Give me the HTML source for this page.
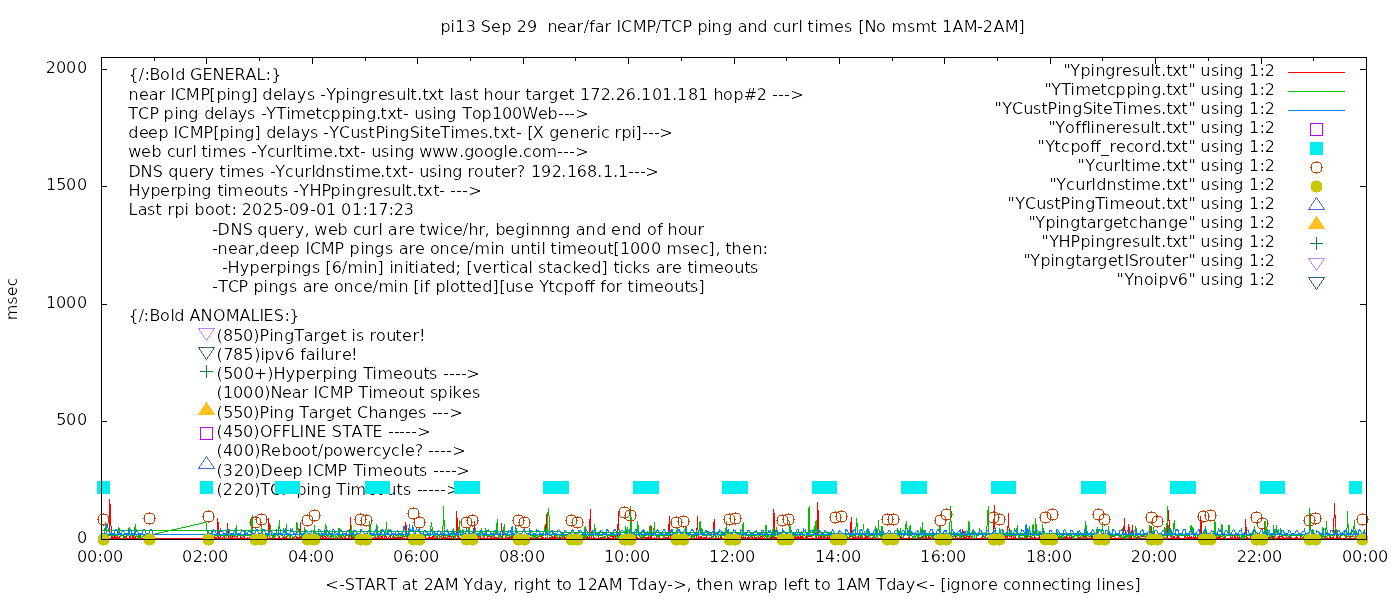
<!DOCTYPE html><html><head><meta charset="utf-8"><title>pi13 ping plot</title>
<style>html,body{margin:0;padding:0;background:#fff;overflow:hidden}svg{display:block;will-change:transform}text{font-family:"DejaVu Sans","Liberation Sans",sans-serif;font-size:16px;fill:#000;white-space:pre;font-kerning:none;font-variant-ligatures:none}</style></head><body>
<svg width="1400" height="600" viewBox="0 0 1400 600">
<rect width="1400" height="600" fill="#fff"/>
<defs><filter id="thin" filterUnits="userSpaceOnUse" x="0" y="0" width="1400" height="600"><feComponentTransfer><feFuncA type="gamma" amplitude="1" exponent="2.0" offset="0"/></feComponentTransfer></filter></defs>
<g filter="url(#thin)">
<text x="440.50 450.50 455.00 465.75 475.79 480.75 491.00 501.50 511.21 516.75 527.00 536.79 541.92 547.50 557.00 566.75 576.50 583.75 589.25 594.75 604.50 611.18 616.50 621.00 632.75 646.50 655.75 661.25 671.00 682.50 692.00 697.50 707.50 711.50 722.25 732.20 737.75 747.50 757.25 767.57 773.00 781.25 791.50 798.50 802.84 807.50 814.50 818.50 834.00 844.00 852.68 858.25 864.50 876.00 885.94 891.50 907.00 915.50 930.50 937.03 942.00 952.50 963.75 977.00 982.75 993.50 1004.75 1018.50" y="31.5">pi13 Sep 29  near/far ICMP/TCP ping and curl times [No msmt 1AM-2AM]</text>
<text transform="translate(17,299) rotate(-90)" text-anchor="middle">msec</text>
<text x="325.25 339.00 344.75 355.25 364.50 375.50 387.25 396.94 401.75 411.50 418.22 423.75 433.50 444.75 458.41 463.25 473.25 483.75 493.75 502.50 508.03 513.50 519.50 524.25 534.50 544.50 550.96 556.50 562.00 572.23 577.00 587.75 597.50 608.75 622.63 628.25 637.25 647.75 657.75 667.00 673.25 686.50 691.52 696.50 702.50 713.00 723.50 733.21 738.25 751.50 757.75 767.50 778.13 783.50 788.00 797.25 803.50 809.62 814.50 821.00 830.89 836.00 846.50 856.75 871.07 876.25 886.25 895.75 905.75 915.25 929.00 934.83 940.25 946.50 950.25 960.50 971.00 980.50 988.00 997.45 1003.00 1011.00 1021.50 1031.50 1042.00 1051.00 1060.50 1066.50 1071.50 1081.25 1091.51 1096.50 1101.50 1105.50 1116.00 1126.00 1134.50" y="590">&lt;-START at 2AM Yday, right to 12AM Tday-&gt;, then wrap left to 1AM Tday&lt;- [ignore connecting lines]</text>
<text x="77.00" y="543">0</text>
<text x="56.25 66.00 77.00" y="425">500</text>
<text x="46.00 56.00 66.00 77.00" y="308">1000</text>
<text x="46.00 56.25 66.00 77.00" y="190">1500</text>
<text x="45.75 56.00 66.00 77.00" y="73">2000</text>
<text x="77.00 87.00 97.50 103.00 113.00" y="562">00:00</text>
<text x="182.00 192.75 202.50 208.00 218.00" y="562">02:00</text>
<text x="288.00 298.00 308.50 313.00 324.00" y="562">04:00</text>
<text x="393.00 403.75 413.50 419.00 429.00" y="562">06:00</text>
<text x="499.00 509.00 519.50 524.00 535.00" y="562">08:00</text>
<text x="604.00 614.00 624.50 630.00 640.00" y="562">10:00</text>
<text x="709.00 719.75 729.50 735.00 745.00" y="562">12:00</text>
<text x="815.00 825.00 835.50 841.00 851.00" y="562">14:00</text>
<text x="920.00 930.75 940.50 946.00 956.00" y="562">16:00</text>
<text x="1026.00 1036.00 1046.50 1051.00 1062.00" y="562">18:00</text>
<text x="1130.75 1141.00 1151.50 1157.00 1167.00" y="562">20:00</text>
<text x="1236.75 1246.75 1256.50 1262.00 1272.00" y="562">22:00</text>
<text x="1342.00 1352.00 1362.50 1368.00 1378.00" y="562">00:00</text>
<text x="128.50 138.75 144.50 149.50 160.00 170.50 175.25 184.97 190.00 202.50 212.50 224.50 234.50 245.50 256.50 265.50 271.25" y="80">{/:Bold GENERAL:}</text>
<text x="128.50 139.00 148.75 158.50 165.00 170.50 175.00 185.75 200.50 209.25 216.50 226.50 230.50 241.25 251.50 257.44 262.25 273.00 282.50 286.75 296.75 307.00 314.98 320.00 326.25 335.50 345.50 350.50 360.25 370.50 378.00 387.00 396.25 406.50 410.50 417.25 422.50 428.25 437.50 444.21 449.50 453.75 464.00 472.50 478.44 483.50 494.00 503.25 513.50 520.46 525.50 531.75 541.50 548.25 559.00 568.50 574.88 580.00 590.25 600.75 610.25 615.75 625.75 636.25 641.00 652.00 662.00 672.25 677.00 688.00 698.00 708.06 713.50 723.00 733.50 743.75 756.75 767.16 772.00 778.00 784.00 790.25" y="100">near ICMP[ping] delays -Ypingresult.txt last hour target 172.26.101.181 hop#2 ---&gt;</text>
<text x="128.25 138.00 149.50 158.93 163.50 174.50 178.50 188.25 198.81 204.25 214.00 223.50 228.75 237.75 247.00 255.81 261.00 266.25 276.25 286.50 290.50 306.00 315.50 322.00 330.50 341.50 351.50 355.50 366.25 376.25 380.50 387.25 396.50 403.00 408.70 414.25 424.00 432.50 436.50 446.25 456.88 462.25 472.00 481.50 492.00 502.00 512.00 522.25 538.00 547.50 558.00 564.00 569.00 575.25" y="119">TCP ping delays -YTimetcpping.txt- using Top100Web---&gt;</text>
<text x="128.25 139.00 148.00 158.50 168.56 173.50 178.00 189.75 203.50 213.25 219.50 229.50 234.50 244.25 254.50 260.81 266.25 276.00 286.50 290.75 300.75 310.00 318.22 323.00 329.25 339.00 350.25 360.00 368.50 375.50 384.50 389.50 399.25 409.75 419.50 424.50 431.00 440.25 450.50 454.50 470.00 480.00 488.25 493.50 500.25 509.50 516.00 521.73 527.25 532.75 544.14 549.25 559.00 569.50 580.00 589.50 596.50 601.00 609.35 614.50 621.50 631.50 635.50 642.00 648.00 654.00 659.25" y="138">deep ICMP[ping] delays -YCustPingSiteTimes.txt- [X generic rpi]---&gt;</text>
<text x="128.25 141.00 151.50 161.52 167.00 175.25 185.50 192.50 196.62 201.50 207.50 212.50 228.00 238.00 246.25 251.00 257.25 267.00 275.25 285.50 292.50 296.50 303.50 307.50 323.00 333.25 338.50 344.25 353.50 360.00 366.04 371.25 381.00 389.50 394.50 404.25 414.41 419.25 432.25 445.25 459.25 464.25 474.00 484.00 493.25 503.50 508.00 518.25 523.00 532.00 541.50 557.00 563.00 569.00 575.25" y="157">web curl times -Ycurltime.txt- using www.google.com---&gt;</text>
<text x="128.50 140.50 152.75 163.02 168.25 178.25 189.00 198.50 204.75 214.63 219.50 226.50 230.50 246.00 256.00 264.54 270.00 275.25 285.00 294.25 304.50 311.50 315.25 325.50 336.00 344.50 350.50 355.50 371.00 380.25 385.50 392.25 401.50 408.00 413.86 419.25 429.00 437.50 442.50 452.25 462.51 467.50 474.00 484.25 494.50 501.00 510.50 516.75 525.74 531.00 541.00 551.75 561.25 567.00 576.75 587.00 597.25 603.00 613.25 618.00 628.00 634.00 640.00 645.25" y="177">DNS query times -Ycurldnstime.txt- using router? 192.168.1.1---&gt;</text>
<text x="128.50 140.75 150.50 160.00 170.50 176.50 187.50 191.50 201.25 211.96 217.50 223.50 227.50 244.00 254.00 263.25 273.50 280.00 288.32 293.00 299.25 309.50 321.50 330.50 341.50 345.50 356.25 366.50 373.00 383.00 391.25 401.50 405.50 412.25 417.50 423.25 433.50 439.00 445.33 450.00 456.00 462.00 468.25" y="196">Hyperping timeouts -YHPpingresult.txt- ---&gt;</text>
<text x="128.50 137.75 147.00 155.50 162.32 167.50 174.50 184.50 189.18 194.50 205.00 215.00 224.50 231.50 236.56 241.75 252.00 262.75 273.25 283.00 289.00 299.00 310.00 316.00 326.00 336.27 341.00 352.00 362.50 368.00 378.25 388.50 393.75 403.75" y="215">Last rpi boot: 2025-09-01 01:17:23</text>
<text x="212.00 217.50 230.50 242.75 252.48 257.25 268.25 278.00 287.50 294.75 304.50 309.29 314.25 328.00 337.50 347.72 353.00 361.25 371.50 378.50 383.09 387.75 398.50 405.00 414.66 419.50 426.25 439.50 444.00 453.00 462.75 468.50 478.50 484.50 490.03 495.50 505.00 515.25 525.50 530.50 540.50 550.50 560.25 570.88 575.75 585.50 596.25 606.32 611.00 621.50 631.25 641.81 647.00 657.25 662.51 667.50 678.00 687.25 697.50" y="235">-DNS query, web curl are twice/hr, beginnng and end of hour</text>
<text x="212.00 217.50 228.00 237.75 247.50 254.50 259.25 270.00 280.00 289.50 299.89 305.50 310.00 320.75 334.50 344.65 349.50 360.50 364.50 374.25 385.00 393.37 398.75 408.50 415.00 424.95 430.00 439.50 450.00 459.00 468.75 474.50 490.50 494.50 504.76 510.25 520.50 530.50 536.50 541.50 545.69 550.50 557.50 561.50 577.00 587.00 597.25 607.50 613.25 620.00 630.00 640.00 651.00 660.95 666.50 682.00 690.00 700.00 708.50 715.50 720.39 725.50 731.50 742.00 752.50 762.50" y="254">-near,deep ICMP pings are once/min until timeout[1000 msec], then:</text>
<text x="222.00 227.50 239.75 249.50 260.00 269.50 276.50 286.50 291.50 301.25 312.00 320.07 325.25 331.75 341.75 347.50 363.50 367.50 377.50 384.11 389.50 393.50 404.50 408.50 414.50 419.75 429.50 436.00 445.25 455.50 461.40 466.25 472.75 482.00 492.50 499.50 505.50 510.00 518.75 528.50 533.28 538.00 546.50 552.75 563.00 572.50 581.00 591.25 601.50 607.89 613.50 619.50 624.00 632.50 642.00 650.64 655.75 665.50 672.00 682.31 687.50 693.50 698.50 714.00 724.00 734.25 744.50 750.00" y="273">-Hyperpings [6/min] initiated; [vertical stacked] ticks are timeouts</text>
<text x="212.00 218.25 228.00 238.50 248.59 253.50 263.50 268.50 278.25 289.00 297.25 302.75 312.50 319.00 328.78 334.00 343.50 354.00 363.00 372.75 378.50 393.50 398.50 408.50 413.25 419.50 424.25 430.13 435.50 445.50 450.00 459.50 466.50 472.00 482.25 492.50 499.25 505.25 515.00 524.00 533.69 539.25 548.50 555.00 563.50 574.00 584.25 589.25 595.27 600.25 606.00 615.50 622.58 627.50 634.50 638.50 654.00 664.00 674.25 684.50 690.00 698.50" y="292">-TCP pings are once/min [if plotted][use Ytcpoff for timeouts]</text>
<text x="128.50 138.75 143.50 149.50 160.00 170.50 174.25 184.83 189.50 200.50 213.00 225.75 239.50 250.50 259.50 263.50 273.75 284.50 289.25" y="321">{/:Bold ANOMALIES:}</text>
<text x="216.50 223.00 233.25 243.00 253.25 259.50 269.50 273.50 284.25 294.25 303.75 313.50 320.25 330.00 340.50 346.54 351.50 356.00 364.40 369.50 376.00 386.25 395.50 402.00 412.50 419.00" y="341">(850)PingTarget is router!</text>
<text x="216.50 223.25 233.00 243.25 254.25 260.50 264.50 274.75 284.75 294.79 300.25 305.75 315.50 320.50 324.25 334.50 342.00 351.00" y="360">(785)ipv6 failure!</text>
<text x="216.50 223.25 233.00 244.00 253.75 267.25 273.50 285.75 295.50 306.00 315.50 322.50 332.50 337.50 347.25 357.68 363.25 372.50 377.50 393.00 403.00 413.25 423.50 429.00 437.89 443.00 449.00 455.00 461.00 466.25" y="379">(500+)Hyperping Timeouts ----&gt;</text>
<text x="216.50 223.00 233.00 243.00 254.00 264.25 270.50 282.00 291.75 301.50 308.53 313.50 318.00 329.75 343.50 353.18 358.25 368.50 372.50 388.00 398.00 408.25 418.50 424.47 430.00 437.50 448.50 452.50 462.00 472.00" y="398">(1000)Near ICMP Timeout spikes</text>
<text x="216.50 223.25 233.25 243.00 253.25 259.50 269.50 273.50 284.25 294.20 299.25 308.75 318.50 325.25 336.00 345.50 351.79 357.00 368.50 377.75 388.50 398.25 408.00 418.00 426.55 432.00 437.00 443.00 449.25" y="418">(550)Ping Target Changes ---&gt;</text>
<text x="216.50 223.00 233.25 243.00 253.25 260.00 272.50 281.50 290.50 299.50 304.50 316.50 326.77 331.75 342.25 351.50 363.25 372.50 382.77 388.00 394.00 399.00 405.00 411.00 417.25" y="437">(450)OFFLINE STATE -----&gt;</text>
<text x="216.50 223.00 233.00 244.00 254.25 260.50 271.00 281.50 292.00 301.00 311.50 317.75 323.50 333.00 343.25 356.00 366.50 373.00 381.75 391.00 400.50 405.00 414.75 423.30 428.00 434.00 440.00 446.00 452.25" y="456">(400)Reboot/powercycle? ----&gt;</text>
<text x="216.50 222.75 233.75 244.00 254.25 260.50 273.00 283.00 292.50 302.76 307.50 313.00 323.75 337.50 347.68 353.25 362.50 367.50 383.00 393.00 403.25 413.50 419.00 427.83 433.00 439.00 445.00 451.00 456.25" y="476">(320)Deep ICMP Timeouts ----&gt;</text>
<text x="216.50 222.75 233.75 244.00 254.25 260.25 270.00 281.50 290.96 296.50 306.50 310.50 321.25 331.35 336.25 346.50 350.50 367.00 376.00 386.25 396.50 403.00 411.36 417.00 422.00 428.00 434.00 440.00 446.25" y="495">(220)TCP ping Timeouts -----&gt;</text>
<text x="1063.50 1070.25 1080.50 1090.50 1095.50 1105.25 1115.50 1122.00 1132.00 1140.25 1150.50 1154.50 1161.25 1166.50 1172.25 1181.50 1188.50 1195.46 1200.25 1211.00 1219.50 1223.50 1233.25 1243.76 1249.00 1259.50 1264.75" y="76">"Ypingresult.txt" using 1:2</text>
<text x="1044.50 1051.25 1061.25 1070.50 1075.50 1091.00 1100.50 1107.00 1115.50 1126.50 1136.50 1140.50 1151.25 1161.25 1166.50 1172.25 1181.50 1188.50 1195.46 1200.25 1211.00 1219.50 1223.50 1233.25 1243.76 1249.00 1259.50 1264.75" y="95">"YTimetcpping.txt" using 1:2</text>
<text x="994.50 1002.25 1012.00 1023.25 1033.00 1041.50 1047.50 1057.50 1061.50 1072.25 1082.75 1092.50 1096.50 1103.00 1113.25 1122.50 1127.50 1143.00 1153.00 1161.25 1166.50 1172.25 1181.50 1188.50 1195.46 1200.25 1211.00 1219.50 1223.50 1233.25 1243.76 1249.00 1259.50 1264.75" y="114">"YCustPingSiteTimes.txt" using 1:2</text>
<text x="1048.50 1055.25 1065.00 1075.25 1081.25 1086.50 1090.50 1095.50 1106.00 1115.50 1122.00 1132.00 1140.25 1150.50 1154.50 1161.25 1166.50 1172.25 1181.50 1188.50 1195.46 1200.25 1211.00 1219.50 1223.50 1233.25 1243.76 1249.00 1259.50 1264.75" y="133">"Yofflineresult.txt" using 1:2</text>
<text x="1037.50 1045.25 1054.50 1061.00 1070.50 1080.00 1090.25 1095.25 1101.00 1109.50 1116.00 1126.00 1134.00 1144.50 1151.25 1161.25 1166.50 1172.25 1181.50 1188.50 1195.46 1200.25 1211.00 1219.50 1223.50 1233.25 1243.76 1249.00 1259.50 1264.75" y="152">"Ytcpoff_record.txt" using 1:2</text>
<text x="1077.50 1085.25 1095.00 1103.25 1113.50 1120.50 1124.50 1131.50 1135.50 1151.00 1161.25 1166.50 1172.25 1181.50 1188.50 1195.46 1200.25 1211.00 1219.50 1223.50 1233.25 1243.76 1249.00 1259.50 1264.75" y="171">"Ycurltime.txt" using 1:2</text>
<text x="1049.50 1056.25 1066.00 1075.25 1085.50 1091.50 1096.25 1106.50 1117.00 1124.50 1131.50 1135.50 1151.00 1161.25 1166.50 1172.25 1181.50 1188.50 1195.46 1200.25 1211.00 1219.50 1223.50 1233.25 1243.76 1249.00 1259.50 1264.75" y="190">"Ycurldnstime.txt" using 1:2</text>
<text x="1007.50 1015.25 1025.00 1036.25 1046.00 1054.50 1060.50 1070.50 1074.50 1085.25 1095.25 1104.50 1109.50 1125.00 1135.00 1144.25 1154.50 1161.25 1166.50 1172.25 1181.50 1188.50 1195.46 1200.25 1211.00 1219.50 1223.50 1233.25 1243.76 1249.00 1259.50 1264.75" y="209">"YCustPingTimeout.txt" using 1:2</text>
<text x="1028.50 1035.25 1045.50 1055.50 1059.50 1070.25 1080.50 1086.75 1096.50 1103.25 1113.00 1122.50 1129.00 1138.50 1147.75 1157.50 1168.25 1178.00 1188.50 1195.46 1200.25 1211.00 1219.50 1223.50 1233.25 1243.76 1249.00 1259.50 1264.75" y="228">"Ypingtargetchange" using 1:2</text>
<text x="1041.50 1049.25 1058.50 1070.50 1080.50 1090.50 1095.50 1105.25 1115.50 1122.00 1132.00 1140.25 1150.50 1154.50 1161.25 1166.50 1172.25 1181.50 1188.50 1195.46 1200.25 1211.00 1219.50 1223.50 1233.25 1243.76 1249.00 1259.50 1264.75" y="247">"YHPpingresult.txt" using 1:2</text>
<text x="1023.50 1030.25 1040.50 1050.50 1054.50 1065.25 1075.50 1081.75 1091.50 1097.25 1108.00 1117.50 1124.50 1128.75 1138.50 1145.00 1155.25 1165.50 1172.00 1181.50 1188.50 1195.46 1200.25 1211.00 1219.50 1223.50 1233.25 1243.76 1249.00 1259.50 1264.75" y="266">"YpingtargetISrouter" using 1:2</text>
<text x="1116.50 1124.25 1133.50 1144.00 1153.50 1158.50 1168.75 1177.75 1188.50 1195.46 1200.25 1211.00 1219.50 1223.50 1233.25 1243.76 1249.00 1259.50 1264.75" y="285">"Ynoipv6" using 1:2</text>
</g>
<path d="M101.5,539.5H107M1366.5,539.5H1360M101.5,421.5H107M1366.5,421.5H1360M101.5,304.5H107M1366.5,304.5H1360M101.5,186.5H107M1366.5,186.5H1360M101.5,69.5H107M1366.5,69.5H1360M101.5,539.5V533.5M101.5,57.5V63.5M154.5,539.5V536.5M154.5,57.5V60.5M206.5,539.5V533.5M206.5,57.5V63.5M259.5,539.5V536.5M259.5,57.5V60.5M312.5,539.5V533.5M312.5,57.5V63.5M365.5,539.5V536.5M365.5,57.5V60.5M417.5,539.5V533.5M417.5,57.5V63.5M470.5,539.5V536.5M470.5,57.5V60.5M523.5,539.5V533.5M523.5,57.5V63.5M575.5,539.5V536.5M575.5,57.5V60.5M628.5,539.5V533.5M628.5,57.5V63.5M681.5,539.5V536.5M681.5,57.5V60.5M734.5,539.5V533.5M734.5,57.5V63.5M786.5,539.5V536.5M786.5,57.5V60.5M839.5,539.5V533.5M839.5,57.5V63.5M892.5,539.5V536.5M892.5,57.5V60.5M944.5,539.5V533.5M944.5,57.5V63.5M997.5,539.5V536.5M997.5,57.5V60.5M1050.5,539.5V533.5M1050.5,57.5V63.5M1102.5,539.5V536.5M1102.5,57.5V60.5M1155.5,539.5V533.5M1155.5,57.5V63.5M1208.5,539.5V536.5M1208.5,57.5V60.5M1261.5,539.5V533.5M1261.5,57.5V63.5M1313.5,539.5V536.5M1313.5,57.5V60.5M1366.5,539.5V533.5M1366.5,57.5V63.5" stroke="#000" stroke-width="1" fill="none" shape-rendering="crispEdges"/>
<polyline points="206.42,536.51 207.30,538.51 208.17,538.51 209.05,536.51 209.93,537.50 210.81,537.50 211.69,538.51 212.57,538.51 213.44,536.51 214.32,536.51 215.20,538.51 216.08,537.50 216.96,538.51 217.84,518.00 218.72,537.50 219.59,538.51 220.47,536.51 221.35,538.51 222.23,538.51 223.11,536.51 223.99,536.51 224.86,538.51 225.74,538.51 226.62,537.50 227.50,523.00 228.38,537.50 229.26,536.51 230.14,536.51 231.01,537.50 231.89,537.50 232.77,536.51 233.65,536.51 234.53,536.51 235.41,537.50 236.28,536.51 237.16,536.51 238.04,538.51 238.92,538.51 239.80,538.51 240.68,536.51 241.56,538.51 242.43,538.51 243.31,536.51 244.19,536.51 245.07,538.51 245.95,538.51 246.83,538.51 247.70,537.50 248.58,538.51 249.46,538.51 250.34,536.51 251.22,538.51 252.10,538.51 252.98,538.51 253.85,538.51 254.73,538.51 255.61,536.51 256.49,536.51 257.37,538.51 258.25,537.50 259.12,536.51 260.00,538.51 260.88,538.51 261.76,538.51 262.64,537.50 263.52,537.50 264.40,538.51 265.27,538.51 266.15,538.51 267.03,537.50 267.91,537.50 268.79,518.00 269.67,536.51 270.55,538.51 271.42,538.51 272.30,538.51 273.18,537.50 274.06,536.51 274.94,538.51 275.82,538.51 276.69,538.51 277.57,538.51 278.45,538.51 279.33,536.51 280.21,538.51 281.09,538.51 281.97,538.51 282.84,537.50 283.72,536.51 284.60,538.51 285.48,538.51 286.36,536.51 287.24,538.51 288.11,538.51 288.99,538.51 289.87,538.51 290.75,538.51 291.63,538.51 292.51,538.51 293.39,537.50 294.26,536.51 295.14,538.51 296.02,538.51 296.90,536.51 297.78,538.51 298.66,537.50 299.53,537.50 300.41,522.00 301.29,538.51 302.17,538.51 303.05,538.51 303.93,537.50 304.81,536.51 305.68,536.51 306.56,536.51 307.44,538.51 308.32,538.51 309.20,538.51 310.08,538.51 310.95,538.51 311.83,536.51 312.71,538.51 313.59,538.51 314.47,536.51 315.35,536.51 316.23,536.51 317.10,538.51 317.98,536.51 318.86,536.51 319.74,538.51 320.62,536.51 321.50,536.51 322.38,536.51 323.25,538.51 324.13,536.51 325.01,536.51 325.89,538.51 326.77,537.50 327.65,536.51 328.52,537.50 329.40,536.51 330.28,537.50 331.16,537.50 332.04,536.51 332.92,536.51 333.80,538.51 334.67,538.51 335.55,536.51 336.43,538.51 337.31,538.51 338.19,536.51 339.07,536.51 339.94,536.51 340.82,538.51 341.70,536.51 342.58,538.51 343.46,538.51 344.34,538.51 345.22,536.51 346.09,538.51 346.97,538.51 347.85,538.51 348.73,536.51 349.61,538.51 350.49,517.25 351.36,538.51 352.24,536.51 353.12,538.51 354.00,536.51 354.88,536.51 355.76,538.51 356.64,538.51 357.51,536.51 358.39,538.51 359.27,536.51 360.15,538.51 361.03,538.51 361.91,537.50 362.78,536.51 363.66,536.51 364.54,538.51 365.42,536.51 366.30,538.51 367.18,538.51 368.06,538.51 368.93,536.51 369.81,538.51 370.69,538.51 371.57,538.51 372.45,538.51 373.33,537.50 374.20,536.51 375.08,536.51 375.96,538.51 376.84,537.50 377.72,536.51 378.60,536.51 379.48,538.51 380.35,536.51 381.23,537.50 382.11,536.51 382.99,538.51 383.87,538.51 384.75,536.51 385.62,536.51 386.50,536.51 387.38,538.51 388.26,538.51 389.14,536.51 390.02,536.51 390.90,538.51 391.77,538.51 392.65,538.51 393.53,536.51 394.41,538.51 395.29,538.51 396.17,537.50 397.05,538.51 397.92,536.51 398.80,538.51 399.68,536.51 400.56,536.51 401.44,538.51 402.32,536.51 403.19,538.51 404.07,538.51 404.95,538.51 405.83,522.00 406.71,536.51 407.59,536.51 408.47,538.51 409.34,538.51 410.22,538.51 411.10,538.51 411.98,536.51 412.86,538.51 413.74,536.51 414.61,536.51 415.49,536.51 416.37,538.51 417.25,538.51 418.13,538.51 419.01,536.51 419.89,538.51 420.76,538.51 421.64,537.50 422.52,538.51 423.40,536.51 424.28,536.51 425.16,536.51 426.03,538.51 426.91,538.51 427.79,538.51 428.67,537.50 429.55,536.51 430.43,538.51 431.31,538.51 432.18,536.51 433.06,538.51 433.94,536.51 434.82,536.51 435.70,538.51 436.58,536.51 437.45,536.51 438.33,538.51 439.21,537.50 440.09,536.51 440.97,536.51 441.85,536.51 442.73,538.51 443.60,536.51 444.48,538.51 445.36,537.50 446.24,538.51 447.12,538.51 448.00,536.51 448.88,536.51 449.75,537.50 450.63,536.51 451.51,538.51 452.39,536.51 453.27,536.51 454.15,538.51 455.02,536.51 455.90,538.51 456.78,511.25 457.66,536.51 458.54,536.51 459.42,538.51 460.30,538.51 461.17,538.51 462.05,536.51 462.93,536.51 463.81,538.51 464.69,538.51 465.57,538.51 466.44,538.51 467.32,538.51 468.20,536.51 469.08,538.51 469.96,536.51 470.84,536.51 471.72,536.51 472.59,536.51 473.47,538.51 474.35,520.60 475.23,538.51 476.11,538.51 476.99,538.51 477.86,537.50 478.74,536.51 479.62,536.51 480.50,536.51 481.38,538.51 482.26,538.51 483.14,536.51 484.01,536.51 484.89,538.51 485.77,538.51 486.65,538.51 487.53,536.51 488.41,536.51 489.28,536.51 490.16,536.51 491.04,538.51 491.92,536.51 492.80,536.51 493.68,538.51 494.56,536.51 495.43,538.51 496.31,537.50 497.19,538.51 498.07,536.51 498.95,538.51 499.83,538.51 500.70,536.51 501.58,523.00 502.46,536.51 503.34,538.51 504.22,538.51 505.10,538.51 505.98,536.51 506.85,536.51 507.73,538.51 508.61,538.51 509.49,536.51 510.37,538.51 511.25,536.51 512.12,538.51 513.00,536.51 513.88,536.51 514.76,538.51 515.64,538.51 516.52,538.51 517.40,538.51 518.27,538.51 519.15,538.51 520.03,536.51 520.91,537.50 521.79,536.51 522.67,538.51 523.55,538.51 524.42,536.51 525.30,536.51 526.18,538.51 527.06,538.51 527.94,538.51 528.82,538.51 529.69,538.51 530.57,537.50 531.45,537.50 532.33,536.51 533.21,536.51 534.09,536.51 534.97,538.51 535.84,537.50 536.72,538.51 537.60,536.51 538.48,537.50 539.36,536.51 540.24,536.51 541.11,536.51 541.99,538.51 542.87,537.50 543.75,537.50 544.63,538.51 545.51,536.51 546.39,514.40 547.26,538.51 548.14,538.51 549.02,538.51 549.90,537.50 550.78,538.51 551.66,538.51 552.53,536.51 553.41,537.50 554.29,537.50 555.17,536.51 556.05,537.50 556.93,538.51 557.81,538.51 558.68,538.51 559.56,536.51 560.44,538.51 561.32,536.51 562.20,536.51 563.08,538.51 563.95,538.51 564.83,536.51 565.71,538.51 566.59,538.51 567.47,536.51 568.35,538.51 569.23,538.51 570.10,537.50 570.98,538.51 571.86,538.51 572.74,538.51 573.62,538.51 574.50,538.51 575.38,538.51 576.25,538.51 577.13,536.51 578.01,536.51 578.89,536.51 579.77,538.51 580.65,538.51 581.52,536.51 582.40,538.51 583.28,538.51 584.16,536.51 585.04,538.51 585.92,536.51 586.80,538.51 587.67,536.51 588.55,538.51 589.43,538.51 590.31,509.40 591.19,536.51 592.07,538.51 592.94,538.51 593.82,536.51 594.70,538.51 595.58,538.51 596.46,538.51 597.34,538.51 598.22,537.50 599.09,538.51 599.97,538.51 600.85,537.50 601.73,538.51 602.61,537.50 603.49,536.51 604.36,536.51 605.24,536.51 606.12,538.51 607.00,538.51 607.88,536.51 608.76,538.51 609.64,537.50 610.51,536.51 611.39,536.51 612.27,536.51 613.15,538.51 614.03,536.51 614.91,536.51 615.78,537.50 616.66,536.51 617.54,538.51 618.42,511.25 619.30,538.51 620.18,536.51 621.06,536.51 621.93,538.51 622.81,536.51 623.69,538.51 624.57,536.51 625.45,538.51 626.33,538.51 627.20,538.51 628.08,538.51 628.96,538.51 629.84,537.50 630.72,538.51 631.60,538.51 632.48,538.51 633.35,537.50 634.23,536.51 635.11,536.51 635.99,538.51 636.87,536.51 637.75,538.51 638.62,538.51 639.50,538.51 640.38,538.51 641.26,538.51 642.14,536.51 643.02,538.51 643.90,538.51 644.77,536.51 645.65,538.51 646.53,537.50 647.41,538.51 648.29,536.51 649.17,537.50 650.05,537.50 650.92,525.00 651.80,537.50 652.68,538.51 653.56,538.51 654.44,537.50 655.32,538.51 656.19,537.50 657.07,536.51 657.95,536.51 658.83,536.51 659.71,538.51 660.59,538.51 661.47,538.51 662.34,538.51 663.22,538.51 664.10,537.50 664.98,538.51 665.86,537.50 666.74,538.51 667.61,538.51 668.49,536.51 669.37,516.25 670.25,538.51 671.13,538.51 672.01,537.50 672.89,536.51 673.76,537.50 674.64,537.50 675.52,537.50 676.40,538.51 677.28,538.51 678.16,538.51 679.03,538.51 679.91,538.51 680.79,537.50 681.67,538.51 682.55,538.51 683.43,538.51 684.31,538.51 685.18,537.50 686.06,538.51 686.94,538.51 687.82,538.51 688.70,538.51 689.58,538.51 690.45,538.51 691.33,538.51 692.21,538.51 693.09,536.51 693.97,536.51 694.85,538.51 695.73,538.51 696.60,538.51 697.48,516.25 698.36,538.51 699.24,537.50 700.12,537.50 701.00,536.51 701.88,538.51 702.75,538.51 703.63,537.50 704.51,537.50 705.39,538.51 706.27,536.51 707.15,538.51 708.02,538.51 708.90,538.51 709.78,537.50 710.66,538.51 711.54,538.51 712.42,536.51 713.30,536.51 714.17,519.40 715.05,536.51 715.93,536.51 716.81,538.51 717.69,538.51 718.57,537.50 719.44,538.51 720.32,538.51 721.20,536.51 722.08,538.51 722.96,538.51 723.84,538.51 724.72,536.51 725.59,538.51 726.47,536.51 727.35,538.51 728.23,536.51 729.11,538.51 729.99,538.51 730.86,536.51 731.74,536.51 732.62,538.51 733.50,538.51 734.38,538.51 735.26,536.51 736.14,538.51 737.01,538.51 737.89,536.51 738.77,537.50 739.65,538.51 740.53,538.51 741.41,536.51 742.28,538.51 743.16,536.51 744.04,538.51 744.92,537.50 745.80,538.51 746.68,538.51 747.56,538.51 748.43,536.51 749.31,538.51 750.19,536.51 751.07,536.51 751.95,538.51 752.83,537.50 753.70,538.51 754.58,536.51 755.46,538.51 756.34,538.51 757.22,536.51 758.10,536.51 758.98,537.50 759.85,537.50 760.73,536.51 761.61,536.51 762.49,536.51 763.37,538.51 764.25,538.51 765.12,536.51 766.00,536.51 766.88,538.51 767.76,538.51 768.64,538.51 769.52,538.51 770.40,536.51 771.27,538.51 772.15,536.51 773.03,538.51 773.91,509.40 774.79,537.50 775.67,537.50 776.55,537.50 777.42,536.51 778.30,536.51 779.18,538.51 780.06,537.50 780.94,538.51 781.82,536.51 782.69,538.51 783.57,536.51 784.45,538.51 785.33,538.51 786.21,538.51 787.09,536.51 787.97,538.51 788.84,538.51 789.72,536.51 790.60,537.50 791.48,538.51 792.36,538.51 793.24,537.50 794.11,538.51 794.99,538.51 795.87,536.51 796.75,538.51 797.63,536.51 798.51,536.51 799.39,538.51 800.26,536.51 801.14,537.50 802.02,536.51 802.90,537.50 803.78,538.51 804.66,538.51 805.53,536.51 806.41,536.51 807.29,538.51 808.17,536.51 809.05,536.51 809.93,536.51 810.81,536.51 811.68,536.51 812.56,538.51 813.44,538.51 814.32,538.51 815.20,538.51 816.08,538.51 816.95,537.50 817.83,502.25 818.71,538.51 819.59,538.51 820.47,536.51 821.35,536.51 822.23,538.51 823.10,538.51 823.98,536.51 824.86,538.51 825.74,538.51 826.62,538.51 827.50,536.51 828.38,537.50 829.25,537.50 830.13,536.51 831.01,538.51 831.89,537.50 832.77,538.51 833.65,538.51 834.52,538.51 835.40,538.51 836.28,538.51 837.16,536.51 838.04,538.51 838.92,536.51 839.80,538.51 840.67,538.51 841.55,538.51 842.43,536.51 843.31,536.51 844.19,538.51 845.07,537.50 845.94,537.50 846.82,538.51 847.70,536.51 848.58,538.51 849.46,537.50 850.34,536.51 851.22,517.25 852.09,538.51 852.97,538.51 853.85,536.51 854.73,538.51 855.61,536.51 856.49,538.51 857.36,536.51 858.24,536.51 859.12,537.50 860.00,538.51 860.88,536.51 861.76,536.51 862.64,538.51 863.51,538.51 864.39,538.51 865.27,536.51 866.15,537.50 867.03,536.51 867.91,538.51 868.78,536.51 869.66,536.51 870.54,538.51 871.42,538.51 872.30,538.51 873.18,536.51 874.06,538.51 874.93,537.50 875.81,538.51 876.69,538.51 877.57,538.51 878.45,538.51 879.33,538.51 880.20,538.51 881.08,538.51 881.96,536.51 882.84,536.51 883.72,537.50 884.60,538.51 885.48,536.51 886.35,536.51 887.23,538.51 888.11,536.51 888.99,538.51 889.87,538.51 890.75,536.51 891.62,536.51 892.50,537.50 893.38,536.51 894.26,538.51 895.14,538.51 896.02,538.51 896.90,536.51 897.77,538.51 898.65,536.51 899.53,536.51 900.41,536.51 901.29,538.51 902.17,537.50 903.05,538.51 903.92,538.51 904.80,538.51 905.68,538.51 906.56,538.51 907.44,538.51 908.32,538.51 909.19,536.51 910.07,538.51 910.95,538.51 911.83,538.51 912.71,538.51 913.59,538.51 914.47,538.51 915.34,537.50 916.22,538.51 917.10,538.51 917.98,537.50 918.86,537.50 919.74,538.51 920.61,538.51 921.49,536.51 922.37,536.51 923.25,538.51 924.13,538.51 925.01,538.51 925.89,536.51 926.76,537.50 927.64,538.51 928.52,536.51 929.40,536.51 930.28,538.51 931.16,536.51 932.03,536.51 932.91,536.51 933.79,538.51 934.67,538.51 935.55,536.51 936.43,536.51 937.31,538.51 938.18,538.51 939.06,536.51 939.94,538.51 940.82,536.51 941.70,537.50 942.58,538.51 943.45,538.51 944.33,536.51 945.21,538.51 946.09,538.51 946.97,538.51 947.85,538.51 948.73,537.50 949.60,538.51 950.48,538.51 951.36,538.51 952.24,538.51 953.12,538.51 954.00,538.51 954.88,538.51 955.75,536.51 956.63,536.51 957.51,538.51 958.39,538.51 959.27,538.51 960.15,537.50 961.02,537.50 961.90,538.51 962.78,528.75 963.66,538.51 964.54,536.51 965.42,538.51 966.30,537.50 967.17,536.51 968.05,536.51 968.93,538.51 969.81,536.51 970.69,536.51 971.57,536.51 972.44,538.51 973.32,538.51 974.20,538.51 975.08,538.51 975.96,538.51 976.84,538.51 977.72,538.51 978.59,538.51 979.47,538.51 980.35,538.51 981.23,537.50 982.11,538.51 982.99,536.51 983.86,536.51 984.74,538.51 985.62,538.51 986.50,538.51 987.38,538.51 988.26,536.51 989.14,538.51 990.01,538.51 990.89,538.51 991.77,538.51 992.65,537.50 993.53,537.50 994.41,505.00 995.28,538.51 996.16,538.51 997.04,538.51 997.92,538.51 998.80,538.51 999.68,537.50 1000.56,537.50 1001.43,538.51 1002.31,537.50 1003.19,538.51 1004.07,537.50 1004.95,536.51 1005.83,537.50 1006.70,536.51 1007.58,537.50 1008.46,513.10 1009.34,536.51 1010.22,536.51 1011.10,536.51 1011.98,538.51 1012.85,538.51 1013.73,536.51 1014.61,538.51 1015.49,536.51 1016.37,538.51 1017.25,538.51 1018.12,538.51 1019.00,537.50 1019.88,538.51 1020.76,537.50 1021.64,538.51 1022.52,537.50 1023.40,538.51 1024.27,538.51 1025.15,536.51 1026.03,536.51 1026.91,538.51 1027.79,536.51 1028.67,536.51 1029.55,536.51 1030.42,537.50 1031.30,538.51 1032.18,537.50 1033.06,538.51 1033.94,538.51 1034.82,536.51 1035.69,538.51 1036.57,538.51 1037.45,538.51 1038.33,538.51 1039.21,536.51 1040.09,538.51 1040.97,538.51 1041.84,536.51 1042.72,538.51 1043.60,537.50 1044.48,538.51 1045.36,536.51 1046.24,536.51 1047.11,536.51 1047.99,537.50 1048.87,538.51 1049.75,538.51 1050.63,538.51 1051.51,538.51 1052.39,536.51 1053.26,537.50 1054.14,538.51 1055.02,536.51 1055.90,538.51 1056.78,538.51 1057.66,536.51 1058.53,538.51 1059.41,536.51 1060.29,537.50 1061.17,538.51 1062.05,536.51 1062.93,538.51 1063.81,537.50 1064.68,538.51 1065.56,538.51 1066.44,536.51 1067.32,537.50 1068.20,538.51 1069.08,538.51 1069.95,536.51 1070.83,538.51 1071.71,536.51 1072.59,537.50 1073.47,536.51 1074.35,538.51 1075.23,538.51 1076.10,538.51 1076.98,538.51 1077.86,536.51 1078.74,538.51 1079.62,537.50 1080.50,538.51 1081.38,538.51 1082.25,536.51 1083.13,536.51 1084.01,538.51 1084.89,537.50 1085.77,536.51 1086.65,536.51 1087.52,538.51 1088.40,538.51 1089.28,538.51 1090.16,538.51 1091.04,538.51 1091.92,536.51 1092.80,537.50 1093.67,536.51 1094.55,538.51 1095.43,536.51 1096.31,536.51 1097.19,537.50 1098.07,537.50 1098.94,536.51 1099.82,538.51 1100.70,536.51 1101.58,538.51 1102.46,538.51 1103.34,538.51 1104.22,536.51 1105.09,536.51 1105.97,538.51 1106.85,538.51 1107.73,538.51 1108.61,538.51 1109.49,536.51 1110.36,537.50 1111.24,536.51 1112.12,536.51 1113.00,536.51 1113.88,536.51 1114.76,536.51 1115.64,538.51 1116.51,538.51 1117.39,538.51 1118.27,538.51 1119.15,536.51 1120.03,536.51 1120.91,538.51 1121.78,538.51 1122.66,537.50 1123.54,536.51 1124.42,518.10 1125.30,536.51 1126.18,538.51 1127.06,536.51 1127.93,536.51 1128.81,524.00 1129.69,538.51 1130.57,536.51 1131.45,538.51 1132.33,525.00 1133.20,536.51 1134.08,536.51 1134.96,536.51 1135.84,536.51 1136.72,538.51 1137.60,538.51 1138.48,536.51 1139.35,536.51 1140.23,538.51 1141.11,536.51 1141.99,536.51 1142.87,536.51 1143.75,536.51 1144.62,536.51 1145.50,536.51 1146.38,537.50 1147.26,538.51 1148.14,538.51 1149.02,536.51 1149.90,538.51 1150.77,536.51 1151.65,526.25 1152.53,536.51 1153.41,538.51 1154.29,537.50 1155.17,538.51 1156.05,538.51 1156.92,538.51 1157.80,538.51 1158.68,538.51 1159.56,537.50 1160.44,538.51 1161.32,538.51 1162.19,538.51 1163.07,538.51 1163.95,538.51 1164.83,537.50 1165.71,538.51 1166.59,538.51 1167.47,538.51 1168.34,510.00 1169.22,523.00 1170.10,536.51 1170.98,536.51 1171.86,537.50 1172.74,538.51 1173.61,536.51 1174.49,536.51 1175.37,538.51 1176.25,537.50 1177.13,537.50 1178.01,536.51 1178.89,537.50 1179.76,538.51 1180.64,538.51 1181.52,538.51 1182.40,538.51 1183.28,538.51 1184.16,538.51 1185.03,536.51 1185.91,536.51 1186.79,538.51 1187.67,536.51 1188.55,538.51 1189.43,536.51 1190.31,538.51 1191.18,536.51 1192.06,538.51 1192.94,538.51 1193.82,536.51 1194.70,538.51 1195.58,536.51 1196.45,538.51 1197.33,537.50 1198.21,537.50 1199.09,536.51 1199.97,538.51 1200.85,516.25 1201.73,538.51 1202.60,538.51 1203.48,538.51 1204.36,536.51 1205.24,538.51 1206.12,538.51 1207.00,538.51 1207.88,537.50 1208.75,538.51 1209.63,538.51 1210.51,537.50 1211.39,538.51 1212.27,538.51 1213.15,537.50 1214.02,538.51 1214.90,537.50 1215.78,538.51 1216.66,536.51 1217.54,537.50 1218.42,536.51 1219.30,538.51 1220.17,536.51 1221.05,536.51 1221.93,536.51 1222.81,536.51 1223.69,538.51 1224.57,537.50 1225.44,536.51 1226.32,538.51 1227.20,538.51 1228.08,538.51 1228.96,538.51 1229.84,538.51 1230.72,536.51 1231.59,538.51 1232.47,536.51 1233.35,538.51 1234.23,537.50 1235.11,536.51 1235.99,538.51 1236.86,538.51 1237.74,536.51 1238.62,538.51 1239.50,536.51 1240.38,538.51 1241.26,538.51 1242.14,538.51 1243.01,536.51 1243.89,537.50 1244.77,537.50 1245.65,518.75 1246.53,538.51 1247.41,537.50 1248.28,538.51 1249.16,538.51 1250.04,538.51 1250.92,536.51 1251.80,538.51 1252.68,538.51 1253.56,536.51 1254.43,538.51 1255.31,537.50 1256.19,536.51 1257.07,538.51 1257.95,538.51 1258.83,536.51 1259.70,538.51 1260.58,537.50 1261.46,538.51 1262.34,536.51 1263.22,538.51 1264.10,536.51 1264.98,525.00 1265.85,538.51 1266.73,538.51 1267.61,538.51 1268.49,537.50 1269.37,537.50 1270.25,537.50 1271.12,538.51 1272.00,538.51 1272.88,536.51 1273.76,537.50 1274.64,538.51 1275.52,538.51 1276.40,538.51 1277.27,538.51 1278.15,536.51 1279.03,537.50 1279.91,536.51 1280.79,536.51 1281.67,536.51 1282.55,536.51 1283.42,538.51 1284.30,538.51 1285.18,538.51 1286.06,536.51 1286.94,536.51 1287.82,538.51 1288.69,538.51 1289.57,538.51 1290.45,536.51 1291.33,537.50 1292.21,538.51 1293.09,538.51 1293.97,538.51 1294.84,538.51 1295.72,537.50 1296.60,536.51 1297.48,538.51 1298.36,538.51 1299.24,538.51 1300.11,538.51 1300.99,536.51 1301.87,536.51 1302.75,538.51 1303.63,538.51 1304.51,538.51 1305.39,536.51 1306.26,538.51 1307.14,538.51 1308.02,537.50 1308.90,538.51 1309.78,538.51 1310.66,538.51 1311.53,538.51 1312.41,538.51 1313.29,538.51 1314.17,538.51 1315.05,536.51 1315.93,538.51 1316.81,536.51 1317.68,538.51 1318.56,537.50 1319.44,538.51 1320.32,538.51 1321.20,537.50 1322.08,538.51 1322.95,536.51 1323.83,536.51 1324.71,538.51 1325.59,536.51 1326.47,536.51 1327.35,537.50 1328.23,538.51 1329.10,538.51 1329.98,538.51 1330.86,536.51 1331.74,538.51 1332.62,537.50 1333.50,538.51 1334.38,503.10 1335.25,520.00 1336.13,537.50 1337.01,537.50 1337.89,536.51 1338.77,538.51 1339.65,537.50 1340.52,536.51 1341.40,538.51 1342.28,538.51 1343.16,538.51 1344.04,538.51 1344.92,538.51 1345.80,536.51 1346.67,536.51 1347.55,536.51 1348.43,536.51 1349.31,536.51 1350.19,537.50 1351.07,536.51 1351.94,536.51 1352.82,536.51 1353.70,536.51 1354.58,538.51 1355.46,538.51 1356.34,536.51 1357.22,537.50 1358.09,538.51 1358.97,538.51 1359.85,538.51 1360.73,537.50 1361.61,536.51 1362.49,538.51 1363.36,536.51 1364.24,538.51 1365.12,536.51 1366.00,538.51 101.00,538.51 101.88,538.51 102.76,538.51 103.64,536.51 104.51,538.51 105.39,536.51 106.27,536.51 107.15,537.50 108.03,536.51 108.91,538.51 109.78,499.40 110.66,518.00 111.54,538.51 112.42,536.51 113.30,538.51 114.18,536.51 115.06,538.51 115.93,536.51 116.81,538.51 117.69,536.51 118.57,537.50 119.45,536.51 120.33,538.51 121.20,538.51 122.08,538.51 122.96,538.51 123.84,536.51 124.72,536.51 125.60,538.51 126.48,536.51 127.35,538.51 128.23,538.51 129.11,538.51 129.99,536.51 130.87,538.51 131.75,538.51 132.62,536.51 133.50,536.51 134.38,538.51 135.26,536.51 136.14,538.51 137.02,538.51 137.90,538.51 138.77,537.50 139.65,538.51 140.53,536.51 141.41,538.51 142.29,536.51 143.17,536.51 144.05,536.51 144.92,536.51 145.80,538.51 146.68,537.50 147.56,537.50 148.44,538.51 149.32,536.51 150.19,538.51 151.07,538.51 151.95,538.51 152.83,538.51 153.71,538.51" fill="none" stroke="#ff0000" stroke-width="1" shape-rendering="crispEdges"/>
<polyline points="206.42,522.55 207.30,535.25 208.17,538.51 209.05,535.25 209.93,536.51 210.81,535.25 211.69,531.46 212.57,536.51 213.44,537.50 214.32,535.25 215.20,535.25 216.08,535.25 216.96,535.25 217.84,535.25 218.72,535.25 219.59,535.25 220.47,535.25 221.35,535.25 222.23,535.25 223.11,535.25 223.99,535.25 224.86,535.25 225.74,535.25 226.62,538.51 227.50,533.15 228.38,535.25 229.26,536.51 230.14,535.25 231.01,535.25 231.89,535.25 232.77,535.25 233.65,535.25 234.53,535.25 235.41,535.25 236.28,525.00 237.16,535.25 238.04,535.25 238.92,535.25 239.80,535.25 240.68,535.25 241.56,535.25 242.43,535.25 243.31,535.25 244.19,535.25 245.07,530.87 245.95,535.25 246.83,535.25 247.70,535.25 248.58,535.25 249.46,535.25 250.34,535.25 251.22,535.25 252.10,515.00 252.98,535.25 253.85,535.25 254.73,535.25 255.61,535.25 256.49,535.25 257.37,535.25 258.25,535.25 259.12,535.25 260.00,535.25 260.88,535.25 261.76,526.22 262.64,535.25 263.52,535.25 264.40,535.25 265.27,535.25 266.15,535.25 267.03,535.25 267.91,535.25 268.79,535.25 269.67,535.25 270.55,525.00 271.42,535.25 272.30,535.25 273.18,538.51 274.06,535.25 274.94,536.51 275.82,535.25 276.69,531.34 277.57,535.25 278.45,536.51 279.33,520.00 280.21,531.48 281.09,535.25 281.97,535.25 282.84,535.25 283.72,537.50 284.60,535.25 285.48,533.15 286.36,524.00 287.24,536.51 288.11,535.25 288.99,535.25 289.87,538.51 290.75,535.25 291.63,535.25 292.51,536.51 293.39,538.51 294.26,538.51 295.14,536.51 296.02,535.25 296.90,522.00 297.78,529.00 298.66,528.44 299.53,535.25 300.41,537.50 301.29,535.25 302.17,535.25 303.05,535.25 303.93,535.25 304.81,527.46 305.68,535.25 306.56,537.50 307.44,535.25 308.32,535.25 309.20,535.25 310.08,535.25 310.95,535.25 311.83,535.25 312.71,535.25 313.59,535.25 314.47,524.69 315.35,535.25 316.23,535.25 317.10,535.25 317.98,535.25 318.86,532.18 319.74,537.50 320.62,535.25 321.50,535.25 322.38,535.25 323.25,535.25 324.13,535.25 325.01,529.39 325.89,524.00 326.77,535.25 327.65,535.25 328.52,535.25 329.40,529.58 330.28,535.25 331.16,538.51 332.04,535.25 332.92,536.51 333.80,535.25 334.67,532.47 335.55,538.51 336.43,538.51 337.31,535.25 338.19,535.25 339.07,527.63 339.94,538.51 340.82,535.25 341.70,535.25 342.58,535.25 343.46,535.25 344.34,537.50 345.22,535.25 346.09,535.25 346.97,535.25 347.85,535.25 348.73,535.25 349.61,538.51 350.49,535.25 351.36,524.58 352.24,535.25 353.12,536.51 354.00,535.25 354.88,538.51 355.76,535.25 356.64,535.25 357.51,537.50 358.39,536.51 359.27,535.25 360.15,536.51 361.03,535.25 361.91,538.51 362.78,535.25 363.66,535.25 364.54,537.50 365.42,536.51 366.30,535.25 367.18,535.25 368.06,537.50 368.93,535.25 369.81,521.00 370.69,536.51 371.57,535.25 372.45,535.25 373.33,535.25 374.20,535.25 375.08,536.51 375.96,535.25 376.84,524.00 377.72,535.25 378.60,535.25 379.48,535.25 380.35,535.25 381.23,528.66 382.11,535.25 382.99,535.25 383.87,535.25 384.75,535.25 385.62,535.25 386.50,522.00 387.38,535.25 388.26,529.54 389.14,535.25 390.02,535.25 390.90,535.25 391.77,535.25 392.65,537.50 393.53,536.51 394.41,537.50 395.29,535.25 396.17,535.25 397.05,535.25 397.92,535.25 398.80,535.25 399.68,537.50 400.56,535.25 401.44,535.25 402.32,535.25 403.19,535.25 404.07,537.50 404.95,536.51 405.83,535.25 406.71,535.25 407.59,535.25 408.47,535.25 409.34,528.77 410.22,538.51 411.10,535.25 411.98,535.25 412.86,535.25 413.74,535.25 414.61,535.25 415.49,535.25 416.37,537.50 417.25,535.25 418.13,535.25 419.01,535.25 419.89,535.25 420.76,535.25 421.64,537.50 422.52,535.25 423.40,535.25 424.28,535.25 425.16,535.25 426.03,535.25 426.91,535.25 427.79,535.25 428.67,535.25 429.55,535.25 430.43,535.25 431.31,522.00 432.18,527.81 433.06,535.25 433.94,535.25 434.82,535.25 435.70,535.25 436.58,537.50 437.45,535.25 438.33,535.25 439.21,535.25 440.09,538.51 440.97,538.51 441.85,535.25 442.73,535.25 443.60,506.25 444.48,535.25 445.36,536.51 446.24,535.25 447.12,536.51 448.00,535.25 448.88,535.25 449.75,535.25 450.63,535.25 451.51,536.51 452.39,535.25 453.27,528.30 454.15,535.25 455.02,538.51 455.90,535.25 456.78,535.25 457.66,535.25 458.54,535.25 459.42,520.00 460.30,535.25 461.17,535.25 462.05,535.25 462.93,528.87 463.81,538.51 464.69,535.25 465.57,535.25 466.44,535.25 467.32,535.25 468.20,535.25 469.08,527.78 469.96,535.25 470.84,535.25 471.72,537.50 472.59,535.25 473.47,535.25 474.35,533.27 475.23,535.25 476.11,535.25 476.99,535.25 477.86,535.25 478.74,535.25 479.62,535.25 480.50,535.25 481.38,527.56 482.26,535.25 483.14,535.25 484.01,535.25 484.89,537.50 485.77,527.59 486.65,535.25 487.53,535.25 488.41,535.25 489.28,535.25 490.16,536.51 491.04,536.51 491.92,535.25 492.80,535.25 493.68,535.25 494.56,535.25 495.43,531.28 496.31,535.25 497.19,519.40 498.07,535.25 498.95,537.50 499.83,535.25 500.70,537.50 501.58,537.50 502.46,535.25 503.34,535.25 504.22,524.00 505.10,535.25 505.98,536.51 506.85,535.25 507.73,535.25 508.61,535.25 509.49,535.25 510.37,538.51 511.25,535.25 512.12,535.25 513.00,535.25 513.88,538.51 514.76,535.25 515.64,526.14 516.52,535.25 517.40,535.25 518.27,535.25 519.15,535.25 520.03,535.25 520.91,535.25 521.79,535.25 522.67,535.25 523.55,535.25 524.42,535.25 525.30,535.25 526.18,535.25 527.06,535.25 527.94,535.25 528.82,535.25 529.69,527.80 530.57,535.25 531.45,535.25 532.33,535.25 533.21,537.50 534.09,535.25 534.97,538.51 535.84,535.25 536.72,535.25 537.60,535.25 538.48,538.51 539.36,535.25 540.24,535.25 541.11,535.25 541.99,535.25 542.87,535.25 543.75,535.25 544.63,525.92 545.51,535.25 546.39,527.66 547.26,537.50 548.14,508.00 549.02,516.25 549.90,535.25 550.78,535.25 551.66,537.50 552.53,530.30 553.41,531.22 554.29,535.25 555.17,535.25 556.05,535.25 556.93,535.25 557.81,538.51 558.68,538.51 559.56,535.25 560.44,535.25 561.32,536.51 562.20,535.25 563.08,536.51 563.95,535.25 564.83,535.25 565.71,535.25 566.59,535.25 567.47,535.25 568.35,535.25 569.23,535.25 570.10,535.25 570.98,535.25 571.86,535.25 572.74,535.25 573.62,535.25 574.50,535.25 575.38,535.25 576.25,535.25 577.13,535.25 578.01,535.25 578.89,535.25 579.77,538.51 580.65,535.25 581.52,535.25 582.40,536.51 583.28,535.25 584.16,537.50 585.04,526.23 585.92,538.51 586.80,535.25 587.67,533.14 588.55,535.25 589.43,535.25 590.31,535.25 591.19,535.25 592.07,535.25 592.94,535.25 593.82,535.25 594.70,524.00 595.58,535.25 596.46,536.51 597.34,535.25 598.22,536.51 599.09,535.25 599.97,535.25 600.85,535.25 601.73,535.25 602.61,535.25 603.49,537.50 604.36,536.51 605.24,538.51 606.12,535.25 607.00,535.25 607.88,535.25 608.76,535.25 609.64,535.25 610.51,535.25 611.39,535.25 612.27,535.25 613.15,535.25 614.03,535.25 614.91,535.25 615.78,535.25 616.66,535.25 617.54,538.51 618.42,538.51 619.30,529.51 620.18,535.25 621.06,535.25 621.93,535.25 622.81,535.25 623.69,535.25 624.57,535.25 625.45,526.53 626.33,535.25 627.20,527.08 628.08,535.25 628.96,535.25 629.84,536.51 630.72,506.25 631.60,537.50 632.48,535.25 633.35,535.25 634.23,535.25 635.11,535.25 635.99,535.25 636.87,535.25 637.75,521.25 638.62,535.25 639.50,535.25 640.38,538.51 641.26,535.25 642.14,536.51 643.02,535.25 643.90,538.51 644.77,535.25 645.65,535.25 646.53,535.25 647.41,531.49 648.29,535.25 649.17,535.25 650.05,525.30 650.92,535.25 651.80,535.25 652.68,535.25 653.56,535.25 654.44,522.25 655.32,535.25 656.19,536.51 657.07,535.25 657.95,535.25 658.83,537.50 659.71,535.25 660.59,535.25 661.47,535.25 662.34,535.25 663.22,535.25 664.10,538.51 664.98,535.25 665.86,535.25 666.74,535.25 667.61,535.25 668.49,535.25 669.37,535.25 670.25,531.66 671.13,535.25 672.01,537.50 672.89,535.25 673.76,535.25 674.64,537.50 675.52,535.25 676.40,535.25 677.28,527.86 678.16,535.25 679.03,535.25 679.91,535.25 680.79,531.51 681.67,535.25 682.55,533.25 683.43,535.25 684.31,537.50 685.18,536.51 686.06,526.89 686.94,535.25 687.82,535.25 688.70,535.25 689.58,535.25 690.45,536.51 691.33,535.25 692.21,538.51 693.09,535.25 693.97,535.25 694.85,536.51 695.73,535.25 696.60,532.63 697.48,535.25 698.36,535.25 699.24,528.32 700.12,521.25 701.00,535.25 701.88,527.84 702.75,535.25 703.63,535.25 704.51,535.25 705.39,535.25 706.27,535.25 707.15,535.25 708.02,535.25 708.90,531.13 709.78,535.25 710.66,535.25 711.54,535.25 712.42,537.50 713.30,535.25 714.17,535.25 715.05,535.25 715.93,538.51 716.81,536.51 717.69,535.25 718.57,536.51 719.44,535.25 720.32,536.51 721.20,535.25 722.08,530.92 722.96,535.25 723.84,535.25 724.72,535.25 725.59,535.25 726.47,521.25 727.35,535.25 728.23,533.14 729.11,535.25 729.99,538.51 730.86,538.51 731.74,535.25 732.62,535.25 733.50,535.25 734.38,535.25 735.26,536.51 736.14,535.25 737.01,535.25 737.89,536.51 738.77,537.50 739.65,535.25 740.53,532.94 741.41,535.25 742.28,535.25 743.16,522.25 744.04,537.50 744.92,537.50 745.80,535.25 746.68,535.25 747.56,535.25 748.43,535.25 749.31,535.25 750.19,535.25 751.07,535.25 751.95,537.50 752.83,535.25 753.70,535.25 754.58,535.25 755.46,535.25 756.34,535.25 757.22,536.51 758.10,536.51 758.98,535.25 759.85,535.25 760.73,535.25 761.61,531.74 762.49,535.25 763.37,536.51 764.25,535.25 765.12,535.25 766.00,525.28 766.88,538.51 767.76,535.25 768.64,535.25 769.52,538.51 770.40,535.25 771.27,536.51 772.15,535.25 773.03,528.45 773.91,536.51 774.79,535.25 775.67,535.25 776.55,527.54 777.42,536.51 778.30,535.25 779.18,535.25 780.06,535.25 780.94,535.25 781.82,538.51 782.69,535.25 783.57,535.25 784.45,535.25 785.33,535.25 786.21,535.25 787.09,535.25 787.97,535.25 788.84,535.25 789.72,521.25 790.60,535.25 791.48,536.51 792.36,535.25 793.24,535.25 794.11,537.50 794.99,535.25 795.87,535.25 796.75,535.25 797.63,535.25 798.51,529.41 799.39,535.25 800.26,535.25 801.14,531.40 802.02,535.25 802.90,535.25 803.78,535.25 804.66,535.25 805.53,537.50 806.41,535.25 807.29,536.51 808.17,535.25 809.05,506.25 809.93,535.25 810.81,535.25 811.68,535.25 812.56,535.25 813.44,535.25 814.32,525.79 815.20,537.50 816.08,520.00 816.95,535.25 817.83,535.25 818.71,535.25 819.59,535.25 820.47,535.25 821.35,535.25 822.23,535.25 823.10,536.51 823.98,535.25 824.86,535.25 825.74,536.51 826.62,535.25 827.50,535.25 828.38,535.25 829.25,535.25 830.13,535.25 831.01,535.25 831.89,535.25 832.77,535.25 833.65,536.51 834.52,535.25 835.40,537.50 836.28,535.25 837.16,535.25 838.04,535.25 838.92,535.25 839.80,535.25 840.67,535.25 841.55,535.25 842.43,535.25 843.31,535.25 844.19,535.25 845.07,535.25 845.94,535.25 846.82,535.25 847.70,537.50 848.58,538.51 849.46,535.25 850.34,535.25 851.22,535.25 852.09,535.25 852.97,537.50 853.85,535.25 854.73,535.25 855.61,535.25 856.49,518.10 857.36,525.46 858.24,535.25 859.12,535.25 860.00,532.11 860.88,535.25 861.76,537.50 862.64,535.25 863.51,524.00 864.39,535.25 865.27,535.25 866.15,535.25 867.03,535.25 867.91,527.89 868.78,537.50 869.66,535.25 870.54,535.25 871.42,535.25 872.30,535.25 873.18,535.25 874.06,538.51 874.93,535.25 875.81,525.81 876.69,535.25 877.57,538.51 878.45,520.00 879.33,535.25 880.20,535.25 881.08,537.50 881.96,525.65 882.84,535.25 883.72,535.25 884.60,537.50 885.48,535.25 886.35,535.25 887.23,535.25 888.11,535.25 888.99,535.25 889.87,535.25 890.75,537.50 891.62,535.25 892.50,535.25 893.38,538.51 894.26,535.25 895.14,536.51 896.02,536.51 896.90,538.51 897.77,527.85 898.65,537.50 899.53,535.25 900.41,528.26 901.29,535.25 902.17,537.50 903.05,537.50 903.92,535.25 904.80,535.25 905.68,525.59 906.56,521.25 907.44,535.25 908.32,535.25 909.19,535.25 910.07,525.18 910.95,535.25 911.83,535.25 912.71,538.51 913.59,537.50 914.47,535.25 915.34,538.51 916.22,535.25 917.10,535.25 917.98,538.51 918.86,535.25 919.74,535.25 920.61,527.12 921.49,538.51 922.37,522.25 923.25,538.51 924.13,530.03 925.01,536.51 925.89,535.25 926.76,535.25 927.64,535.25 928.52,535.25 929.40,536.51 930.28,535.25 931.16,535.25 932.03,535.25 932.91,538.51 933.79,535.25 934.67,535.25 935.55,536.51 936.43,535.25 937.31,535.25 938.18,535.25 939.06,535.25 939.94,525.41 940.82,536.51 941.70,538.51 942.58,535.25 943.45,535.25 944.33,535.25 945.21,537.50 946.09,535.25 946.97,535.25 947.85,535.25 948.73,538.51 949.60,535.25 950.48,506.25 951.36,530.37 952.24,538.51 953.12,535.25 954.00,536.51 954.88,535.25 955.75,535.25 956.63,535.25 957.51,535.25 958.39,535.25 959.27,535.25 960.15,538.51 961.02,535.25 961.90,536.51 962.78,535.25 963.66,536.51 964.54,530.96 965.42,535.25 966.30,535.25 967.17,536.51 968.05,535.25 968.93,521.25 969.81,535.25 970.69,535.25 971.57,537.50 972.44,538.51 973.32,529.29 974.20,535.25 975.08,538.51 975.96,538.51 976.84,535.25 977.72,535.25 978.59,535.25 979.47,528.41 980.35,535.25 981.23,532.11 982.11,535.25 982.99,535.25 983.86,535.25 984.74,538.51 985.62,535.25 986.50,535.25 987.38,520.00 988.26,506.00 989.14,538.51 990.01,535.25 990.89,535.25 991.77,538.51 992.65,537.50 993.53,535.25 994.41,535.25 995.28,537.50 996.16,535.25 997.04,535.25 997.92,535.25 998.80,535.25 999.68,528.33 1000.56,535.25 1001.43,535.25 1002.31,535.25 1003.19,529.85 1004.07,535.25 1004.95,535.25 1005.83,535.25 1006.70,535.25 1007.58,535.25 1008.46,535.25 1009.34,535.25 1010.22,535.25 1011.10,529.68 1011.98,535.25 1012.85,535.25 1013.73,535.25 1014.61,535.25 1015.49,535.25 1016.37,535.25 1017.25,524.74 1018.12,535.25 1019.00,538.51 1019.88,535.25 1020.76,535.25 1021.64,535.25 1022.52,535.25 1023.40,535.25 1024.27,535.25 1025.15,538.51 1026.03,529.29 1026.91,535.25 1027.79,537.50 1028.67,535.25 1029.55,526.33 1030.42,536.51 1031.30,537.50 1032.18,535.25 1033.06,524.45 1033.94,535.25 1034.82,535.25 1035.69,518.10 1036.57,535.25 1037.45,535.25 1038.33,535.25 1039.21,535.25 1040.09,530.88 1040.97,533.13 1041.84,535.25 1042.72,524.00 1043.60,535.25 1044.48,537.50 1045.36,537.50 1046.24,535.25 1047.11,535.25 1047.99,535.25 1048.87,537.50 1049.75,538.51 1050.63,537.50 1051.51,535.25 1052.39,535.25 1053.26,535.25 1054.14,535.25 1055.02,537.50 1055.90,536.51 1056.78,529.94 1057.66,535.25 1058.53,536.51 1059.41,535.25 1060.29,538.51 1061.17,535.25 1062.05,538.51 1062.93,535.25 1063.81,535.25 1064.68,537.50 1065.56,536.51 1066.44,535.25 1067.32,535.25 1068.20,535.25 1069.08,535.25 1069.95,535.25 1070.83,535.25 1071.71,535.25 1072.59,538.51 1073.47,538.51 1074.35,535.25 1075.23,535.25 1076.10,535.25 1076.98,535.25 1077.86,538.51 1078.74,532.29 1079.62,535.25 1080.50,537.50 1081.38,535.25 1082.25,536.51 1083.13,535.25 1084.01,535.25 1084.89,538.51 1085.77,521.25 1086.65,535.25 1087.52,535.25 1088.40,535.25 1089.28,537.50 1090.16,536.51 1091.04,531.43 1091.92,535.25 1092.80,535.25 1093.67,538.51 1094.55,538.51 1095.43,535.25 1096.31,535.25 1097.19,527.19 1098.07,535.25 1098.94,538.51 1099.82,535.25 1100.70,535.25 1101.58,535.25 1102.46,522.25 1103.34,535.25 1104.22,537.50 1105.09,532.61 1105.97,535.25 1106.85,535.25 1107.73,535.25 1108.61,526.44 1109.49,535.25 1110.36,535.25 1111.24,537.50 1112.12,535.25 1113.00,535.25 1113.88,535.25 1114.76,536.51 1115.64,535.25 1116.51,535.25 1117.39,535.25 1118.27,535.25 1119.15,535.25 1120.03,535.25 1120.91,536.51 1121.78,536.51 1122.66,527.79 1123.54,537.50 1124.42,538.51 1125.30,535.25 1126.18,538.51 1127.06,535.25 1127.93,535.25 1128.81,538.51 1129.69,537.50 1130.57,532.13 1131.45,535.25 1132.33,535.25 1133.20,535.25 1134.08,538.51 1134.96,538.51 1135.84,526.31 1136.72,535.25 1137.60,535.25 1138.48,538.51 1139.35,538.51 1140.23,535.25 1141.11,535.25 1141.99,535.25 1142.87,535.25 1143.75,535.25 1144.62,536.51 1145.50,538.51 1146.38,535.25 1147.26,535.25 1148.14,535.25 1149.02,536.51 1149.90,525.16 1150.77,535.25 1151.65,538.51 1152.53,535.25 1153.41,526.79 1154.29,536.51 1155.17,535.25 1156.05,535.25 1156.92,535.25 1157.80,535.25 1158.68,535.25 1159.56,535.25 1160.44,536.51 1161.32,538.51 1162.19,535.25 1163.07,535.25 1163.95,536.51 1164.83,526.59 1165.71,535.25 1166.59,538.51 1167.47,506.00 1168.34,535.25 1169.22,535.25 1170.10,527.80 1170.98,535.25 1171.86,535.25 1172.74,535.25 1173.61,525.71 1174.49,520.00 1175.37,535.25 1176.25,535.25 1177.13,535.25 1178.01,535.25 1178.89,535.25 1179.76,535.25 1180.64,535.25 1181.52,535.25 1182.40,535.25 1183.28,535.25 1184.16,535.25 1185.03,535.25 1185.91,535.25 1186.79,535.25 1187.67,536.51 1188.55,535.25 1189.43,535.25 1190.31,529.34 1191.18,524.88 1192.06,535.25 1192.94,527.32 1193.82,535.25 1194.70,535.25 1195.58,535.25 1196.45,532.30 1197.33,536.51 1198.21,535.25 1199.09,535.25 1199.97,535.25 1200.85,535.25 1201.73,535.25 1202.60,536.51 1203.48,538.51 1204.36,536.51 1205.24,526.53 1206.12,537.50 1207.00,535.25 1207.88,535.25 1208.75,535.25 1209.63,535.25 1210.51,535.25 1211.39,537.50 1212.27,533.32 1213.15,537.50 1214.02,538.51 1214.90,520.00 1215.78,537.50 1216.66,535.25 1217.54,535.25 1218.42,535.25 1219.30,535.25 1220.17,537.50 1221.05,535.25 1221.93,524.00 1222.81,535.25 1223.69,535.25 1224.57,535.25 1225.44,537.50 1226.32,535.25 1227.20,535.25 1228.08,535.25 1228.96,524.93 1229.84,535.25 1230.72,535.25 1231.59,535.25 1232.47,536.51 1233.35,535.25 1234.23,535.25 1235.11,535.25 1235.99,535.25 1236.86,535.25 1237.74,535.25 1238.62,535.25 1239.50,535.25 1240.38,538.51 1241.26,537.50 1242.14,535.25 1243.01,538.51 1243.89,535.25 1244.77,537.50 1245.65,536.51 1246.53,535.25 1247.41,535.25 1248.28,535.25 1249.16,535.25 1250.04,535.25 1250.92,535.25 1251.80,535.25 1252.68,531.02 1253.56,535.25 1254.43,526.00 1255.31,535.25 1256.19,535.25 1257.07,535.25 1257.95,535.25 1258.83,535.25 1259.70,538.51 1260.58,535.25 1261.46,535.25 1262.34,535.25 1263.22,535.25 1264.10,535.25 1264.98,521.00 1265.85,535.25 1266.73,526.59 1267.61,535.25 1268.49,533.20 1269.37,536.51 1270.25,535.25 1271.12,538.51 1272.00,535.25 1272.88,535.25 1273.76,525.25 1274.64,537.50 1275.52,535.25 1276.40,524.97 1277.27,535.25 1278.15,528.98 1279.03,535.25 1279.91,535.25 1280.79,528.30 1281.67,535.25 1282.55,535.25 1283.42,535.25 1284.30,535.25 1285.18,535.25 1286.06,535.25 1286.94,535.25 1287.82,535.25 1288.69,537.50 1289.57,535.25 1290.45,535.25 1291.33,535.25 1292.21,535.25 1293.09,535.25 1293.97,535.25 1294.84,535.25 1295.72,535.25 1296.60,535.25 1297.48,535.25 1298.36,535.25 1299.24,535.25 1300.11,535.25 1300.99,535.25 1301.87,535.25 1302.75,535.25 1303.63,538.51 1304.51,535.25 1305.39,533.13 1306.26,535.25 1307.14,535.25 1308.02,535.25 1308.90,535.25 1309.78,508.10 1310.66,527.43 1311.53,535.25 1312.41,530.01 1313.29,531.00 1314.17,535.25 1315.05,538.51 1315.93,537.50 1316.81,535.25 1317.68,535.25 1318.56,535.25 1319.44,535.25 1320.32,535.25 1321.20,535.25 1322.08,538.51 1322.95,527.48 1323.83,535.25 1324.71,538.51 1325.59,535.25 1326.47,521.25 1327.35,535.25 1328.23,535.25 1329.10,535.25 1329.98,537.50 1330.86,535.25 1331.74,535.25 1332.62,535.25 1333.50,535.25 1334.38,535.25 1335.25,527.82 1336.13,529.25 1337.01,535.25 1337.89,535.25 1338.77,535.25 1339.65,537.50 1340.52,535.25 1341.40,535.25 1342.28,535.25 1343.16,531.13 1344.04,531.42 1344.92,535.25 1345.80,535.25 1346.67,538.51 1347.55,511.25 1348.43,535.25 1349.31,537.50 1350.19,535.25 1351.07,531.61 1351.94,535.25 1352.82,536.51 1353.70,529.31 1354.58,520.00 1355.46,538.51 1356.34,530.67 1357.22,535.25 1358.09,535.25 1358.97,535.25 1359.85,535.25 1360.73,535.25 1361.61,535.25 1362.49,535.25 1363.36,537.50 1364.24,528.75 1365.12,535.25 1366.00,535.00 101.00,530.30 101.88,535.25 102.76,535.25 103.64,535.25 104.51,535.25 105.39,522.00 106.27,535.25 107.15,535.25 108.03,537.50 108.91,535.25 109.78,535.25 110.66,535.25 111.54,535.25 112.42,535.25 113.30,535.25 114.18,535.25 115.06,535.25 115.93,535.25 116.81,535.25 117.69,535.25 118.57,527.98 119.45,528.21 120.33,536.51 121.20,535.25 122.08,535.25 122.96,535.25 123.84,536.51 124.72,538.51 125.60,536.51 126.48,535.25 127.35,535.25 128.23,535.25 129.11,527.00 129.99,535.25 130.87,535.25 131.75,535.25 132.62,535.25 133.50,535.25 134.38,535.25 135.26,524.00 136.14,535.25 137.02,536.51 137.90,538.51 138.77,532.30 139.65,538.51 140.53,538.51 141.41,537.50 142.29,536.51 143.17,536.51 144.05,535.25 144.92,535.25 145.80,535.25 146.68,535.25 147.56,535.25 148.44,538.51 149.32,535.25 150.19,536.51 151.07,537.50 151.95,535.25 152.83,535.25 153.71,534.30 206.32,522.30" fill="none" stroke="#00c000" stroke-width="1" shape-rendering="crispEdges"/>
<polyline points="206.42,530.49 207.30,530.49 208.17,531.50 209.05,533.50 209.93,533.50 210.81,533.50 211.69,533.50 212.57,533.50 213.44,529.51 214.32,530.49 215.20,530.49 216.08,533.50 216.96,533.50 217.84,533.50 218.72,533.50 219.59,533.50 220.47,529.51 221.35,531.50 222.23,530.49 223.11,532.49 223.99,533.50 224.86,533.50 225.74,533.50 226.62,533.50 227.50,529.51 228.38,529.51 229.26,529.51 230.14,533.50 231.01,533.50 231.89,533.50 232.77,533.50 233.65,533.50 234.53,530.49 235.41,530.49 236.28,530.49 237.16,533.50 238.04,533.50 238.92,533.50 239.80,533.50 240.68,533.50 241.56,529.51 242.43,530.49 243.31,530.49 244.19,532.49 245.07,533.50 245.95,533.50 246.83,533.50 247.70,533.50 248.58,530.49 249.46,531.50 250.34,530.49 251.22,533.50 252.10,533.50 252.98,533.50 253.85,533.50 254.73,533.50 255.61,531.50 256.49,529.51 257.37,529.51 258.25,533.50 259.12,533.50 260.00,533.50 260.88,533.50 261.76,533.50 262.64,529.51 263.52,529.51 264.40,529.51 265.27,533.50 266.15,533.50 267.03,533.50 267.91,533.50 268.79,533.50 269.67,530.49 270.55,531.50 271.42,530.49 272.30,532.49 273.18,533.50 274.06,533.50 274.94,533.50 275.82,533.50 276.69,529.51 277.57,530.49 278.45,531.50 279.33,533.50 280.21,533.50 281.09,533.50 281.97,533.50 282.84,533.50 283.72,529.51 284.60,531.50 285.48,529.51 286.36,533.50 287.24,533.50 288.11,533.50 288.99,533.50 289.87,533.50 290.75,529.51 291.63,531.50 292.51,529.51 293.39,533.50 294.26,533.50 295.14,533.50 296.02,533.50 296.90,533.50 297.78,531.50 298.66,530.49 299.53,531.50 300.41,533.50 301.29,533.50 302.17,533.50 303.05,533.50 303.93,533.50 304.81,530.49 305.68,531.50 306.56,530.49 307.44,533.50 308.32,533.50 309.20,533.50 310.08,533.50 310.95,533.50 311.83,530.49 312.71,531.50 313.59,531.50 314.47,532.49 315.35,533.50 316.23,533.50 317.10,533.50 317.98,533.50 318.86,529.51 319.74,529.51 320.62,530.49 321.50,533.50 322.38,533.50 323.25,533.50 324.13,533.50 325.01,533.50 325.89,530.49 326.77,529.51 327.65,530.49 328.52,532.49 329.40,533.50 330.28,533.50 331.16,533.50 332.04,533.50 332.92,529.51 333.80,529.51 334.67,530.49 335.55,532.49 336.43,533.50 337.31,533.50 338.19,533.50 339.07,533.50 339.94,530.49 340.82,529.51 341.70,531.50 342.58,533.50 343.46,533.50 344.34,533.50 345.22,533.50 346.09,533.50 346.97,531.50 347.85,530.49 348.73,530.49 349.61,533.50 350.49,533.50 351.36,533.50 352.24,533.50 353.12,533.50 354.00,530.49 354.88,530.49 355.76,530.49 356.64,533.50 357.51,533.50 358.39,533.50 359.27,533.50 360.15,533.50 361.03,529.51 361.91,531.50 362.78,531.50 363.66,532.49 364.54,533.50 365.42,533.50 366.30,533.50 367.18,533.50 368.06,530.49 368.93,531.50 369.81,531.50 370.69,533.50 371.57,533.50 372.45,533.50 373.33,533.50 374.20,533.50 375.08,530.49 375.96,529.51 376.84,529.51 377.72,533.50 378.60,533.50 379.48,533.50 380.35,533.50 381.23,533.50 382.11,529.51 382.99,530.49 383.87,531.50 384.75,533.50 385.62,533.50 386.50,533.50 387.38,533.50 388.26,533.50 389.14,530.49 390.02,531.50 390.90,529.51 391.77,533.50 392.65,533.50 393.53,533.50 394.41,533.50 395.29,533.50 396.17,531.50 397.05,531.50 397.92,530.49 398.80,533.50 399.68,533.50 400.56,533.50 401.44,533.50 402.32,533.50 403.19,531.50 404.07,526.08 404.95,529.51 405.83,533.50 406.71,533.50 407.59,533.50 408.47,533.50 409.34,524.43 410.22,530.49 411.10,530.49 411.98,531.50 412.86,525.37 413.74,533.50 414.61,533.50 415.49,533.50 416.37,527.25 417.25,531.50 418.13,531.50 419.01,529.51 419.89,532.49 420.76,533.50 421.64,533.50 422.52,533.50 423.40,533.50 424.28,530.49 425.16,530.49 426.03,531.50 426.91,532.49 427.79,533.50 428.67,533.50 429.55,533.50 430.43,533.50 431.31,529.51 432.18,531.50 433.06,531.50 433.94,532.49 434.82,533.50 435.70,533.50 436.58,533.50 437.45,533.50 438.33,530.49 439.21,531.50 440.09,531.50 440.97,533.50 441.85,533.50 442.73,533.50 443.60,533.50 444.48,533.50 445.36,531.50 446.24,531.50 447.12,529.51 448.00,532.49 448.88,533.50 449.75,533.50 450.63,533.50 451.51,533.50 452.39,530.49 453.27,530.49 454.15,531.50 455.02,533.50 455.90,533.50 456.78,533.50 457.66,533.50 458.54,533.50 459.42,531.50 460.30,530.49 461.17,531.50 462.05,532.49 462.93,533.50 463.81,533.50 464.69,533.50 465.57,533.50 466.44,529.51 467.32,530.49 468.20,530.49 469.08,533.50 469.96,533.50 470.84,533.50 471.72,533.50 472.59,533.50 473.47,531.50 474.35,530.49 475.23,529.51 476.11,533.50 476.99,533.50 477.86,533.50 478.74,533.50 479.62,533.50 480.50,530.49 481.38,530.49 482.26,531.50 483.14,533.50 484.01,533.50 484.89,533.50 485.77,533.50 486.65,533.50 487.53,530.49 488.41,529.51 489.28,531.50 490.16,532.49 491.04,533.50 491.92,533.50 492.80,533.50 493.68,533.50 494.56,530.49 495.43,530.49 496.31,530.49 497.19,533.50 498.07,533.50 498.95,533.50 499.83,533.50 500.70,533.50 501.58,530.49 502.46,531.50 503.34,531.50 504.22,533.50 505.10,533.50 505.98,533.50 506.85,533.50 507.73,533.50 508.61,530.49 509.49,531.50 510.37,530.49 511.25,533.50 512.12,526.08 513.00,533.50 513.88,533.50 514.76,533.50 515.64,531.50 516.52,529.51 517.40,531.50 518.27,533.50 519.15,533.50 520.03,533.50 520.91,533.50 521.79,533.50 522.67,531.50 523.55,529.51 524.42,529.51 525.30,532.49 526.18,533.50 527.06,533.50 527.94,533.50 528.82,533.50 529.69,529.51 530.57,530.49 531.45,530.49 532.33,532.49 533.21,533.50 534.09,533.50 534.97,533.50 535.84,533.50 536.72,529.51 537.60,530.49 538.48,530.49 539.36,533.50 540.24,533.50 541.11,533.50 541.99,533.50 542.87,533.50 543.75,531.50 544.63,531.50 545.51,530.49 546.39,533.50 547.26,533.50 548.14,533.50 549.02,533.50 549.90,533.50 550.78,531.50 551.66,530.49 552.53,530.49 553.41,532.49 554.29,533.50 555.17,533.50 556.05,533.50 556.93,533.50 557.81,530.49 558.68,529.51 559.56,530.49 560.44,532.49 561.32,533.50 562.20,533.50 563.08,533.50 563.95,533.50 564.83,530.49 565.71,530.49 566.59,531.50 567.47,532.49 568.35,533.50 569.23,533.50 570.10,533.50 570.98,533.50 571.86,530.49 572.74,529.51 573.62,530.49 574.50,533.50 575.38,533.50 576.25,533.50 577.13,533.50 578.01,533.50 578.89,530.49 579.77,531.50 580.65,530.49 581.52,532.49 582.40,533.50 583.28,533.50 584.16,533.50 585.04,533.50 585.92,529.51 586.80,530.49 587.67,531.50 588.55,532.49 589.43,533.50 590.31,533.50 591.19,533.50 592.07,533.50 592.94,530.49 593.82,530.49 594.70,530.49 595.58,532.49 596.46,533.50 597.34,533.50 598.22,533.50 599.09,533.50 599.97,531.50 600.85,530.49 601.73,530.49 602.61,533.50 603.49,533.50 604.36,533.50 605.24,533.50 606.12,533.50 607.00,529.51 607.88,530.49 608.76,531.50 609.64,532.49 610.51,533.50 611.39,533.50 612.27,533.50 613.15,533.50 614.03,529.51 614.91,530.49 615.78,529.51 616.66,533.50 617.54,533.50 618.42,533.50 619.30,533.50 620.18,533.50 621.06,530.49 621.93,530.49 622.81,530.49 623.69,532.49 624.57,533.50 625.45,533.50 626.33,533.50 627.20,533.50 628.08,530.49 628.96,530.49 629.84,529.51 630.72,533.50 631.60,533.50 632.48,533.50 633.35,533.50 634.23,533.50 635.11,530.49 635.99,529.51 636.87,531.50 637.75,532.49 638.62,533.50 639.50,533.50 640.38,533.50 641.26,533.50 642.14,530.49 643.02,531.50 643.90,529.51 644.77,533.50 645.65,533.50 646.53,533.50 647.41,533.50 648.29,533.50 649.17,531.50 650.05,531.50 650.92,531.50 651.80,532.49 652.68,533.50 653.56,533.50 654.44,533.50 655.32,533.50 656.19,531.50 657.07,529.51 657.95,530.49 658.83,532.49 659.71,533.50 660.59,533.50 661.47,533.50 662.34,533.50 663.22,530.49 664.10,529.51 664.98,530.49 665.86,533.50 666.74,533.50 667.61,533.50 668.49,533.50 669.37,533.50 670.25,530.49 671.13,531.50 672.01,529.51 672.89,533.50 673.76,533.50 674.64,533.50 675.52,533.50 676.40,533.50 677.28,529.51 678.16,530.49 679.03,529.51 679.91,532.49 680.79,533.50 681.67,533.50 682.55,533.50 683.43,533.50 684.31,529.51 685.18,531.50 686.06,529.51 686.94,533.50 687.82,533.50 688.70,533.50 689.58,533.50 690.45,533.50 691.33,529.51 692.21,529.51 693.09,530.49 693.97,532.49 694.85,533.50 695.73,533.50 696.60,533.50 697.48,533.50 698.36,531.50 699.24,530.49 700.12,529.51 701.00,532.49 701.88,533.50 702.75,533.50 703.63,533.50 704.51,533.50 705.39,530.49 706.27,530.49 707.15,531.50 708.02,533.50 708.90,533.50 709.78,533.50 710.66,533.50 711.54,533.50 712.42,531.50 713.30,530.49 714.17,529.51 715.05,533.50 715.93,533.50 716.81,533.50 717.69,533.50 718.57,533.50 719.44,529.51 720.32,530.49 721.20,531.50 722.08,533.50 722.96,533.50 723.84,533.50 724.72,533.50 725.59,533.50 726.47,530.49 727.35,530.49 728.23,529.51 729.11,532.49 729.99,533.50 730.86,533.50 731.74,533.50 732.62,533.50 733.50,529.51 734.38,530.49 735.26,530.49 736.14,533.50 737.01,533.50 737.89,533.50 738.77,533.50 739.65,533.50 740.53,529.51 741.41,530.49 742.28,530.49 743.16,533.50 744.04,533.50 744.92,533.50 745.80,533.50 746.68,533.50 747.56,530.49 748.43,530.49 749.31,530.49 750.19,533.50 751.07,533.50 751.95,533.50 752.83,533.50 753.70,533.50 754.58,531.50 755.46,531.50 756.34,530.49 757.22,532.49 758.10,533.50 758.98,533.50 759.85,533.50 760.73,533.50 761.61,530.49 762.49,530.49 763.37,530.49 764.25,533.50 765.12,533.50 766.00,533.50 766.88,533.50 767.76,533.50 768.64,530.49 769.52,531.50 770.40,530.49 771.27,533.50 772.15,533.50 773.03,533.50 773.91,533.50 774.79,533.50 775.67,530.49 776.55,530.49 777.42,530.49 778.30,533.50 779.18,533.50 780.06,533.50 780.94,533.50 781.82,533.50 782.69,529.51 783.57,531.50 784.45,531.50 785.33,533.50 786.21,533.50 787.09,533.50 787.97,533.50 788.84,533.50 789.72,531.50 790.60,529.51 791.48,530.49 792.36,533.50 793.24,533.50 794.11,533.50 794.99,533.50 795.87,533.50 796.75,530.49 797.63,529.51 798.51,530.49 799.39,533.50 800.26,533.50 801.14,533.50 802.02,533.50 802.90,533.50 803.78,529.51 804.66,530.49 805.53,529.51 806.41,533.50 807.29,533.50 808.17,533.50 809.05,533.50 809.93,533.50 810.81,530.49 811.68,530.49 812.56,530.49 813.44,533.50 814.32,533.50 815.20,533.50 816.08,533.50 816.95,533.50 817.83,529.51 818.71,529.51 819.59,530.49 820.47,532.49 821.35,533.50 822.23,533.50 823.10,533.50 823.98,533.50 824.86,530.49 825.74,530.49 826.62,531.50 827.50,533.50 828.38,533.50 829.25,533.50 830.13,533.50 831.01,533.50 831.89,531.50 832.77,529.51 833.65,531.50 834.52,533.50 835.40,533.50 836.28,533.50 837.16,533.50 838.04,533.50 838.92,531.50 839.80,530.49 840.67,531.50 841.55,533.50 842.43,533.50 843.31,533.50 844.19,533.50 845.07,533.50 845.94,529.51 846.82,530.49 847.70,530.49 848.58,533.50 849.46,533.50 850.34,533.50 851.22,533.50 852.09,533.50 852.97,530.49 853.85,531.50 854.73,529.51 855.61,533.50 856.49,533.50 857.36,533.50 858.24,533.50 859.12,533.50 860.00,530.49 860.88,529.51 861.76,529.51 862.64,533.50 863.51,533.50 864.39,533.50 865.27,533.50 866.15,533.50 867.03,530.49 867.91,529.51 868.78,530.49 869.66,533.50 870.54,533.50 871.42,533.50 872.30,533.50 873.18,533.50 874.06,530.49 874.93,529.51 875.81,530.49 876.69,533.50 877.57,533.50 878.45,533.50 879.33,533.50 880.20,533.50 881.08,530.49 881.96,530.49 882.84,530.49 883.72,533.50 884.60,533.50 885.48,533.50 886.35,533.50 887.23,533.50 888.11,531.50 888.99,530.49 889.87,530.49 890.75,533.50 891.62,533.50 892.50,533.50 893.38,533.50 894.26,533.50 895.14,530.49 896.02,530.49 896.90,530.49 897.77,533.50 898.65,533.50 899.53,533.50 900.41,533.50 901.29,533.50 902.17,531.50 903.05,530.49 903.92,530.49 904.80,533.50 905.68,533.50 906.56,533.50 907.44,533.50 908.32,533.50 909.19,529.51 910.07,530.49 910.95,530.49 911.83,532.49 912.71,533.50 913.59,533.50 914.47,533.50 915.34,533.50 916.22,531.50 917.10,531.50 917.98,530.49 918.86,533.50 919.74,533.50 920.61,533.50 921.49,533.50 922.37,533.50 923.25,531.50 924.13,530.49 925.01,530.49 925.89,533.50 926.76,533.50 927.64,533.50 928.52,533.50 929.40,533.50 930.28,529.51 931.16,529.51 932.03,529.51 932.91,532.49 933.79,533.50 934.67,533.50 935.55,533.50 936.43,533.50 937.31,529.51 938.18,529.51 939.06,530.49 939.94,533.50 940.82,533.50 941.70,533.50 942.58,533.50 943.45,533.50 944.33,530.49 945.21,531.50 946.09,530.49 946.97,533.50 947.85,533.50 948.73,533.50 949.60,533.50 950.48,533.50 951.36,530.49 952.24,529.51 953.12,531.50 954.00,532.49 954.88,533.50 955.75,533.50 956.63,533.50 957.51,533.50 958.39,531.50 959.27,531.50 960.15,529.51 961.02,532.49 961.90,533.50 962.78,533.50 963.66,533.50 964.54,533.50 965.42,531.50 966.30,530.49 967.17,531.50 968.05,533.50 968.93,533.50 969.81,533.50 970.69,533.50 971.57,533.50 972.44,530.49 973.32,529.51 974.20,531.50 975.08,532.49 975.96,533.50 976.84,533.50 977.72,533.50 978.59,533.50 979.47,531.50 980.35,530.49 981.23,530.49 982.11,532.49 982.99,533.50 983.86,533.50 984.74,533.50 985.62,533.50 986.50,529.51 987.38,530.49 988.26,530.49 989.14,533.50 990.01,533.50 990.89,533.50 991.77,533.50 992.65,533.50 993.53,530.49 994.41,531.50 995.28,529.51 996.16,533.50 997.04,533.50 997.92,533.50 998.80,533.50 999.68,533.50 1000.56,530.49 1001.43,529.51 1002.31,529.51 1003.19,533.50 1004.07,533.50 1004.95,533.50 1005.83,533.50 1006.70,533.50 1007.58,530.49 1008.46,530.49 1009.34,530.49 1010.22,533.50 1011.10,533.50 1011.98,533.50 1012.85,533.50 1013.73,533.50 1014.61,529.51 1015.49,531.50 1016.37,530.49 1017.25,532.49 1018.12,533.50 1019.00,533.50 1019.88,533.50 1020.76,533.50 1021.64,529.51 1022.52,530.49 1023.40,530.49 1024.27,532.49 1025.15,533.50 1026.03,524.43 1026.91,533.50 1027.79,528.42 1028.67,531.50 1029.55,530.49 1030.42,531.50 1031.30,533.50 1032.18,533.50 1033.06,533.50 1033.94,533.50 1034.82,533.50 1035.69,529.51 1036.57,529.51 1037.45,530.49 1038.33,533.50 1039.21,533.50 1040.09,533.50 1040.97,533.50 1041.84,533.50 1042.72,530.49 1043.60,530.49 1044.48,531.50 1045.36,533.50 1046.24,533.50 1047.11,533.50 1047.99,533.50 1048.87,533.50 1049.75,530.49 1050.63,530.49 1051.51,530.49 1052.39,533.50 1053.26,533.50 1054.14,533.50 1055.02,533.50 1055.90,533.50 1056.78,529.51 1057.66,529.51 1058.53,530.49 1059.41,533.50 1060.29,533.50 1061.17,533.50 1062.05,533.50 1062.93,533.50 1063.81,530.49 1064.68,529.51 1065.56,530.49 1066.44,533.50 1067.32,533.50 1068.20,533.50 1069.08,533.50 1069.95,533.50 1070.83,530.49 1071.71,530.49 1072.59,530.49 1073.47,533.50 1074.35,533.50 1075.23,533.50 1076.10,533.50 1076.98,533.50 1077.86,531.50 1078.74,531.50 1079.62,530.49 1080.50,533.50 1081.38,533.50 1082.25,533.50 1083.13,533.50 1084.01,533.50 1084.89,529.51 1085.77,529.51 1086.65,529.51 1087.52,533.50 1088.40,533.50 1089.28,533.50 1090.16,533.50 1091.04,533.50 1091.92,531.50 1092.80,529.51 1093.67,531.50 1094.55,533.50 1095.43,533.50 1096.31,533.50 1097.19,533.50 1098.07,533.50 1098.94,529.51 1099.82,530.49 1100.70,530.49 1101.58,533.50 1102.46,533.50 1103.34,533.50 1104.22,533.50 1105.09,533.50 1105.97,530.49 1106.85,530.49 1107.73,530.49 1108.61,533.50 1109.49,533.50 1110.36,533.50 1111.24,533.50 1112.12,533.50 1113.00,529.51 1113.88,530.49 1114.76,530.49 1115.64,533.50 1116.51,533.50 1117.39,533.50 1118.27,533.50 1119.15,533.50 1120.03,530.49 1120.91,530.49 1121.78,529.51 1122.66,532.49 1123.54,533.50 1124.42,533.50 1125.30,533.50 1126.18,533.50 1127.06,531.50 1127.93,530.49 1128.81,530.49 1129.69,533.50 1130.57,533.50 1131.45,533.50 1132.33,533.50 1133.20,533.50 1134.08,530.49 1134.96,530.49 1135.84,530.49 1136.72,533.50 1137.60,533.50 1138.48,533.50 1139.35,533.50 1140.23,533.50 1141.11,530.49 1141.99,530.49 1142.87,529.51 1143.75,533.50 1144.62,533.50 1145.50,533.50 1146.38,533.50 1147.26,533.50 1148.14,531.50 1149.02,531.50 1149.90,531.50 1150.77,533.50 1151.65,533.50 1152.53,533.50 1153.41,533.50 1154.29,533.50 1155.17,530.49 1156.05,530.49 1156.92,530.49 1157.80,533.50 1158.68,533.50 1159.56,533.50 1160.44,533.50 1161.32,533.50 1162.19,531.50 1163.07,530.49 1163.95,530.49 1164.83,533.50 1165.71,533.50 1166.59,533.50 1167.47,533.50 1168.34,533.50 1169.22,529.51 1170.10,530.49 1170.98,529.51 1171.86,533.50 1172.74,533.50 1173.61,533.50 1174.49,533.50 1175.37,533.50 1176.25,530.49 1177.13,529.51 1178.01,530.49 1178.89,533.50 1179.76,533.50 1180.64,533.50 1181.52,533.50 1182.40,533.50 1183.28,530.49 1184.16,529.51 1185.03,529.51 1185.91,533.50 1186.79,533.50 1187.67,533.50 1188.55,533.50 1189.43,533.50 1190.31,530.49 1191.18,529.51 1192.06,530.49 1192.94,533.50 1193.82,533.50 1194.70,533.50 1195.58,533.50 1196.45,533.50 1197.33,531.50 1198.21,530.49 1199.09,529.51 1199.97,533.50 1200.85,533.50 1201.73,533.50 1202.60,533.50 1203.48,533.50 1204.36,529.51 1205.24,529.51 1206.12,530.49 1207.00,533.50 1207.88,533.50 1208.75,533.50 1209.63,533.50 1210.51,533.50 1211.39,530.49 1212.27,531.50 1213.15,531.50 1214.02,533.50 1214.90,533.50 1215.78,533.50 1216.66,533.50 1217.54,533.50 1218.42,529.51 1219.30,531.50 1220.17,529.51 1221.05,532.49 1221.93,533.50 1222.81,533.50 1223.69,533.50 1224.57,533.50 1225.44,530.49 1226.32,530.49 1227.20,531.50 1228.08,533.50 1228.96,533.50 1229.84,533.50 1230.72,533.50 1231.59,533.50 1232.47,530.49 1233.35,529.51 1234.23,530.49 1235.11,532.49 1235.99,533.50 1236.86,533.50 1237.74,533.50 1238.62,533.50 1239.50,530.49 1240.38,530.49 1241.26,529.51 1242.14,533.50 1243.01,533.50 1243.89,533.50 1244.77,533.50 1245.65,533.50 1246.53,530.49 1247.41,530.49 1248.28,530.49 1249.16,533.50 1250.04,533.50 1250.92,533.50 1251.80,533.50 1252.68,533.50 1253.56,529.51 1254.43,529.51 1255.31,530.49 1256.19,532.49 1257.07,533.50 1257.95,533.50 1258.83,533.50 1259.70,533.50 1260.58,530.49 1261.46,529.51 1262.34,529.51 1263.22,533.50 1264.10,533.50 1264.98,533.50 1265.85,533.50 1266.73,533.50 1267.61,530.49 1268.49,530.49 1269.37,530.49 1270.25,533.50 1271.12,533.50 1272.00,533.50 1272.88,533.50 1273.76,533.50 1274.64,529.51 1275.52,529.51 1276.40,530.49 1277.27,533.50 1278.15,533.50 1279.03,533.50 1279.91,533.50 1280.79,533.50 1281.67,530.49 1282.55,530.49 1283.42,530.49 1284.30,533.50 1285.18,533.50 1286.06,533.50 1286.94,533.50 1287.82,533.50 1288.69,530.49 1289.57,530.49 1290.45,531.50 1291.33,533.50 1292.21,533.50 1293.09,533.50 1293.97,533.50 1294.84,533.50 1295.72,531.50 1296.60,530.49 1297.48,530.49 1298.36,533.50 1299.24,533.50 1300.11,533.50 1300.99,533.50 1301.87,533.50 1302.75,531.50 1303.63,531.50 1304.51,529.51 1305.39,533.50 1306.26,533.50 1307.14,533.50 1308.02,533.50 1308.90,533.50 1309.78,531.50 1310.66,529.51 1311.53,530.49 1312.41,533.50 1313.29,533.50 1314.17,533.50 1315.05,533.50 1315.93,533.50 1316.81,530.49 1317.68,531.50 1318.56,531.50 1319.44,533.50 1320.32,533.50 1321.20,533.50 1322.08,533.50 1322.95,533.50 1323.83,530.49 1324.71,529.51 1325.59,530.49 1326.47,533.50 1327.35,533.50 1328.23,533.50 1329.10,533.50 1329.98,533.50 1330.86,530.49 1331.74,530.49 1332.62,530.49 1333.50,533.50 1334.38,533.50 1335.25,533.50 1336.13,533.50 1337.01,533.50 1337.89,530.49 1338.77,530.49 1339.65,530.49 1340.52,533.50 1341.40,533.50 1342.28,533.50 1343.16,533.50 1344.04,533.50 1344.92,530.49 1345.80,531.50 1346.67,530.49 1347.55,533.50 1348.43,533.50 1349.31,533.50 1350.19,533.50 1351.07,533.50 1351.94,529.51 1352.82,531.50 1353.70,529.51 1354.58,533.50 1355.46,533.50 1356.34,533.50 1357.22,533.50 1358.09,533.50 1358.97,530.49 1359.85,529.51 1360.73,531.50 1361.61,533.50 1362.49,533.50 1363.36,533.50 1364.24,533.50 1365.12,533.50 1366.00,534.51 101.00,534.51 101.88,534.07 102.76,533.83 103.64,534.07 104.51,533.83 105.39,534.07 106.27,532.42 107.15,523.96 108.03,528.42 108.91,531.48 109.78,533.12 110.66,533.50 111.54,533.50 112.42,533.50 113.30,533.50 114.18,533.50 115.06,529.51 115.93,530.49 116.81,529.51 117.69,533.50 118.57,533.50 119.45,533.50 120.33,533.50 121.20,533.50 122.08,531.50 122.96,530.49 123.84,531.50 124.72,533.50 125.60,533.50 126.48,533.50 127.35,533.50 128.23,533.50 129.11,529.51 129.99,530.49 130.87,529.51 131.75,533.50 132.62,533.50 133.50,533.50 134.38,533.50 135.26,533.50 136.14,529.51 137.02,531.50 137.90,531.50 138.77,533.50 139.65,533.50 140.53,533.50 141.41,533.50 142.29,533.50 143.17,529.51 144.05,529.51 144.92,530.49 145.80,532.49 146.68,533.50 147.56,533.50 148.44,533.50 149.32,533.50 150.19,530.49 151.07,529.51 151.95,530.49 152.83,533.50 153.71,534.51" fill="none" stroke="#0080ff" stroke-width="1" shape-rendering="crispEdges"/>
<path d="M97,481h13v1h-13zM97,482h13v1h-13zM97,483h13v1h-13zM97,484h13v1h-13zM97,485h13v1h-13zM97,486h13v1h-13zM97,487h13v1h-13zM97,488h13v1h-13zM97,489h13v1h-13zM97,490h13v1h-13zM97,491h13v1h-13zM97,492h13v1h-13zM97,493h13v1h-13z" fill="#00eeee" shape-rendering="crispEdges"/>
<path d="M200,481h13v1h-13zM200,482h13v1h-13zM200,483h13v1h-13zM200,484h13v1h-13zM200,485h13v1h-13zM200,486h13v1h-13zM200,487h13v1h-13zM200,488h13v1h-13zM200,489h13v1h-13zM200,490h13v1h-13zM200,491h13v1h-13zM200,492h13v1h-13zM200,493h13v1h-13z" fill="#00eeee" shape-rendering="crispEdges"/>
<path d="M1349,481h13v1h-13zM1349,482h13v1h-13zM1349,483h13v1h-13zM1349,484h13v1h-13zM1349,485h13v1h-13zM1349,486h13v1h-13zM1349,487h13v1h-13zM1349,488h13v1h-13zM1349,489h13v1h-13zM1349,490h13v1h-13zM1349,491h13v1h-13zM1349,492h13v1h-13zM1349,493h13v1h-13z" fill="#00eeee" shape-rendering="crispEdges"/>
<path d="M275,481h13v1h-13zM275,482h13v1h-13zM275,483h13v1h-13zM275,484h13v1h-13zM275,485h13v1h-13zM275,486h13v1h-13zM275,487h13v1h-13zM275,488h13v1h-13zM275,489h13v1h-13zM275,490h13v1h-13zM275,491h13v1h-13zM275,492h13v1h-13zM275,493h13v1h-13z" fill="#00eeee" shape-rendering="crispEdges"/>
<path d="M277,481h13v1h-13zM277,482h13v1h-13zM277,483h13v1h-13zM277,484h13v1h-13zM277,485h13v1h-13zM277,486h13v1h-13zM277,487h13v1h-13zM277,488h13v1h-13zM277,489h13v1h-13zM277,490h13v1h-13zM277,491h13v1h-13zM277,492h13v1h-13zM277,493h13v1h-13z" fill="#00eeee" shape-rendering="crispEdges"/>
<path d="M279,481h13v1h-13zM279,482h13v1h-13zM279,483h13v1h-13zM279,484h13v1h-13zM279,485h13v1h-13zM279,486h13v1h-13zM279,487h13v1h-13zM279,488h13v1h-13zM279,489h13v1h-13zM279,490h13v1h-13zM279,491h13v1h-13zM279,492h13v1h-13zM279,493h13v1h-13z" fill="#00eeee" shape-rendering="crispEdges"/>
<path d="M282,481h13v1h-13zM282,482h13v1h-13zM282,483h13v1h-13zM282,484h13v1h-13zM282,485h13v1h-13zM282,486h13v1h-13zM282,487h13v1h-13zM282,488h13v1h-13zM282,489h13v1h-13zM282,490h13v1h-13zM282,491h13v1h-13zM282,492h13v1h-13zM282,493h13v1h-13z" fill="#00eeee" shape-rendering="crispEdges"/>
<path d="M284,481h13v1h-13zM284,482h13v1h-13zM284,483h13v1h-13zM284,484h13v1h-13zM284,485h13v1h-13zM284,486h13v1h-13zM284,487h13v1h-13zM284,488h13v1h-13zM284,489h13v1h-13zM284,490h13v1h-13zM284,491h13v1h-13zM284,492h13v1h-13zM284,493h13v1h-13z" fill="#00eeee" shape-rendering="crispEdges"/>
<path d="M287,481h13v1h-13zM287,482h13v1h-13zM287,483h13v1h-13zM287,484h13v1h-13zM287,485h13v1h-13zM287,486h13v1h-13zM287,487h13v1h-13zM287,488h13v1h-13zM287,489h13v1h-13zM287,490h13v1h-13zM287,491h13v1h-13zM287,492h13v1h-13zM287,493h13v1h-13z" fill="#00eeee" shape-rendering="crispEdges"/>
<path d="M365,481h13v1h-13zM365,482h13v1h-13zM365,483h13v1h-13zM365,484h13v1h-13zM365,485h13v1h-13zM365,486h13v1h-13zM365,487h13v1h-13zM365,488h13v1h-13zM365,489h13v1h-13zM365,490h13v1h-13zM365,491h13v1h-13zM365,492h13v1h-13zM365,493h13v1h-13z" fill="#00eeee" shape-rendering="crispEdges"/>
<path d="M367,481h13v1h-13zM367,482h13v1h-13zM367,483h13v1h-13zM367,484h13v1h-13zM367,485h13v1h-13zM367,486h13v1h-13zM367,487h13v1h-13zM367,488h13v1h-13zM367,489h13v1h-13zM367,490h13v1h-13zM367,491h13v1h-13zM367,492h13v1h-13zM367,493h13v1h-13z" fill="#00eeee" shape-rendering="crispEdges"/>
<path d="M369,481h13v1h-13zM369,482h13v1h-13zM369,483h13v1h-13zM369,484h13v1h-13zM369,485h13v1h-13zM369,486h13v1h-13zM369,487h13v1h-13zM369,488h13v1h-13zM369,489h13v1h-13zM369,490h13v1h-13zM369,491h13v1h-13zM369,492h13v1h-13zM369,493h13v1h-13z" fill="#00eeee" shape-rendering="crispEdges"/>
<path d="M372,481h13v1h-13zM372,482h13v1h-13zM372,483h13v1h-13zM372,484h13v1h-13zM372,485h13v1h-13zM372,486h13v1h-13zM372,487h13v1h-13zM372,488h13v1h-13zM372,489h13v1h-13zM372,490h13v1h-13zM372,491h13v1h-13zM372,492h13v1h-13zM372,493h13v1h-13z" fill="#00eeee" shape-rendering="crispEdges"/>
<path d="M374,481h13v1h-13zM374,482h13v1h-13zM374,483h13v1h-13zM374,484h13v1h-13zM374,485h13v1h-13zM374,486h13v1h-13zM374,487h13v1h-13zM374,488h13v1h-13zM374,489h13v1h-13zM374,490h13v1h-13zM374,491h13v1h-13zM374,492h13v1h-13zM374,493h13v1h-13z" fill="#00eeee" shape-rendering="crispEdges"/>
<path d="M377,481h13v1h-13zM377,482h13v1h-13zM377,483h13v1h-13zM377,484h13v1h-13zM377,485h13v1h-13zM377,486h13v1h-13zM377,487h13v1h-13zM377,488h13v1h-13zM377,489h13v1h-13zM377,490h13v1h-13zM377,491h13v1h-13zM377,492h13v1h-13zM377,493h13v1h-13z" fill="#00eeee" shape-rendering="crispEdges"/>
<path d="M454,481h13v1h-13zM454,482h13v1h-13zM454,483h13v1h-13zM454,484h13v1h-13zM454,485h13v1h-13zM454,486h13v1h-13zM454,487h13v1h-13zM454,488h13v1h-13zM454,489h13v1h-13zM454,490h13v1h-13zM454,491h13v1h-13zM454,492h13v1h-13zM454,493h13v1h-13z" fill="#00eeee" shape-rendering="crispEdges"/>
<path d="M456,481h13v1h-13zM456,482h13v1h-13zM456,483h13v1h-13zM456,484h13v1h-13zM456,485h13v1h-13zM456,486h13v1h-13zM456,487h13v1h-13zM456,488h13v1h-13zM456,489h13v1h-13zM456,490h13v1h-13zM456,491h13v1h-13zM456,492h13v1h-13zM456,493h13v1h-13z" fill="#00eeee" shape-rendering="crispEdges"/>
<path d="M459,481h13v1h-13zM459,482h13v1h-13zM459,483h13v1h-13zM459,484h13v1h-13zM459,485h13v1h-13zM459,486h13v1h-13zM459,487h13v1h-13zM459,488h13v1h-13zM459,489h13v1h-13zM459,490h13v1h-13zM459,491h13v1h-13zM459,492h13v1h-13zM459,493h13v1h-13z" fill="#00eeee" shape-rendering="crispEdges"/>
<path d="M461,481h13v1h-13zM461,482h13v1h-13zM461,483h13v1h-13zM461,484h13v1h-13zM461,485h13v1h-13zM461,486h13v1h-13zM461,487h13v1h-13zM461,488h13v1h-13zM461,489h13v1h-13zM461,490h13v1h-13zM461,491h13v1h-13zM461,492h13v1h-13zM461,493h13v1h-13z" fill="#00eeee" shape-rendering="crispEdges"/>
<path d="M464,481h13v1h-13zM464,482h13v1h-13zM464,483h13v1h-13zM464,484h13v1h-13zM464,485h13v1h-13zM464,486h13v1h-13zM464,487h13v1h-13zM464,488h13v1h-13zM464,489h13v1h-13zM464,490h13v1h-13zM464,491h13v1h-13zM464,492h13v1h-13zM464,493h13v1h-13z" fill="#00eeee" shape-rendering="crispEdges"/>
<path d="M467,481h13v1h-13zM467,482h13v1h-13zM467,483h13v1h-13zM467,484h13v1h-13zM467,485h13v1h-13zM467,486h13v1h-13zM467,487h13v1h-13zM467,488h13v1h-13zM467,489h13v1h-13zM467,490h13v1h-13zM467,491h13v1h-13zM467,492h13v1h-13zM467,493h13v1h-13z" fill="#00eeee" shape-rendering="crispEdges"/>
<path d="M543,481h13v1h-13zM543,482h13v1h-13zM543,483h13v1h-13zM543,484h13v1h-13zM543,485h13v1h-13zM543,486h13v1h-13zM543,487h13v1h-13zM543,488h13v1h-13zM543,489h13v1h-13zM543,490h13v1h-13zM543,491h13v1h-13zM543,492h13v1h-13zM543,493h13v1h-13z" fill="#00eeee" shape-rendering="crispEdges"/>
<path d="M545,481h13v1h-13zM545,482h13v1h-13zM545,483h13v1h-13zM545,484h13v1h-13zM545,485h13v1h-13zM545,486h13v1h-13zM545,487h13v1h-13zM545,488h13v1h-13zM545,489h13v1h-13zM545,490h13v1h-13zM545,491h13v1h-13zM545,492h13v1h-13zM545,493h13v1h-13z" fill="#00eeee" shape-rendering="crispEdges"/>
<path d="M548,481h13v1h-13zM548,482h13v1h-13zM548,483h13v1h-13zM548,484h13v1h-13zM548,485h13v1h-13zM548,486h13v1h-13zM548,487h13v1h-13zM548,488h13v1h-13zM548,489h13v1h-13zM548,490h13v1h-13zM548,491h13v1h-13zM548,492h13v1h-13zM548,493h13v1h-13z" fill="#00eeee" shape-rendering="crispEdges"/>
<path d="M550,481h13v1h-13zM550,482h13v1h-13zM550,483h13v1h-13zM550,484h13v1h-13zM550,485h13v1h-13zM550,486h13v1h-13zM550,487h13v1h-13zM550,488h13v1h-13zM550,489h13v1h-13zM550,490h13v1h-13zM550,491h13v1h-13zM550,492h13v1h-13zM550,493h13v1h-13z" fill="#00eeee" shape-rendering="crispEdges"/>
<path d="M553,481h13v1h-13zM553,482h13v1h-13zM553,483h13v1h-13zM553,484h13v1h-13zM553,485h13v1h-13zM553,486h13v1h-13zM553,487h13v1h-13zM553,488h13v1h-13zM553,489h13v1h-13zM553,490h13v1h-13zM553,491h13v1h-13zM553,492h13v1h-13zM553,493h13v1h-13z" fill="#00eeee" shape-rendering="crispEdges"/>
<path d="M556,481h13v1h-13zM556,482h13v1h-13zM556,483h13v1h-13zM556,484h13v1h-13zM556,485h13v1h-13zM556,486h13v1h-13zM556,487h13v1h-13zM556,488h13v1h-13zM556,489h13v1h-13zM556,490h13v1h-13zM556,491h13v1h-13zM556,492h13v1h-13zM556,493h13v1h-13z" fill="#00eeee" shape-rendering="crispEdges"/>
<path d="M633,481h13v1h-13zM633,482h13v1h-13zM633,483h13v1h-13zM633,484h13v1h-13zM633,485h13v1h-13zM633,486h13v1h-13zM633,487h13v1h-13zM633,488h13v1h-13zM633,489h13v1h-13zM633,490h13v1h-13zM633,491h13v1h-13zM633,492h13v1h-13zM633,493h13v1h-13z" fill="#00eeee" shape-rendering="crispEdges"/>
<path d="M635,481h13v1h-13zM635,482h13v1h-13zM635,483h13v1h-13zM635,484h13v1h-13zM635,485h13v1h-13zM635,486h13v1h-13zM635,487h13v1h-13zM635,488h13v1h-13zM635,489h13v1h-13zM635,490h13v1h-13zM635,491h13v1h-13zM635,492h13v1h-13zM635,493h13v1h-13z" fill="#00eeee" shape-rendering="crispEdges"/>
<path d="M638,481h13v1h-13zM638,482h13v1h-13zM638,483h13v1h-13zM638,484h13v1h-13zM638,485h13v1h-13zM638,486h13v1h-13zM638,487h13v1h-13zM638,488h13v1h-13zM638,489h13v1h-13zM638,490h13v1h-13zM638,491h13v1h-13zM638,492h13v1h-13zM638,493h13v1h-13z" fill="#00eeee" shape-rendering="crispEdges"/>
<path d="M640,481h13v1h-13zM640,482h13v1h-13zM640,483h13v1h-13zM640,484h13v1h-13zM640,485h13v1h-13zM640,486h13v1h-13zM640,487h13v1h-13zM640,488h13v1h-13zM640,489h13v1h-13zM640,490h13v1h-13zM640,491h13v1h-13zM640,492h13v1h-13zM640,493h13v1h-13z" fill="#00eeee" shape-rendering="crispEdges"/>
<path d="M643,481h13v1h-13zM643,482h13v1h-13zM643,483h13v1h-13zM643,484h13v1h-13zM643,485h13v1h-13zM643,486h13v1h-13zM643,487h13v1h-13zM643,488h13v1h-13zM643,489h13v1h-13zM643,490h13v1h-13zM643,491h13v1h-13zM643,492h13v1h-13zM643,493h13v1h-13z" fill="#00eeee" shape-rendering="crispEdges"/>
<path d="M646,481h13v1h-13zM646,482h13v1h-13zM646,483h13v1h-13zM646,484h13v1h-13zM646,485h13v1h-13zM646,486h13v1h-13zM646,487h13v1h-13zM646,488h13v1h-13zM646,489h13v1h-13zM646,490h13v1h-13zM646,491h13v1h-13zM646,492h13v1h-13zM646,493h13v1h-13z" fill="#00eeee" shape-rendering="crispEdges"/>
<path d="M722,481h13v1h-13zM722,482h13v1h-13zM722,483h13v1h-13zM722,484h13v1h-13zM722,485h13v1h-13zM722,486h13v1h-13zM722,487h13v1h-13zM722,488h13v1h-13zM722,489h13v1h-13zM722,490h13v1h-13zM722,491h13v1h-13zM722,492h13v1h-13zM722,493h13v1h-13z" fill="#00eeee" shape-rendering="crispEdges"/>
<path d="M724,481h13v1h-13zM724,482h13v1h-13zM724,483h13v1h-13zM724,484h13v1h-13zM724,485h13v1h-13zM724,486h13v1h-13zM724,487h13v1h-13zM724,488h13v1h-13zM724,489h13v1h-13zM724,490h13v1h-13zM724,491h13v1h-13zM724,492h13v1h-13zM724,493h13v1h-13z" fill="#00eeee" shape-rendering="crispEdges"/>
<path d="M727,481h13v1h-13zM727,482h13v1h-13zM727,483h13v1h-13zM727,484h13v1h-13zM727,485h13v1h-13zM727,486h13v1h-13zM727,487h13v1h-13zM727,488h13v1h-13zM727,489h13v1h-13zM727,490h13v1h-13zM727,491h13v1h-13zM727,492h13v1h-13zM727,493h13v1h-13z" fill="#00eeee" shape-rendering="crispEdges"/>
<path d="M729,481h13v1h-13zM729,482h13v1h-13zM729,483h13v1h-13zM729,484h13v1h-13zM729,485h13v1h-13zM729,486h13v1h-13zM729,487h13v1h-13zM729,488h13v1h-13zM729,489h13v1h-13zM729,490h13v1h-13zM729,491h13v1h-13zM729,492h13v1h-13zM729,493h13v1h-13z" fill="#00eeee" shape-rendering="crispEdges"/>
<path d="M732,481h13v1h-13zM732,482h13v1h-13zM732,483h13v1h-13zM732,484h13v1h-13zM732,485h13v1h-13zM732,486h13v1h-13zM732,487h13v1h-13zM732,488h13v1h-13zM732,489h13v1h-13zM732,490h13v1h-13zM732,491h13v1h-13zM732,492h13v1h-13zM732,493h13v1h-13z" fill="#00eeee" shape-rendering="crispEdges"/>
<path d="M735,481h13v1h-13zM735,482h13v1h-13zM735,483h13v1h-13zM735,484h13v1h-13zM735,485h13v1h-13zM735,486h13v1h-13zM735,487h13v1h-13zM735,488h13v1h-13zM735,489h13v1h-13zM735,490h13v1h-13zM735,491h13v1h-13zM735,492h13v1h-13zM735,493h13v1h-13z" fill="#00eeee" shape-rendering="crispEdges"/>
<path d="M812,481h13v1h-13zM812,482h13v1h-13zM812,483h13v1h-13zM812,484h13v1h-13zM812,485h13v1h-13zM812,486h13v1h-13zM812,487h13v1h-13zM812,488h13v1h-13zM812,489h13v1h-13zM812,490h13v1h-13zM812,491h13v1h-13zM812,492h13v1h-13zM812,493h13v1h-13z" fill="#00eeee" shape-rendering="crispEdges"/>
<path d="M814,481h13v1h-13zM814,482h13v1h-13zM814,483h13v1h-13zM814,484h13v1h-13zM814,485h13v1h-13zM814,486h13v1h-13zM814,487h13v1h-13zM814,488h13v1h-13zM814,489h13v1h-13zM814,490h13v1h-13zM814,491h13v1h-13zM814,492h13v1h-13zM814,493h13v1h-13z" fill="#00eeee" shape-rendering="crispEdges"/>
<path d="M816,481h13v1h-13zM816,482h13v1h-13zM816,483h13v1h-13zM816,484h13v1h-13zM816,485h13v1h-13zM816,486h13v1h-13zM816,487h13v1h-13zM816,488h13v1h-13zM816,489h13v1h-13zM816,490h13v1h-13zM816,491h13v1h-13zM816,492h13v1h-13zM816,493h13v1h-13z" fill="#00eeee" shape-rendering="crispEdges"/>
<path d="M819,481h13v1h-13zM819,482h13v1h-13zM819,483h13v1h-13zM819,484h13v1h-13zM819,485h13v1h-13zM819,486h13v1h-13zM819,487h13v1h-13zM819,488h13v1h-13zM819,489h13v1h-13zM819,490h13v1h-13zM819,491h13v1h-13zM819,492h13v1h-13zM819,493h13v1h-13z" fill="#00eeee" shape-rendering="crispEdges"/>
<path d="M821,481h13v1h-13zM821,482h13v1h-13zM821,483h13v1h-13zM821,484h13v1h-13zM821,485h13v1h-13zM821,486h13v1h-13zM821,487h13v1h-13zM821,488h13v1h-13zM821,489h13v1h-13zM821,490h13v1h-13zM821,491h13v1h-13zM821,492h13v1h-13zM821,493h13v1h-13z" fill="#00eeee" shape-rendering="crispEdges"/>
<path d="M824,481h13v1h-13zM824,482h13v1h-13zM824,483h13v1h-13zM824,484h13v1h-13zM824,485h13v1h-13zM824,486h13v1h-13zM824,487h13v1h-13zM824,488h13v1h-13zM824,489h13v1h-13zM824,490h13v1h-13zM824,491h13v1h-13zM824,492h13v1h-13zM824,493h13v1h-13z" fill="#00eeee" shape-rendering="crispEdges"/>
<path d="M901,481h13v1h-13zM901,482h13v1h-13zM901,483h13v1h-13zM901,484h13v1h-13zM901,485h13v1h-13zM901,486h13v1h-13zM901,487h13v1h-13zM901,488h13v1h-13zM901,489h13v1h-13zM901,490h13v1h-13zM901,491h13v1h-13zM901,492h13v1h-13zM901,493h13v1h-13z" fill="#00eeee" shape-rendering="crispEdges"/>
<path d="M903,481h13v1h-13zM903,482h13v1h-13zM903,483h13v1h-13zM903,484h13v1h-13zM903,485h13v1h-13zM903,486h13v1h-13zM903,487h13v1h-13zM903,488h13v1h-13zM903,489h13v1h-13zM903,490h13v1h-13zM903,491h13v1h-13zM903,492h13v1h-13zM903,493h13v1h-13z" fill="#00eeee" shape-rendering="crispEdges"/>
<path d="M906,481h13v1h-13zM906,482h13v1h-13zM906,483h13v1h-13zM906,484h13v1h-13zM906,485h13v1h-13zM906,486h13v1h-13zM906,487h13v1h-13zM906,488h13v1h-13zM906,489h13v1h-13zM906,490h13v1h-13zM906,491h13v1h-13zM906,492h13v1h-13zM906,493h13v1h-13z" fill="#00eeee" shape-rendering="crispEdges"/>
<path d="M908,481h13v1h-13zM908,482h13v1h-13zM908,483h13v1h-13zM908,484h13v1h-13zM908,485h13v1h-13zM908,486h13v1h-13zM908,487h13v1h-13zM908,488h13v1h-13zM908,489h13v1h-13zM908,490h13v1h-13zM908,491h13v1h-13zM908,492h13v1h-13zM908,493h13v1h-13z" fill="#00eeee" shape-rendering="crispEdges"/>
<path d="M911,481h13v1h-13zM911,482h13v1h-13zM911,483h13v1h-13zM911,484h13v1h-13zM911,485h13v1h-13zM911,486h13v1h-13zM911,487h13v1h-13zM911,488h13v1h-13zM911,489h13v1h-13zM911,490h13v1h-13zM911,491h13v1h-13zM911,492h13v1h-13zM911,493h13v1h-13z" fill="#00eeee" shape-rendering="crispEdges"/>
<path d="M914,481h13v1h-13zM914,482h13v1h-13zM914,483h13v1h-13zM914,484h13v1h-13zM914,485h13v1h-13zM914,486h13v1h-13zM914,487h13v1h-13zM914,488h13v1h-13zM914,489h13v1h-13zM914,490h13v1h-13zM914,491h13v1h-13zM914,492h13v1h-13zM914,493h13v1h-13z" fill="#00eeee" shape-rendering="crispEdges"/>
<path d="M991,481h13v1h-13zM991,482h13v1h-13zM991,483h13v1h-13zM991,484h13v1h-13zM991,485h13v1h-13zM991,486h13v1h-13zM991,487h13v1h-13zM991,488h13v1h-13zM991,489h13v1h-13zM991,490h13v1h-13zM991,491h13v1h-13zM991,492h13v1h-13zM991,493h13v1h-13z" fill="#00eeee" shape-rendering="crispEdges"/>
<path d="M993,481h13v1h-13zM993,482h13v1h-13zM993,483h13v1h-13zM993,484h13v1h-13zM993,485h13v1h-13zM993,486h13v1h-13zM993,487h13v1h-13zM993,488h13v1h-13zM993,489h13v1h-13zM993,490h13v1h-13zM993,491h13v1h-13zM993,492h13v1h-13zM993,493h13v1h-13z" fill="#00eeee" shape-rendering="crispEdges"/>
<path d="M995,481h13v1h-13zM995,482h13v1h-13zM995,483h13v1h-13zM995,484h13v1h-13zM995,485h13v1h-13zM995,486h13v1h-13zM995,487h13v1h-13zM995,488h13v1h-13zM995,489h13v1h-13zM995,490h13v1h-13zM995,491h13v1h-13zM995,492h13v1h-13zM995,493h13v1h-13z" fill="#00eeee" shape-rendering="crispEdges"/>
<path d="M998,481h13v1h-13zM998,482h13v1h-13zM998,483h13v1h-13zM998,484h13v1h-13zM998,485h13v1h-13zM998,486h13v1h-13zM998,487h13v1h-13zM998,488h13v1h-13zM998,489h13v1h-13zM998,490h13v1h-13zM998,491h13v1h-13zM998,492h13v1h-13zM998,493h13v1h-13z" fill="#00eeee" shape-rendering="crispEdges"/>
<path d="M1000,481h13v1h-13zM1000,482h13v1h-13zM1000,483h13v1h-13zM1000,484h13v1h-13zM1000,485h13v1h-13zM1000,486h13v1h-13zM1000,487h13v1h-13zM1000,488h13v1h-13zM1000,489h13v1h-13zM1000,490h13v1h-13zM1000,491h13v1h-13zM1000,492h13v1h-13zM1000,493h13v1h-13z" fill="#00eeee" shape-rendering="crispEdges"/>
<path d="M1003,481h13v1h-13zM1003,482h13v1h-13zM1003,483h13v1h-13zM1003,484h13v1h-13zM1003,485h13v1h-13zM1003,486h13v1h-13zM1003,487h13v1h-13zM1003,488h13v1h-13zM1003,489h13v1h-13zM1003,490h13v1h-13zM1003,491h13v1h-13zM1003,492h13v1h-13zM1003,493h13v1h-13z" fill="#00eeee" shape-rendering="crispEdges"/>
<path d="M1081,481h13v1h-13zM1081,482h13v1h-13zM1081,483h13v1h-13zM1081,484h13v1h-13zM1081,485h13v1h-13zM1081,486h13v1h-13zM1081,487h13v1h-13zM1081,488h13v1h-13zM1081,489h13v1h-13zM1081,490h13v1h-13zM1081,491h13v1h-13zM1081,492h13v1h-13zM1081,493h13v1h-13z" fill="#00eeee" shape-rendering="crispEdges"/>
<path d="M1083,481h13v1h-13zM1083,482h13v1h-13zM1083,483h13v1h-13zM1083,484h13v1h-13zM1083,485h13v1h-13zM1083,486h13v1h-13zM1083,487h13v1h-13zM1083,488h13v1h-13zM1083,489h13v1h-13zM1083,490h13v1h-13zM1083,491h13v1h-13zM1083,492h13v1h-13zM1083,493h13v1h-13z" fill="#00eeee" shape-rendering="crispEdges"/>
<path d="M1085,481h13v1h-13zM1085,482h13v1h-13zM1085,483h13v1h-13zM1085,484h13v1h-13zM1085,485h13v1h-13zM1085,486h13v1h-13zM1085,487h13v1h-13zM1085,488h13v1h-13zM1085,489h13v1h-13zM1085,490h13v1h-13zM1085,491h13v1h-13zM1085,492h13v1h-13zM1085,493h13v1h-13z" fill="#00eeee" shape-rendering="crispEdges"/>
<path d="M1088,481h13v1h-13zM1088,482h13v1h-13zM1088,483h13v1h-13zM1088,484h13v1h-13zM1088,485h13v1h-13zM1088,486h13v1h-13zM1088,487h13v1h-13zM1088,488h13v1h-13zM1088,489h13v1h-13zM1088,490h13v1h-13zM1088,491h13v1h-13zM1088,492h13v1h-13zM1088,493h13v1h-13z" fill="#00eeee" shape-rendering="crispEdges"/>
<path d="M1090,481h13v1h-13zM1090,482h13v1h-13zM1090,483h13v1h-13zM1090,484h13v1h-13zM1090,485h13v1h-13zM1090,486h13v1h-13zM1090,487h13v1h-13zM1090,488h13v1h-13zM1090,489h13v1h-13zM1090,490h13v1h-13zM1090,491h13v1h-13zM1090,492h13v1h-13zM1090,493h13v1h-13z" fill="#00eeee" shape-rendering="crispEdges"/>
<path d="M1093,481h13v1h-13zM1093,482h13v1h-13zM1093,483h13v1h-13zM1093,484h13v1h-13zM1093,485h13v1h-13zM1093,486h13v1h-13zM1093,487h13v1h-13zM1093,488h13v1h-13zM1093,489h13v1h-13zM1093,490h13v1h-13zM1093,491h13v1h-13zM1093,492h13v1h-13zM1093,493h13v1h-13z" fill="#00eeee" shape-rendering="crispEdges"/>
<path d="M1170,481h13v1h-13zM1170,482h13v1h-13zM1170,483h13v1h-13zM1170,484h13v1h-13zM1170,485h13v1h-13zM1170,486h13v1h-13zM1170,487h13v1h-13zM1170,488h13v1h-13zM1170,489h13v1h-13zM1170,490h13v1h-13zM1170,491h13v1h-13zM1170,492h13v1h-13zM1170,493h13v1h-13z" fill="#00eeee" shape-rendering="crispEdges"/>
<path d="M1172,481h13v1h-13zM1172,482h13v1h-13zM1172,483h13v1h-13zM1172,484h13v1h-13zM1172,485h13v1h-13zM1172,486h13v1h-13zM1172,487h13v1h-13zM1172,488h13v1h-13zM1172,489h13v1h-13zM1172,490h13v1h-13zM1172,491h13v1h-13zM1172,492h13v1h-13zM1172,493h13v1h-13z" fill="#00eeee" shape-rendering="crispEdges"/>
<path d="M1175,481h13v1h-13zM1175,482h13v1h-13zM1175,483h13v1h-13zM1175,484h13v1h-13zM1175,485h13v1h-13zM1175,486h13v1h-13zM1175,487h13v1h-13zM1175,488h13v1h-13zM1175,489h13v1h-13zM1175,490h13v1h-13zM1175,491h13v1h-13zM1175,492h13v1h-13zM1175,493h13v1h-13z" fill="#00eeee" shape-rendering="crispEdges"/>
<path d="M1177,481h13v1h-13zM1177,482h13v1h-13zM1177,483h13v1h-13zM1177,484h13v1h-13zM1177,485h13v1h-13zM1177,486h13v1h-13zM1177,487h13v1h-13zM1177,488h13v1h-13zM1177,489h13v1h-13zM1177,490h13v1h-13zM1177,491h13v1h-13zM1177,492h13v1h-13zM1177,493h13v1h-13z" fill="#00eeee" shape-rendering="crispEdges"/>
<path d="M1180,481h13v1h-13zM1180,482h13v1h-13zM1180,483h13v1h-13zM1180,484h13v1h-13zM1180,485h13v1h-13zM1180,486h13v1h-13zM1180,487h13v1h-13zM1180,488h13v1h-13zM1180,489h13v1h-13zM1180,490h13v1h-13zM1180,491h13v1h-13zM1180,492h13v1h-13zM1180,493h13v1h-13z" fill="#00eeee" shape-rendering="crispEdges"/>
<path d="M1183,481h13v1h-13zM1183,482h13v1h-13zM1183,483h13v1h-13zM1183,484h13v1h-13zM1183,485h13v1h-13zM1183,486h13v1h-13zM1183,487h13v1h-13zM1183,488h13v1h-13zM1183,489h13v1h-13zM1183,490h13v1h-13zM1183,491h13v1h-13zM1183,492h13v1h-13zM1183,493h13v1h-13z" fill="#00eeee" shape-rendering="crispEdges"/>
<path d="M1260,481h13v1h-13zM1260,482h13v1h-13zM1260,483h13v1h-13zM1260,484h13v1h-13zM1260,485h13v1h-13zM1260,486h13v1h-13zM1260,487h13v1h-13zM1260,488h13v1h-13zM1260,489h13v1h-13zM1260,490h13v1h-13zM1260,491h13v1h-13zM1260,492h13v1h-13zM1260,493h13v1h-13z" fill="#00eeee" shape-rendering="crispEdges"/>
<path d="M1262,481h13v1h-13zM1262,482h13v1h-13zM1262,483h13v1h-13zM1262,484h13v1h-13zM1262,485h13v1h-13zM1262,486h13v1h-13zM1262,487h13v1h-13zM1262,488h13v1h-13zM1262,489h13v1h-13zM1262,490h13v1h-13zM1262,491h13v1h-13zM1262,492h13v1h-13zM1262,493h13v1h-13z" fill="#00eeee" shape-rendering="crispEdges"/>
<path d="M1264,481h13v1h-13zM1264,482h13v1h-13zM1264,483h13v1h-13zM1264,484h13v1h-13zM1264,485h13v1h-13zM1264,486h13v1h-13zM1264,487h13v1h-13zM1264,488h13v1h-13zM1264,489h13v1h-13zM1264,490h13v1h-13zM1264,491h13v1h-13zM1264,492h13v1h-13zM1264,493h13v1h-13z" fill="#00eeee" shape-rendering="crispEdges"/>
<path d="M1267,481h13v1h-13zM1267,482h13v1h-13zM1267,483h13v1h-13zM1267,484h13v1h-13zM1267,485h13v1h-13zM1267,486h13v1h-13zM1267,487h13v1h-13zM1267,488h13v1h-13zM1267,489h13v1h-13zM1267,490h13v1h-13zM1267,491h13v1h-13zM1267,492h13v1h-13zM1267,493h13v1h-13z" fill="#00eeee" shape-rendering="crispEdges"/>
<path d="M1269,481h13v1h-13zM1269,482h13v1h-13zM1269,483h13v1h-13zM1269,484h13v1h-13zM1269,485h13v1h-13zM1269,486h13v1h-13zM1269,487h13v1h-13zM1269,488h13v1h-13zM1269,489h13v1h-13zM1269,490h13v1h-13zM1269,491h13v1h-13zM1269,492h13v1h-13zM1269,493h13v1h-13z" fill="#00eeee" shape-rendering="crispEdges"/>
<path d="M1272,481h13v1h-13zM1272,482h13v1h-13zM1272,483h13v1h-13zM1272,484h13v1h-13zM1272,485h13v1h-13zM1272,486h13v1h-13zM1272,487h13v1h-13zM1272,488h13v1h-13zM1272,489h13v1h-13zM1272,490h13v1h-13zM1272,491h13v1h-13zM1272,492h13v1h-13zM1272,493h13v1h-13z" fill="#00eeee" shape-rendering="crispEdges"/>
<path d="M100,514h7v1h-7zM99,515h1v1h-1zM107,515h1v1h-1zM98,516h1v1h-1zM108,516h1v1h-1zM98,517h1v1h-1zM108,517h1v1h-1zM98,518h1v1h-1zM108,518h1v1h-1zM98,519h1v1h-1zM108,519h1v1h-1zM98,520h1v1h-1zM108,520h1v1h-1zM98,521h1v1h-1zM108,521h1v1h-1zM98,522h1v1h-1zM108,522h1v1h-1zM99,523h1v1h-1zM107,523h1v1h-1zM100,524h7v1h-7zM103,513h1v1h-1zM103,525h1v1h-1zM97,519h1v1h-1zM109,519h1v1h-1z" fill="#c04000" shape-rendering="crispEdges"/>
<path d="M146,513h7v1h-7zM145,514h1v1h-1zM153,514h1v1h-1zM144,515h1v1h-1zM154,515h1v1h-1zM144,516h1v1h-1zM154,516h1v1h-1zM144,517h1v1h-1zM154,517h1v1h-1zM144,518h1v1h-1zM154,518h1v1h-1zM144,519h1v1h-1zM154,519h1v1h-1zM144,520h1v1h-1zM154,520h1v1h-1zM144,521h1v1h-1zM154,521h1v1h-1zM145,522h1v1h-1zM153,522h1v1h-1zM146,523h7v1h-7zM149,512h1v1h-1zM149,524h1v1h-1zM143,518h1v1h-1zM155,518h1v1h-1z" fill="#c04000" shape-rendering="crispEdges"/>
<path d="M205,511h7v1h-7zM204,512h1v1h-1zM212,512h1v1h-1zM203,513h1v1h-1zM213,513h1v1h-1zM203,514h1v1h-1zM213,514h1v1h-1zM203,515h1v1h-1zM213,515h1v1h-1zM203,516h1v1h-1zM213,516h1v1h-1zM203,517h1v1h-1zM213,517h1v1h-1zM203,518h1v1h-1zM213,518h1v1h-1zM203,519h1v1h-1zM213,519h1v1h-1zM204,520h1v1h-1zM212,520h1v1h-1zM205,521h7v1h-7zM208,510h1v1h-1zM208,522h1v1h-1zM202,516h1v1h-1zM214,516h1v1h-1z" fill="#c04000" shape-rendering="crispEdges"/>
<path d="M252,517h7v1h-7zM251,518h1v1h-1zM259,518h1v1h-1zM250,519h1v1h-1zM260,519h1v1h-1zM250,520h1v1h-1zM260,520h1v1h-1zM250,521h1v1h-1zM260,521h1v1h-1zM250,522h1v1h-1zM260,522h1v1h-1zM250,523h1v1h-1zM260,523h1v1h-1zM250,524h1v1h-1zM260,524h1v1h-1zM250,525h1v1h-1zM260,525h1v1h-1zM251,526h1v1h-1zM259,526h1v1h-1zM252,527h7v1h-7zM255,516h1v1h-1zM255,528h1v1h-1zM249,522h1v1h-1zM261,522h1v1h-1z" fill="#c04000" shape-rendering="crispEdges"/>
<path d="M258,514h7v1h-7zM257,515h1v1h-1zM265,515h1v1h-1zM256,516h1v1h-1zM266,516h1v1h-1zM256,517h1v1h-1zM266,517h1v1h-1zM256,518h1v1h-1zM266,518h1v1h-1zM256,519h1v1h-1zM266,519h1v1h-1zM256,520h1v1h-1zM266,520h1v1h-1zM256,521h1v1h-1zM266,521h1v1h-1zM256,522h1v1h-1zM266,522h1v1h-1zM257,523h1v1h-1zM265,523h1v1h-1zM258,524h7v1h-7zM261,513h1v1h-1zM261,525h1v1h-1zM255,519h1v1h-1zM267,519h1v1h-1z" fill="#c04000" shape-rendering="crispEdges"/>
<path d="M304,515h7v1h-7zM303,516h1v1h-1zM311,516h1v1h-1zM302,517h1v1h-1zM312,517h1v1h-1zM302,518h1v1h-1zM312,518h1v1h-1zM302,519h1v1h-1zM312,519h1v1h-1zM302,520h1v1h-1zM312,520h1v1h-1zM302,521h1v1h-1zM312,521h1v1h-1zM302,522h1v1h-1zM312,522h1v1h-1zM302,523h1v1h-1zM312,523h1v1h-1zM303,524h1v1h-1zM311,524h1v1h-1zM304,525h7v1h-7zM307,514h1v1h-1zM307,526h1v1h-1zM301,520h1v1h-1zM313,520h1v1h-1z" fill="#c04000" shape-rendering="crispEdges"/>
<path d="M311,510h7v1h-7zM310,511h1v1h-1zM318,511h1v1h-1zM309,512h1v1h-1zM319,512h1v1h-1zM309,513h1v1h-1zM319,513h1v1h-1zM309,514h1v1h-1zM319,514h1v1h-1zM309,515h1v1h-1zM319,515h1v1h-1zM309,516h1v1h-1zM319,516h1v1h-1zM309,517h1v1h-1zM319,517h1v1h-1zM309,518h1v1h-1zM319,518h1v1h-1zM310,519h1v1h-1zM318,519h1v1h-1zM311,520h7v1h-7zM314,509h1v1h-1zM314,521h1v1h-1zM308,515h1v1h-1zM320,515h1v1h-1z" fill="#c04000" shape-rendering="crispEdges"/>
<path d="M357,514h7v1h-7zM356,515h1v1h-1zM364,515h1v1h-1zM355,516h1v1h-1zM365,516h1v1h-1zM355,517h1v1h-1zM365,517h1v1h-1zM355,518h1v1h-1zM365,518h1v1h-1zM355,519h1v1h-1zM365,519h1v1h-1zM355,520h1v1h-1zM365,520h1v1h-1zM355,521h1v1h-1zM365,521h1v1h-1zM355,522h1v1h-1zM365,522h1v1h-1zM356,523h1v1h-1zM364,523h1v1h-1zM357,524h7v1h-7zM360,513h1v1h-1zM360,525h1v1h-1zM354,519h1v1h-1zM366,519h1v1h-1z" fill="#c04000" shape-rendering="crispEdges"/>
<path d="M363,515h7v1h-7zM362,516h1v1h-1zM370,516h1v1h-1zM361,517h1v1h-1zM371,517h1v1h-1zM361,518h1v1h-1zM371,518h1v1h-1zM361,519h1v1h-1zM371,519h1v1h-1zM361,520h1v1h-1zM371,520h1v1h-1zM361,521h1v1h-1zM371,521h1v1h-1zM361,522h1v1h-1zM371,522h1v1h-1zM361,523h1v1h-1zM371,523h1v1h-1zM362,524h1v1h-1zM370,524h1v1h-1zM363,525h7v1h-7zM366,514h1v1h-1zM366,526h1v1h-1zM360,520h1v1h-1zM372,520h1v1h-1z" fill="#c04000" shape-rendering="crispEdges"/>
<path d="M410,508h7v1h-7zM409,509h1v1h-1zM417,509h1v1h-1zM408,510h1v1h-1zM418,510h1v1h-1zM408,511h1v1h-1zM418,511h1v1h-1zM408,512h1v1h-1zM418,512h1v1h-1zM408,513h1v1h-1zM418,513h1v1h-1zM408,514h1v1h-1zM418,514h1v1h-1zM408,515h1v1h-1zM418,515h1v1h-1zM408,516h1v1h-1zM418,516h1v1h-1zM409,517h1v1h-1zM417,517h1v1h-1zM410,518h7v1h-7zM413,507h1v1h-1zM413,519h1v1h-1zM407,513h1v1h-1zM419,513h1v1h-1z" fill="#c04000" shape-rendering="crispEdges"/>
<path d="M416,517h7v1h-7zM415,518h1v1h-1zM423,518h1v1h-1zM414,519h1v1h-1zM424,519h1v1h-1zM414,520h1v1h-1zM424,520h1v1h-1zM414,521h1v1h-1zM424,521h1v1h-1zM414,522h1v1h-1zM424,522h1v1h-1zM414,523h1v1h-1zM424,523h1v1h-1zM414,524h1v1h-1zM424,524h1v1h-1zM414,525h1v1h-1zM424,525h1v1h-1zM415,526h1v1h-1zM423,526h1v1h-1zM416,527h7v1h-7zM419,516h1v1h-1zM419,528h1v1h-1zM413,522h1v1h-1zM425,522h1v1h-1z" fill="#c04000" shape-rendering="crispEdges"/>
<path d="M463,517h7v1h-7zM462,518h1v1h-1zM470,518h1v1h-1zM461,519h1v1h-1zM471,519h1v1h-1zM461,520h1v1h-1zM471,520h1v1h-1zM461,521h1v1h-1zM471,521h1v1h-1zM461,522h1v1h-1zM471,522h1v1h-1zM461,523h1v1h-1zM471,523h1v1h-1zM461,524h1v1h-1zM471,524h1v1h-1zM461,525h1v1h-1zM471,525h1v1h-1zM462,526h1v1h-1zM470,526h1v1h-1zM463,527h7v1h-7zM466,516h1v1h-1zM466,528h1v1h-1zM460,522h1v1h-1zM472,522h1v1h-1z" fill="#c04000" shape-rendering="crispEdges"/>
<path d="M469,515h7v1h-7zM468,516h1v1h-1zM476,516h1v1h-1zM467,517h1v1h-1zM477,517h1v1h-1zM467,518h1v1h-1zM477,518h1v1h-1zM467,519h1v1h-1zM477,519h1v1h-1zM467,520h1v1h-1zM477,520h1v1h-1zM467,521h1v1h-1zM477,521h1v1h-1zM467,522h1v1h-1zM477,522h1v1h-1zM467,523h1v1h-1zM477,523h1v1h-1zM468,524h1v1h-1zM476,524h1v1h-1zM469,525h7v1h-7zM472,514h1v1h-1zM472,526h1v1h-1zM466,520h1v1h-1zM478,520h1v1h-1z" fill="#c04000" shape-rendering="crispEdges"/>
<path d="M515,515h7v1h-7zM514,516h1v1h-1zM522,516h1v1h-1zM513,517h1v1h-1zM523,517h1v1h-1zM513,518h1v1h-1zM523,518h1v1h-1zM513,519h1v1h-1zM523,519h1v1h-1zM513,520h1v1h-1zM523,520h1v1h-1zM513,521h1v1h-1zM523,521h1v1h-1zM513,522h1v1h-1zM523,522h1v1h-1zM513,523h1v1h-1zM523,523h1v1h-1zM514,524h1v1h-1zM522,524h1v1h-1zM515,525h7v1h-7zM518,514h1v1h-1zM518,526h1v1h-1zM512,520h1v1h-1zM524,520h1v1h-1z" fill="#c04000" shape-rendering="crispEdges"/>
<path d="M521,517h7v1h-7zM520,518h1v1h-1zM528,518h1v1h-1zM519,519h1v1h-1zM529,519h1v1h-1zM519,520h1v1h-1zM529,520h1v1h-1zM519,521h1v1h-1zM529,521h1v1h-1zM519,522h1v1h-1zM529,522h1v1h-1zM519,523h1v1h-1zM529,523h1v1h-1zM519,524h1v1h-1zM529,524h1v1h-1zM519,525h1v1h-1zM529,525h1v1h-1zM520,526h1v1h-1zM528,526h1v1h-1zM521,527h7v1h-7zM524,516h1v1h-1zM524,528h1v1h-1zM518,522h1v1h-1zM530,522h1v1h-1z" fill="#c04000" shape-rendering="crispEdges"/>
<path d="M568,515h7v1h-7zM567,516h1v1h-1zM575,516h1v1h-1zM566,517h1v1h-1zM576,517h1v1h-1zM566,518h1v1h-1zM576,518h1v1h-1zM566,519h1v1h-1zM576,519h1v1h-1zM566,520h1v1h-1zM576,520h1v1h-1zM566,521h1v1h-1zM576,521h1v1h-1zM566,522h1v1h-1zM576,522h1v1h-1zM566,523h1v1h-1zM576,523h1v1h-1zM567,524h1v1h-1zM575,524h1v1h-1zM568,525h7v1h-7zM571,514h1v1h-1zM571,526h1v1h-1zM565,520h1v1h-1zM577,520h1v1h-1z" fill="#c04000" shape-rendering="crispEdges"/>
<path d="M574,517h7v1h-7zM573,518h1v1h-1zM581,518h1v1h-1zM572,519h1v1h-1zM582,519h1v1h-1zM572,520h1v1h-1zM582,520h1v1h-1zM572,521h1v1h-1zM582,521h1v1h-1zM572,522h1v1h-1zM582,522h1v1h-1zM572,523h1v1h-1zM582,523h1v1h-1zM572,524h1v1h-1zM582,524h1v1h-1zM572,525h1v1h-1zM582,525h1v1h-1zM573,526h1v1h-1zM581,526h1v1h-1zM574,527h7v1h-7zM577,516h1v1h-1zM577,528h1v1h-1zM571,522h1v1h-1zM583,522h1v1h-1z" fill="#c04000" shape-rendering="crispEdges"/>
<path d="M621,507h7v1h-7zM620,508h1v1h-1zM628,508h1v1h-1zM619,509h1v1h-1zM629,509h1v1h-1zM619,510h1v1h-1zM629,510h1v1h-1zM619,511h1v1h-1zM629,511h1v1h-1zM619,512h1v1h-1zM629,512h1v1h-1zM619,513h1v1h-1zM629,513h1v1h-1zM619,514h1v1h-1zM629,514h1v1h-1zM619,515h1v1h-1zM629,515h1v1h-1zM620,516h1v1h-1zM628,516h1v1h-1zM621,517h7v1h-7zM624,506h1v1h-1zM624,518h1v1h-1zM618,512h1v1h-1zM630,512h1v1h-1z" fill="#c04000" shape-rendering="crispEdges"/>
<path d="M627,510h7v1h-7zM626,511h1v1h-1zM634,511h1v1h-1zM625,512h1v1h-1zM635,512h1v1h-1zM625,513h1v1h-1zM635,513h1v1h-1zM625,514h1v1h-1zM635,514h1v1h-1zM625,515h1v1h-1zM635,515h1v1h-1zM625,516h1v1h-1zM635,516h1v1h-1zM625,517h1v1h-1zM635,517h1v1h-1zM625,518h1v1h-1zM635,518h1v1h-1zM626,519h1v1h-1zM634,519h1v1h-1zM627,520h7v1h-7zM630,509h1v1h-1zM630,521h1v1h-1zM624,515h1v1h-1zM636,515h1v1h-1z" fill="#c04000" shape-rendering="crispEdges"/>
<path d="M673,517h7v1h-7zM672,518h1v1h-1zM680,518h1v1h-1zM671,519h1v1h-1zM681,519h1v1h-1zM671,520h1v1h-1zM681,520h1v1h-1zM671,521h1v1h-1zM681,521h1v1h-1zM671,522h1v1h-1zM681,522h1v1h-1zM671,523h1v1h-1zM681,523h1v1h-1zM671,524h1v1h-1zM681,524h1v1h-1zM671,525h1v1h-1zM681,525h1v1h-1zM672,526h1v1h-1zM680,526h1v1h-1zM673,527h7v1h-7zM676,516h1v1h-1zM676,528h1v1h-1zM670,522h1v1h-1zM682,522h1v1h-1z" fill="#c04000" shape-rendering="crispEdges"/>
<path d="M680,516h7v1h-7zM679,517h1v1h-1zM687,517h1v1h-1zM678,518h1v1h-1zM688,518h1v1h-1zM678,519h1v1h-1zM688,519h1v1h-1zM678,520h1v1h-1zM688,520h1v1h-1zM678,521h1v1h-1zM688,521h1v1h-1zM678,522h1v1h-1zM688,522h1v1h-1zM678,523h1v1h-1zM688,523h1v1h-1zM678,524h1v1h-1zM688,524h1v1h-1zM679,525h1v1h-1zM687,525h1v1h-1zM680,526h7v1h-7zM683,515h1v1h-1zM683,527h1v1h-1zM677,521h1v1h-1zM689,521h1v1h-1z" fill="#c04000" shape-rendering="crispEdges"/>
<path d="M726,514h7v1h-7zM725,515h1v1h-1zM733,515h1v1h-1zM724,516h1v1h-1zM734,516h1v1h-1zM724,517h1v1h-1zM734,517h1v1h-1zM724,518h1v1h-1zM734,518h1v1h-1zM724,519h1v1h-1zM734,519h1v1h-1zM724,520h1v1h-1zM734,520h1v1h-1zM724,521h1v1h-1zM734,521h1v1h-1zM724,522h1v1h-1zM734,522h1v1h-1zM725,523h1v1h-1zM733,523h1v1h-1zM726,524h7v1h-7zM729,513h1v1h-1zM729,525h1v1h-1zM723,519h1v1h-1zM735,519h1v1h-1z" fill="#c04000" shape-rendering="crispEdges"/>
<path d="M732,513h7v1h-7zM731,514h1v1h-1zM739,514h1v1h-1zM730,515h1v1h-1zM740,515h1v1h-1zM730,516h1v1h-1zM740,516h1v1h-1zM730,517h1v1h-1zM740,517h1v1h-1zM730,518h1v1h-1zM740,518h1v1h-1zM730,519h1v1h-1zM740,519h1v1h-1zM730,520h1v1h-1zM740,520h1v1h-1zM730,521h1v1h-1zM740,521h1v1h-1zM731,522h1v1h-1zM739,522h1v1h-1zM732,523h7v1h-7zM735,512h1v1h-1zM735,524h1v1h-1zM729,518h1v1h-1zM741,518h1v1h-1z" fill="#c04000" shape-rendering="crispEdges"/>
<path d="M779,515h7v1h-7zM778,516h1v1h-1zM786,516h1v1h-1zM777,517h1v1h-1zM787,517h1v1h-1zM777,518h1v1h-1zM787,518h1v1h-1zM777,519h1v1h-1zM787,519h1v1h-1zM777,520h1v1h-1zM787,520h1v1h-1zM777,521h1v1h-1zM787,521h1v1h-1zM777,522h1v1h-1zM787,522h1v1h-1zM777,523h1v1h-1zM787,523h1v1h-1zM778,524h1v1h-1zM786,524h1v1h-1zM779,525h7v1h-7zM782,514h1v1h-1zM782,526h1v1h-1zM776,520h1v1h-1zM788,520h1v1h-1z" fill="#c04000" shape-rendering="crispEdges"/>
<path d="M785,514h7v1h-7zM784,515h1v1h-1zM792,515h1v1h-1zM783,516h1v1h-1zM793,516h1v1h-1zM783,517h1v1h-1zM793,517h1v1h-1zM783,518h1v1h-1zM793,518h1v1h-1zM783,519h1v1h-1zM793,519h1v1h-1zM783,520h1v1h-1zM793,520h1v1h-1zM783,521h1v1h-1zM793,521h1v1h-1zM783,522h1v1h-1zM793,522h1v1h-1zM784,523h1v1h-1zM792,523h1v1h-1zM785,524h7v1h-7zM788,513h1v1h-1zM788,525h1v1h-1zM782,519h1v1h-1zM794,519h1v1h-1z" fill="#c04000" shape-rendering="crispEdges"/>
<path d="M832,512h7v1h-7zM831,513h1v1h-1zM839,513h1v1h-1zM830,514h1v1h-1zM840,514h1v1h-1zM830,515h1v1h-1zM840,515h1v1h-1zM830,516h1v1h-1zM840,516h1v1h-1zM830,517h1v1h-1zM840,517h1v1h-1zM830,518h1v1h-1zM840,518h1v1h-1zM830,519h1v1h-1zM840,519h1v1h-1zM830,520h1v1h-1zM840,520h1v1h-1zM831,521h1v1h-1zM839,521h1v1h-1zM832,522h7v1h-7zM835,511h1v1h-1zM835,523h1v1h-1zM829,517h1v1h-1zM841,517h1v1h-1z" fill="#c04000" shape-rendering="crispEdges"/>
<path d="M838,511h7v1h-7zM837,512h1v1h-1zM845,512h1v1h-1zM836,513h1v1h-1zM846,513h1v1h-1zM836,514h1v1h-1zM846,514h1v1h-1zM836,515h1v1h-1zM846,515h1v1h-1zM836,516h1v1h-1zM846,516h1v1h-1zM836,517h1v1h-1zM846,517h1v1h-1zM836,518h1v1h-1zM846,518h1v1h-1zM836,519h1v1h-1zM846,519h1v1h-1zM837,520h1v1h-1zM845,520h1v1h-1zM838,521h7v1h-7zM841,510h1v1h-1zM841,522h1v1h-1zM835,516h1v1h-1zM847,516h1v1h-1z" fill="#c04000" shape-rendering="crispEdges"/>
<path d="M884,514h7v1h-7zM883,515h1v1h-1zM891,515h1v1h-1zM882,516h1v1h-1zM892,516h1v1h-1zM882,517h1v1h-1zM892,517h1v1h-1zM882,518h1v1h-1zM892,518h1v1h-1zM882,519h1v1h-1zM892,519h1v1h-1zM882,520h1v1h-1zM892,520h1v1h-1zM882,521h1v1h-1zM892,521h1v1h-1zM882,522h1v1h-1zM892,522h1v1h-1zM883,523h1v1h-1zM891,523h1v1h-1zM884,524h7v1h-7zM887,513h1v1h-1zM887,525h1v1h-1zM881,519h1v1h-1zM893,519h1v1h-1z" fill="#c04000" shape-rendering="crispEdges"/>
<path d="M890,514h7v1h-7zM889,515h1v1h-1zM897,515h1v1h-1zM888,516h1v1h-1zM898,516h1v1h-1zM888,517h1v1h-1zM898,517h1v1h-1zM888,518h1v1h-1zM898,518h1v1h-1zM888,519h1v1h-1zM898,519h1v1h-1zM888,520h1v1h-1zM898,520h1v1h-1zM888,521h1v1h-1zM898,521h1v1h-1zM888,522h1v1h-1zM898,522h1v1h-1zM889,523h1v1h-1zM897,523h1v1h-1zM890,524h7v1h-7zM893,513h1v1h-1zM893,525h1v1h-1zM887,519h1v1h-1zM899,519h1v1h-1z" fill="#c04000" shape-rendering="crispEdges"/>
<path d="M937,515h7v1h-7zM936,516h1v1h-1zM944,516h1v1h-1zM935,517h1v1h-1zM945,517h1v1h-1zM935,518h1v1h-1zM945,518h1v1h-1zM935,519h1v1h-1zM945,519h1v1h-1zM935,520h1v1h-1zM945,520h1v1h-1zM935,521h1v1h-1zM945,521h1v1h-1zM935,522h1v1h-1zM945,522h1v1h-1zM935,523h1v1h-1zM945,523h1v1h-1zM936,524h1v1h-1zM944,524h1v1h-1zM937,525h7v1h-7zM940,514h1v1h-1zM940,526h1v1h-1zM934,520h1v1h-1zM946,520h1v1h-1z" fill="#c04000" shape-rendering="crispEdges"/>
<path d="M943,509h7v1h-7zM942,510h1v1h-1zM950,510h1v1h-1zM941,511h1v1h-1zM951,511h1v1h-1zM941,512h1v1h-1zM951,512h1v1h-1zM941,513h1v1h-1zM951,513h1v1h-1zM941,514h1v1h-1zM951,514h1v1h-1zM941,515h1v1h-1zM951,515h1v1h-1zM941,516h1v1h-1zM951,516h1v1h-1zM941,517h1v1h-1zM951,517h1v1h-1zM942,518h1v1h-1zM950,518h1v1h-1zM943,519h7v1h-7zM946,508h1v1h-1zM946,520h1v1h-1zM940,514h1v1h-1zM952,514h1v1h-1z" fill="#c04000" shape-rendering="crispEdges"/>
<path d="M990,512h7v1h-7zM989,513h1v1h-1zM997,513h1v1h-1zM988,514h1v1h-1zM998,514h1v1h-1zM988,515h1v1h-1zM998,515h1v1h-1zM988,516h1v1h-1zM998,516h1v1h-1zM988,517h1v1h-1zM998,517h1v1h-1zM988,518h1v1h-1zM998,518h1v1h-1zM988,519h1v1h-1zM998,519h1v1h-1zM988,520h1v1h-1zM998,520h1v1h-1zM989,521h1v1h-1zM997,521h1v1h-1zM990,522h7v1h-7zM993,511h1v1h-1zM993,523h1v1h-1zM987,517h1v1h-1zM999,517h1v1h-1z" fill="#c04000" shape-rendering="crispEdges"/>
<path d="M996,514h7v1h-7zM995,515h1v1h-1zM1003,515h1v1h-1zM994,516h1v1h-1zM1004,516h1v1h-1zM994,517h1v1h-1zM1004,517h1v1h-1zM994,518h1v1h-1zM1004,518h1v1h-1zM994,519h1v1h-1zM1004,519h1v1h-1zM994,520h1v1h-1zM1004,520h1v1h-1zM994,521h1v1h-1zM1004,521h1v1h-1zM994,522h1v1h-1zM1004,522h1v1h-1zM995,523h1v1h-1zM1003,523h1v1h-1zM996,524h7v1h-7zM999,513h1v1h-1zM999,525h1v1h-1zM993,519h1v1h-1zM1005,519h1v1h-1z" fill="#c04000" shape-rendering="crispEdges"/>
<path d="M1042,512h7v1h-7zM1041,513h1v1h-1zM1049,513h1v1h-1zM1040,514h1v1h-1zM1050,514h1v1h-1zM1040,515h1v1h-1zM1050,515h1v1h-1zM1040,516h1v1h-1zM1050,516h1v1h-1zM1040,517h1v1h-1zM1050,517h1v1h-1zM1040,518h1v1h-1zM1050,518h1v1h-1zM1040,519h1v1h-1zM1050,519h1v1h-1zM1040,520h1v1h-1zM1050,520h1v1h-1zM1041,521h1v1h-1zM1049,521h1v1h-1zM1042,522h7v1h-7zM1045,511h1v1h-1zM1045,523h1v1h-1zM1039,517h1v1h-1zM1051,517h1v1h-1z" fill="#c04000" shape-rendering="crispEdges"/>
<path d="M1049,509h7v1h-7zM1048,510h1v1h-1zM1056,510h1v1h-1zM1047,511h1v1h-1zM1057,511h1v1h-1zM1047,512h1v1h-1zM1057,512h1v1h-1zM1047,513h1v1h-1zM1057,513h1v1h-1zM1047,514h1v1h-1zM1057,514h1v1h-1zM1047,515h1v1h-1zM1057,515h1v1h-1zM1047,516h1v1h-1zM1057,516h1v1h-1zM1047,517h1v1h-1zM1057,517h1v1h-1zM1048,518h1v1h-1zM1056,518h1v1h-1zM1049,519h7v1h-7zM1052,508h1v1h-1zM1052,520h1v1h-1zM1046,514h1v1h-1zM1058,514h1v1h-1z" fill="#c04000" shape-rendering="crispEdges"/>
<path d="M1095,509h7v1h-7zM1094,510h1v1h-1zM1102,510h1v1h-1zM1093,511h1v1h-1zM1103,511h1v1h-1zM1093,512h1v1h-1zM1103,512h1v1h-1zM1093,513h1v1h-1zM1103,513h1v1h-1zM1093,514h1v1h-1zM1103,514h1v1h-1zM1093,515h1v1h-1zM1103,515h1v1h-1zM1093,516h1v1h-1zM1103,516h1v1h-1zM1093,517h1v1h-1zM1103,517h1v1h-1zM1094,518h1v1h-1zM1102,518h1v1h-1zM1095,519h7v1h-7zM1098,508h1v1h-1zM1098,520h1v1h-1zM1092,514h1v1h-1zM1104,514h1v1h-1z" fill="#c04000" shape-rendering="crispEdges"/>
<path d="M1101,514h7v1h-7zM1100,515h1v1h-1zM1108,515h1v1h-1zM1099,516h1v1h-1zM1109,516h1v1h-1zM1099,517h1v1h-1zM1109,517h1v1h-1zM1099,518h1v1h-1zM1109,518h1v1h-1zM1099,519h1v1h-1zM1109,519h1v1h-1zM1099,520h1v1h-1zM1109,520h1v1h-1zM1099,521h1v1h-1zM1109,521h1v1h-1zM1099,522h1v1h-1zM1109,522h1v1h-1zM1100,523h1v1h-1zM1108,523h1v1h-1zM1101,524h7v1h-7zM1104,513h1v1h-1zM1104,525h1v1h-1zM1098,519h1v1h-1zM1110,519h1v1h-1z" fill="#c04000" shape-rendering="crispEdges"/>
<path d="M1148,512h7v1h-7zM1147,513h1v1h-1zM1155,513h1v1h-1zM1146,514h1v1h-1zM1156,514h1v1h-1zM1146,515h1v1h-1zM1156,515h1v1h-1zM1146,516h1v1h-1zM1156,516h1v1h-1zM1146,517h1v1h-1zM1156,517h1v1h-1zM1146,518h1v1h-1zM1156,518h1v1h-1zM1146,519h1v1h-1zM1156,519h1v1h-1zM1146,520h1v1h-1zM1156,520h1v1h-1zM1147,521h1v1h-1zM1155,521h1v1h-1zM1148,522h7v1h-7zM1151,511h1v1h-1zM1151,523h1v1h-1zM1145,517h1v1h-1zM1157,517h1v1h-1z" fill="#c04000" shape-rendering="crispEdges"/>
<path d="M1154,516h7v1h-7zM1153,517h1v1h-1zM1161,517h1v1h-1zM1152,518h1v1h-1zM1162,518h1v1h-1zM1152,519h1v1h-1zM1162,519h1v1h-1zM1152,520h1v1h-1zM1162,520h1v1h-1zM1152,521h1v1h-1zM1162,521h1v1h-1zM1152,522h1v1h-1zM1162,522h1v1h-1zM1152,523h1v1h-1zM1162,523h1v1h-1zM1152,524h1v1h-1zM1162,524h1v1h-1zM1153,525h1v1h-1zM1161,525h1v1h-1zM1154,526h7v1h-7zM1157,515h1v1h-1zM1157,527h1v1h-1zM1151,521h1v1h-1zM1163,521h1v1h-1z" fill="#c04000" shape-rendering="crispEdges"/>
<path d="M1200,511h7v1h-7zM1199,512h1v1h-1zM1207,512h1v1h-1zM1198,513h1v1h-1zM1208,513h1v1h-1zM1198,514h1v1h-1zM1208,514h1v1h-1zM1198,515h1v1h-1zM1208,515h1v1h-1zM1198,516h1v1h-1zM1208,516h1v1h-1zM1198,517h1v1h-1zM1208,517h1v1h-1zM1198,518h1v1h-1zM1208,518h1v1h-1zM1198,519h1v1h-1zM1208,519h1v1h-1zM1199,520h1v1h-1zM1207,520h1v1h-1zM1200,521h7v1h-7zM1203,510h1v1h-1zM1203,522h1v1h-1zM1197,516h1v1h-1zM1209,516h1v1h-1z" fill="#c04000" shape-rendering="crispEdges"/>
<path d="M1207,510h7v1h-7zM1206,511h1v1h-1zM1214,511h1v1h-1zM1205,512h1v1h-1zM1215,512h1v1h-1zM1205,513h1v1h-1zM1215,513h1v1h-1zM1205,514h1v1h-1zM1215,514h1v1h-1zM1205,515h1v1h-1zM1215,515h1v1h-1zM1205,516h1v1h-1zM1215,516h1v1h-1zM1205,517h1v1h-1zM1215,517h1v1h-1zM1205,518h1v1h-1zM1215,518h1v1h-1zM1206,519h1v1h-1zM1214,519h1v1h-1zM1207,520h7v1h-7zM1210,509h1v1h-1zM1210,521h1v1h-1zM1204,515h1v1h-1zM1216,515h1v1h-1z" fill="#c04000" shape-rendering="crispEdges"/>
<path d="M1253,512h7v1h-7zM1252,513h1v1h-1zM1260,513h1v1h-1zM1251,514h1v1h-1zM1261,514h1v1h-1zM1251,515h1v1h-1zM1261,515h1v1h-1zM1251,516h1v1h-1zM1261,516h1v1h-1zM1251,517h1v1h-1zM1261,517h1v1h-1zM1251,518h1v1h-1zM1261,518h1v1h-1zM1251,519h1v1h-1zM1261,519h1v1h-1zM1251,520h1v1h-1zM1261,520h1v1h-1zM1252,521h1v1h-1zM1260,521h1v1h-1zM1253,522h7v1h-7zM1256,511h1v1h-1zM1256,523h1v1h-1zM1250,517h1v1h-1zM1262,517h1v1h-1z" fill="#c04000" shape-rendering="crispEdges"/>
<path d="M1259,518h7v1h-7zM1258,519h1v1h-1zM1266,519h1v1h-1zM1257,520h1v1h-1zM1267,520h1v1h-1zM1257,521h1v1h-1zM1267,521h1v1h-1zM1257,522h1v1h-1zM1267,522h1v1h-1zM1257,523h1v1h-1zM1267,523h1v1h-1zM1257,524h1v1h-1zM1267,524h1v1h-1zM1257,525h1v1h-1zM1267,525h1v1h-1zM1257,526h1v1h-1zM1267,526h1v1h-1zM1258,527h1v1h-1zM1266,527h1v1h-1zM1259,528h7v1h-7zM1262,517h1v1h-1zM1262,529h1v1h-1zM1256,523h1v1h-1zM1268,523h1v1h-1z" fill="#c04000" shape-rendering="crispEdges"/>
<path d="M1306,515h7v1h-7zM1305,516h1v1h-1zM1313,516h1v1h-1zM1304,517h1v1h-1zM1314,517h1v1h-1zM1304,518h1v1h-1zM1314,518h1v1h-1zM1304,519h1v1h-1zM1314,519h1v1h-1zM1304,520h1v1h-1zM1314,520h1v1h-1zM1304,521h1v1h-1zM1314,521h1v1h-1zM1304,522h1v1h-1zM1314,522h1v1h-1zM1304,523h1v1h-1zM1314,523h1v1h-1zM1305,524h1v1h-1zM1313,524h1v1h-1zM1306,525h7v1h-7zM1309,514h1v1h-1zM1309,526h1v1h-1zM1303,520h1v1h-1zM1315,520h1v1h-1z" fill="#c04000" shape-rendering="crispEdges"/>
<path d="M1312,513h7v1h-7zM1311,514h1v1h-1zM1319,514h1v1h-1zM1310,515h1v1h-1zM1320,515h1v1h-1zM1310,516h1v1h-1zM1320,516h1v1h-1zM1310,517h1v1h-1zM1320,517h1v1h-1zM1310,518h1v1h-1zM1320,518h1v1h-1zM1310,519h1v1h-1zM1320,519h1v1h-1zM1310,520h1v1h-1zM1320,520h1v1h-1zM1310,521h1v1h-1zM1320,521h1v1h-1zM1311,522h1v1h-1zM1319,522h1v1h-1zM1312,523h7v1h-7zM1315,512h1v1h-1zM1315,524h1v1h-1zM1309,518h1v1h-1zM1321,518h1v1h-1z" fill="#c04000" shape-rendering="crispEdges"/>
<path d="M1359,514h7v1h-7zM1358,515h1v1h-1zM1366,515h1v1h-1zM1357,516h1v1h-1zM1367,516h1v1h-1zM1357,517h1v1h-1zM1367,517h1v1h-1zM1357,518h1v1h-1zM1367,518h1v1h-1zM1357,519h1v1h-1zM1367,519h1v1h-1zM1357,520h1v1h-1zM1367,520h1v1h-1zM1357,521h1v1h-1zM1367,521h1v1h-1zM1357,522h1v1h-1zM1367,522h1v1h-1zM1358,523h1v1h-1zM1366,523h1v1h-1zM1359,524h7v1h-7zM1362,513h1v1h-1zM1362,525h1v1h-1zM1356,519h1v1h-1zM1368,519h1v1h-1z" fill="#c04000" shape-rendering="crispEdges"/>
<path d="M100,534h7v1h-7zM99,535h9v1h-9zM98,536h11v1h-11zM98,537h11v1h-11zM98,538h11v1h-11zM98,539h11v1h-11zM98,540h11v1h-11zM98,541h11v1h-11zM98,542h11v1h-11zM99,543h9v1h-9zM100,544h7v1h-7zM103,533h1v1h-1zM103,545h1v1h-1z" fill="#c8c800" shape-rendering="crispEdges"/>
<path d="M146,534h7v1h-7zM145,535h9v1h-9zM144,536h11v1h-11zM144,537h11v1h-11zM144,538h11v1h-11zM144,539h11v1h-11zM144,540h11v1h-11zM144,541h11v1h-11zM144,542h11v1h-11zM145,543h9v1h-9zM146,544h7v1h-7zM149,533h1v1h-1zM149,545h1v1h-1z" fill="#c8c800" shape-rendering="crispEdges"/>
<path d="M205,534h7v1h-7zM204,535h9v1h-9zM203,536h11v1h-11zM203,537h11v1h-11zM203,538h11v1h-11zM203,539h11v1h-11zM203,540h11v1h-11zM203,541h11v1h-11zM203,542h11v1h-11zM204,543h9v1h-9zM205,544h7v1h-7zM208,533h1v1h-1zM208,545h1v1h-1z" fill="#c8c800" shape-rendering="crispEdges"/>
<path d="M252,534h7v1h-7zM251,535h9v1h-9zM250,536h11v1h-11zM250,537h11v1h-11zM250,538h11v1h-11zM250,539h11v1h-11zM250,540h11v1h-11zM250,541h11v1h-11zM250,542h11v1h-11zM251,543h9v1h-9zM252,544h7v1h-7zM255,533h1v1h-1zM255,545h1v1h-1z" fill="#c8c800" shape-rendering="crispEdges"/>
<path d="M258,534h7v1h-7zM257,535h9v1h-9zM256,536h11v1h-11zM256,537h11v1h-11zM256,538h11v1h-11zM256,539h11v1h-11zM256,540h11v1h-11zM256,541h11v1h-11zM256,542h11v1h-11zM257,543h9v1h-9zM258,544h7v1h-7zM261,533h1v1h-1zM261,545h1v1h-1z" fill="#c8c800" shape-rendering="crispEdges"/>
<path d="M304,534h7v1h-7zM303,535h9v1h-9zM302,536h11v1h-11zM302,537h11v1h-11zM302,538h11v1h-11zM302,539h11v1h-11zM302,540h11v1h-11zM302,541h11v1h-11zM302,542h11v1h-11zM303,543h9v1h-9zM304,544h7v1h-7zM307,533h1v1h-1zM307,545h1v1h-1z" fill="#c8c800" shape-rendering="crispEdges"/>
<path d="M311,534h7v1h-7zM310,535h9v1h-9zM309,536h11v1h-11zM309,537h11v1h-11zM309,538h11v1h-11zM309,539h11v1h-11zM309,540h11v1h-11zM309,541h11v1h-11zM309,542h11v1h-11zM310,543h9v1h-9zM311,544h7v1h-7zM314,533h1v1h-1zM314,545h1v1h-1z" fill="#c8c800" shape-rendering="crispEdges"/>
<path d="M357,534h7v1h-7zM356,535h9v1h-9zM355,536h11v1h-11zM355,537h11v1h-11zM355,538h11v1h-11zM355,539h11v1h-11zM355,540h11v1h-11zM355,541h11v1h-11zM355,542h11v1h-11zM356,543h9v1h-9zM357,544h7v1h-7zM360,533h1v1h-1zM360,545h1v1h-1z" fill="#c8c800" shape-rendering="crispEdges"/>
<path d="M363,534h7v1h-7zM362,535h9v1h-9zM361,536h11v1h-11zM361,537h11v1h-11zM361,538h11v1h-11zM361,539h11v1h-11zM361,540h11v1h-11zM361,541h11v1h-11zM361,542h11v1h-11zM362,543h9v1h-9zM363,544h7v1h-7zM366,533h1v1h-1zM366,545h1v1h-1z" fill="#c8c800" shape-rendering="crispEdges"/>
<path d="M410,534h7v1h-7zM409,535h9v1h-9zM408,536h11v1h-11zM408,537h11v1h-11zM408,538h11v1h-11zM408,539h11v1h-11zM408,540h11v1h-11zM408,541h11v1h-11zM408,542h11v1h-11zM409,543h9v1h-9zM410,544h7v1h-7zM413,533h1v1h-1zM413,545h1v1h-1z" fill="#c8c800" shape-rendering="crispEdges"/>
<path d="M416,534h7v1h-7zM415,535h9v1h-9zM414,536h11v1h-11zM414,537h11v1h-11zM414,538h11v1h-11zM414,539h11v1h-11zM414,540h11v1h-11zM414,541h11v1h-11zM414,542h11v1h-11zM415,543h9v1h-9zM416,544h7v1h-7zM419,533h1v1h-1zM419,545h1v1h-1z" fill="#c8c800" shape-rendering="crispEdges"/>
<path d="M463,534h7v1h-7zM462,535h9v1h-9zM461,536h11v1h-11zM461,537h11v1h-11zM461,538h11v1h-11zM461,539h11v1h-11zM461,540h11v1h-11zM461,541h11v1h-11zM461,542h11v1h-11zM462,543h9v1h-9zM463,544h7v1h-7zM466,533h1v1h-1zM466,545h1v1h-1z" fill="#c8c800" shape-rendering="crispEdges"/>
<path d="M469,534h7v1h-7zM468,535h9v1h-9zM467,536h11v1h-11zM467,537h11v1h-11zM467,538h11v1h-11zM467,539h11v1h-11zM467,540h11v1h-11zM467,541h11v1h-11zM467,542h11v1h-11zM468,543h9v1h-9zM469,544h7v1h-7zM472,533h1v1h-1zM472,545h1v1h-1z" fill="#c8c800" shape-rendering="crispEdges"/>
<path d="M515,534h7v1h-7zM514,535h9v1h-9zM513,536h11v1h-11zM513,537h11v1h-11zM513,538h11v1h-11zM513,539h11v1h-11zM513,540h11v1h-11zM513,541h11v1h-11zM513,542h11v1h-11zM514,543h9v1h-9zM515,544h7v1h-7zM518,533h1v1h-1zM518,545h1v1h-1z" fill="#c8c800" shape-rendering="crispEdges"/>
<path d="M521,534h7v1h-7zM520,535h9v1h-9zM519,536h11v1h-11zM519,537h11v1h-11zM519,538h11v1h-11zM519,539h11v1h-11zM519,540h11v1h-11zM519,541h11v1h-11zM519,542h11v1h-11zM520,543h9v1h-9zM521,544h7v1h-7zM524,533h1v1h-1zM524,545h1v1h-1z" fill="#c8c800" shape-rendering="crispEdges"/>
<path d="M568,534h7v1h-7zM567,535h9v1h-9zM566,536h11v1h-11zM566,537h11v1h-11zM566,538h11v1h-11zM566,539h11v1h-11zM566,540h11v1h-11zM566,541h11v1h-11zM566,542h11v1h-11zM567,543h9v1h-9zM568,544h7v1h-7zM571,533h1v1h-1zM571,545h1v1h-1z" fill="#c8c800" shape-rendering="crispEdges"/>
<path d="M574,534h7v1h-7zM573,535h9v1h-9zM572,536h11v1h-11zM572,537h11v1h-11zM572,538h11v1h-11zM572,539h11v1h-11zM572,540h11v1h-11zM572,541h11v1h-11zM572,542h11v1h-11zM573,543h9v1h-9zM574,544h7v1h-7zM577,533h1v1h-1zM577,545h1v1h-1z" fill="#c8c800" shape-rendering="crispEdges"/>
<path d="M621,534h7v1h-7zM620,535h9v1h-9zM619,536h11v1h-11zM619,537h11v1h-11zM619,538h11v1h-11zM619,539h11v1h-11zM619,540h11v1h-11zM619,541h11v1h-11zM619,542h11v1h-11zM620,543h9v1h-9zM621,544h7v1h-7zM624,533h1v1h-1zM624,545h1v1h-1z" fill="#c8c800" shape-rendering="crispEdges"/>
<path d="M627,534h7v1h-7zM626,535h9v1h-9zM625,536h11v1h-11zM625,537h11v1h-11zM625,538h11v1h-11zM625,539h11v1h-11zM625,540h11v1h-11zM625,541h11v1h-11zM625,542h11v1h-11zM626,543h9v1h-9zM627,544h7v1h-7zM630,533h1v1h-1zM630,545h1v1h-1z" fill="#c8c800" shape-rendering="crispEdges"/>
<path d="M673,534h7v1h-7zM672,535h9v1h-9zM671,536h11v1h-11zM671,537h11v1h-11zM671,538h11v1h-11zM671,539h11v1h-11zM671,540h11v1h-11zM671,541h11v1h-11zM671,542h11v1h-11zM672,543h9v1h-9zM673,544h7v1h-7zM676,533h1v1h-1zM676,545h1v1h-1z" fill="#c8c800" shape-rendering="crispEdges"/>
<path d="M680,534h7v1h-7zM679,535h9v1h-9zM678,536h11v1h-11zM678,537h11v1h-11zM678,538h11v1h-11zM678,539h11v1h-11zM678,540h11v1h-11zM678,541h11v1h-11zM678,542h11v1h-11zM679,543h9v1h-9zM680,544h7v1h-7zM683,533h1v1h-1zM683,545h1v1h-1z" fill="#c8c800" shape-rendering="crispEdges"/>
<path d="M726,534h7v1h-7zM725,535h9v1h-9zM724,536h11v1h-11zM724,537h11v1h-11zM724,538h11v1h-11zM724,539h11v1h-11zM724,540h11v1h-11zM724,541h11v1h-11zM724,542h11v1h-11zM725,543h9v1h-9zM726,544h7v1h-7zM729,533h1v1h-1zM729,545h1v1h-1z" fill="#c8c800" shape-rendering="crispEdges"/>
<path d="M732,534h7v1h-7zM731,535h9v1h-9zM730,536h11v1h-11zM730,537h11v1h-11zM730,538h11v1h-11zM730,539h11v1h-11zM730,540h11v1h-11zM730,541h11v1h-11zM730,542h11v1h-11zM731,543h9v1h-9zM732,544h7v1h-7zM735,533h1v1h-1zM735,545h1v1h-1z" fill="#c8c800" shape-rendering="crispEdges"/>
<path d="M779,534h7v1h-7zM778,535h9v1h-9zM777,536h11v1h-11zM777,537h11v1h-11zM777,538h11v1h-11zM777,539h11v1h-11zM777,540h11v1h-11zM777,541h11v1h-11zM777,542h11v1h-11zM778,543h9v1h-9zM779,544h7v1h-7zM782,533h1v1h-1zM782,545h1v1h-1z" fill="#c8c800" shape-rendering="crispEdges"/>
<path d="M785,534h7v1h-7zM784,535h9v1h-9zM783,536h11v1h-11zM783,537h11v1h-11zM783,538h11v1h-11zM783,539h11v1h-11zM783,540h11v1h-11zM783,541h11v1h-11zM783,542h11v1h-11zM784,543h9v1h-9zM785,544h7v1h-7zM788,533h1v1h-1zM788,545h1v1h-1z" fill="#c8c800" shape-rendering="crispEdges"/>
<path d="M832,534h7v1h-7zM831,535h9v1h-9zM830,536h11v1h-11zM830,537h11v1h-11zM830,538h11v1h-11zM830,539h11v1h-11zM830,540h11v1h-11zM830,541h11v1h-11zM830,542h11v1h-11zM831,543h9v1h-9zM832,544h7v1h-7zM835,533h1v1h-1zM835,545h1v1h-1z" fill="#c8c800" shape-rendering="crispEdges"/>
<path d="M838,534h7v1h-7zM837,535h9v1h-9zM836,536h11v1h-11zM836,537h11v1h-11zM836,538h11v1h-11zM836,539h11v1h-11zM836,540h11v1h-11zM836,541h11v1h-11zM836,542h11v1h-11zM837,543h9v1h-9zM838,544h7v1h-7zM841,533h1v1h-1zM841,545h1v1h-1z" fill="#c8c800" shape-rendering="crispEdges"/>
<path d="M884,534h7v1h-7zM883,535h9v1h-9zM882,536h11v1h-11zM882,537h11v1h-11zM882,538h11v1h-11zM882,539h11v1h-11zM882,540h11v1h-11zM882,541h11v1h-11zM882,542h11v1h-11zM883,543h9v1h-9zM884,544h7v1h-7zM887,533h1v1h-1zM887,545h1v1h-1z" fill="#c8c800" shape-rendering="crispEdges"/>
<path d="M890,534h7v1h-7zM889,535h9v1h-9zM888,536h11v1h-11zM888,537h11v1h-11zM888,538h11v1h-11zM888,539h11v1h-11zM888,540h11v1h-11zM888,541h11v1h-11zM888,542h11v1h-11zM889,543h9v1h-9zM890,544h7v1h-7zM893,533h1v1h-1zM893,545h1v1h-1z" fill="#c8c800" shape-rendering="crispEdges"/>
<path d="M937,534h7v1h-7zM936,535h9v1h-9zM935,536h11v1h-11zM935,537h11v1h-11zM935,538h11v1h-11zM935,539h11v1h-11zM935,540h11v1h-11zM935,541h11v1h-11zM935,542h11v1h-11zM936,543h9v1h-9zM937,544h7v1h-7zM940,533h1v1h-1zM940,545h1v1h-1z" fill="#c8c800" shape-rendering="crispEdges"/>
<path d="M943,534h7v1h-7zM942,535h9v1h-9zM941,536h11v1h-11zM941,537h11v1h-11zM941,538h11v1h-11zM941,539h11v1h-11zM941,540h11v1h-11zM941,541h11v1h-11zM941,542h11v1h-11zM942,543h9v1h-9zM943,544h7v1h-7zM946,533h1v1h-1zM946,545h1v1h-1z" fill="#c8c800" shape-rendering="crispEdges"/>
<path d="M990,534h7v1h-7zM989,535h9v1h-9zM988,536h11v1h-11zM988,537h11v1h-11zM988,538h11v1h-11zM988,539h11v1h-11zM988,540h11v1h-11zM988,541h11v1h-11zM988,542h11v1h-11zM989,543h9v1h-9zM990,544h7v1h-7zM993,533h1v1h-1zM993,545h1v1h-1z" fill="#c8c800" shape-rendering="crispEdges"/>
<path d="M996,534h7v1h-7zM995,535h9v1h-9zM994,536h11v1h-11zM994,537h11v1h-11zM994,538h11v1h-11zM994,539h11v1h-11zM994,540h11v1h-11zM994,541h11v1h-11zM994,542h11v1h-11zM995,543h9v1h-9zM996,544h7v1h-7zM999,533h1v1h-1zM999,545h1v1h-1z" fill="#c8c800" shape-rendering="crispEdges"/>
<path d="M1042,534h7v1h-7zM1041,535h9v1h-9zM1040,536h11v1h-11zM1040,537h11v1h-11zM1040,538h11v1h-11zM1040,539h11v1h-11zM1040,540h11v1h-11zM1040,541h11v1h-11zM1040,542h11v1h-11zM1041,543h9v1h-9zM1042,544h7v1h-7zM1045,533h1v1h-1zM1045,545h1v1h-1z" fill="#c8c800" shape-rendering="crispEdges"/>
<path d="M1049,534h7v1h-7zM1048,535h9v1h-9zM1047,536h11v1h-11zM1047,537h11v1h-11zM1047,538h11v1h-11zM1047,539h11v1h-11zM1047,540h11v1h-11zM1047,541h11v1h-11zM1047,542h11v1h-11zM1048,543h9v1h-9zM1049,544h7v1h-7zM1052,533h1v1h-1zM1052,545h1v1h-1z" fill="#c8c800" shape-rendering="crispEdges"/>
<path d="M1095,534h7v1h-7zM1094,535h9v1h-9zM1093,536h11v1h-11zM1093,537h11v1h-11zM1093,538h11v1h-11zM1093,539h11v1h-11zM1093,540h11v1h-11zM1093,541h11v1h-11zM1093,542h11v1h-11zM1094,543h9v1h-9zM1095,544h7v1h-7zM1098,533h1v1h-1zM1098,545h1v1h-1z" fill="#c8c800" shape-rendering="crispEdges"/>
<path d="M1101,534h7v1h-7zM1100,535h9v1h-9zM1099,536h11v1h-11zM1099,537h11v1h-11zM1099,538h11v1h-11zM1099,539h11v1h-11zM1099,540h11v1h-11zM1099,541h11v1h-11zM1099,542h11v1h-11zM1100,543h9v1h-9zM1101,544h7v1h-7zM1104,533h1v1h-1zM1104,545h1v1h-1z" fill="#c8c800" shape-rendering="crispEdges"/>
<path d="M1148,534h7v1h-7zM1147,535h9v1h-9zM1146,536h11v1h-11zM1146,537h11v1h-11zM1146,538h11v1h-11zM1146,539h11v1h-11zM1146,540h11v1h-11zM1146,541h11v1h-11zM1146,542h11v1h-11zM1147,543h9v1h-9zM1148,544h7v1h-7zM1151,533h1v1h-1zM1151,545h1v1h-1z" fill="#c8c800" shape-rendering="crispEdges"/>
<path d="M1154,534h7v1h-7zM1153,535h9v1h-9zM1152,536h11v1h-11zM1152,537h11v1h-11zM1152,538h11v1h-11zM1152,539h11v1h-11zM1152,540h11v1h-11zM1152,541h11v1h-11zM1152,542h11v1h-11zM1153,543h9v1h-9zM1154,544h7v1h-7zM1157,533h1v1h-1zM1157,545h1v1h-1z" fill="#c8c800" shape-rendering="crispEdges"/>
<path d="M1200,534h7v1h-7zM1199,535h9v1h-9zM1198,536h11v1h-11zM1198,537h11v1h-11zM1198,538h11v1h-11zM1198,539h11v1h-11zM1198,540h11v1h-11zM1198,541h11v1h-11zM1198,542h11v1h-11zM1199,543h9v1h-9zM1200,544h7v1h-7zM1203,533h1v1h-1zM1203,545h1v1h-1z" fill="#c8c800" shape-rendering="crispEdges"/>
<path d="M1207,534h7v1h-7zM1206,535h9v1h-9zM1205,536h11v1h-11zM1205,537h11v1h-11zM1205,538h11v1h-11zM1205,539h11v1h-11zM1205,540h11v1h-11zM1205,541h11v1h-11zM1205,542h11v1h-11zM1206,543h9v1h-9zM1207,544h7v1h-7zM1210,533h1v1h-1zM1210,545h1v1h-1z" fill="#c8c800" shape-rendering="crispEdges"/>
<path d="M1253,534h7v1h-7zM1252,535h9v1h-9zM1251,536h11v1h-11zM1251,537h11v1h-11zM1251,538h11v1h-11zM1251,539h11v1h-11zM1251,540h11v1h-11zM1251,541h11v1h-11zM1251,542h11v1h-11zM1252,543h9v1h-9zM1253,544h7v1h-7zM1256,533h1v1h-1zM1256,545h1v1h-1z" fill="#c8c800" shape-rendering="crispEdges"/>
<path d="M1259,534h7v1h-7zM1258,535h9v1h-9zM1257,536h11v1h-11zM1257,537h11v1h-11zM1257,538h11v1h-11zM1257,539h11v1h-11zM1257,540h11v1h-11zM1257,541h11v1h-11zM1257,542h11v1h-11zM1258,543h9v1h-9zM1259,544h7v1h-7zM1262,533h1v1h-1zM1262,545h1v1h-1z" fill="#c8c800" shape-rendering="crispEdges"/>
<path d="M1306,534h7v1h-7zM1305,535h9v1h-9zM1304,536h11v1h-11zM1304,537h11v1h-11zM1304,538h11v1h-11zM1304,539h11v1h-11zM1304,540h11v1h-11zM1304,541h11v1h-11zM1304,542h11v1h-11zM1305,543h9v1h-9zM1306,544h7v1h-7zM1309,533h1v1h-1zM1309,545h1v1h-1z" fill="#c8c800" shape-rendering="crispEdges"/>
<path d="M1312,534h7v1h-7zM1311,535h9v1h-9zM1310,536h11v1h-11zM1310,537h11v1h-11zM1310,538h11v1h-11zM1310,539h11v1h-11zM1310,540h11v1h-11zM1310,541h11v1h-11zM1310,542h11v1h-11zM1311,543h9v1h-9zM1312,544h7v1h-7zM1315,533h1v1h-1zM1315,545h1v1h-1z" fill="#c8c800" shape-rendering="crispEdges"/>
<path d="M1359,534h7v1h-7zM1358,535h9v1h-9zM1357,536h11v1h-11zM1357,537h11v1h-11zM1357,538h11v1h-11zM1357,539h11v1h-11zM1357,540h11v1h-11zM1357,541h11v1h-11zM1357,542h11v1h-11zM1358,543h9v1h-9zM1359,544h7v1h-7zM1362,533h1v1h-1zM1362,545h1v1h-1z" fill="#c8c800" shape-rendering="crispEdges"/>
<path d="M206,456h1v1h-1zM205,457h1v1h-1zM207,457h1v1h-1zM205,458h1v1h-1zM207,458h1v1h-1zM204,459h1v1h-1zM208,459h1v1h-1zM203,460h1v1h-1zM209,460h1v1h-1zM203,461h1v1h-1zM209,461h1v1h-1zM202,462h1v1h-1zM210,462h1v1h-1zM201,463h1v1h-1zM211,463h1v1h-1zM201,464h1v1h-1zM211,464h1v1h-1zM200,465h1v1h-1zM212,465h1v1h-1zM199,466h1v1h-1zM213,466h1v1h-1zM199,467h1v1h-1zM213,467h1v1h-1zM198,468h17v1h-17z" fill="#4169e1" shape-rendering="crispEdges"/>
<path d="M206,402h1v1h-1zM205,403h3v1h-3zM205,404h3v1h-3zM204,405h5v1h-5zM203,406h7v1h-7zM203,407h7v1h-7zM202,408h9v1h-9zM201,409h11v1h-11zM201,410h11v1h-11zM200,411h13v1h-13zM199,412h15v1h-15zM199,413h15v1h-15zM198,414h17v1h-17z" fill="#ffc020" shape-rendering="crispEdges"/>
<path d="M200,427h13v1h-13zM200,439h13v1h-13zM200,428h1v1h-1zM212,428h1v1h-1zM200,429h1v1h-1zM212,429h1v1h-1zM200,430h1v1h-1zM212,430h1v1h-1zM200,431h1v1h-1zM212,431h1v1h-1zM200,432h1v1h-1zM212,432h1v1h-1zM200,433h1v1h-1zM212,433h1v1h-1zM200,434h1v1h-1zM212,434h1v1h-1zM200,435h1v1h-1zM212,435h1v1h-1zM200,436h1v1h-1zM212,436h1v1h-1zM200,437h1v1h-1zM212,437h1v1h-1zM200,438h1v1h-1zM212,438h1v1h-1z" fill="#c000ff" shape-rendering="crispEdges"/>
<path d="M200,371h13v1h-13zM206,365h1v1h-1zM206,366h1v1h-1zM206,367h1v1h-1zM206,368h1v1h-1zM206,369h1v1h-1zM206,370h1v1h-1zM206,372h1v1h-1zM206,373h1v1h-1zM206,374h1v1h-1zM206,375h1v1h-1zM206,376h1v1h-1zM206,377h1v1h-1z" fill="#008040" shape-rendering="crispEdges"/>
<path d="M206,340h1v1h-1zM205,339h1v1h-1zM207,339h1v1h-1zM205,338h1v1h-1zM207,338h1v1h-1zM204,337h1v1h-1zM208,337h1v1h-1zM203,336h1v1h-1zM209,336h1v1h-1zM203,335h1v1h-1zM209,335h1v1h-1zM202,334h1v1h-1zM210,334h1v1h-1zM201,333h1v1h-1zM211,333h1v1h-1zM201,332h1v1h-1zM211,332h1v1h-1zM200,331h1v1h-1zM212,331h1v1h-1zM199,330h1v1h-1zM213,330h1v1h-1zM199,329h1v1h-1zM213,329h1v1h-1zM198,328h17v1h-17z" fill="#c080ff" shape-rendering="crispEdges"/>
<path d="M206,359h1v1h-1zM205,358h1v1h-1zM207,358h1v1h-1zM205,357h1v1h-1zM207,357h1v1h-1zM204,356h1v1h-1zM208,356h1v1h-1zM203,355h1v1h-1zM209,355h1v1h-1zM203,354h1v1h-1zM209,354h1v1h-1zM202,353h1v1h-1zM210,353h1v1h-1zM201,352h1v1h-1zM211,352h1v1h-1zM201,351h1v1h-1zM211,351h1v1h-1zM200,350h1v1h-1zM212,350h1v1h-1zM199,349h1v1h-1zM213,349h1v1h-1zM199,348h1v1h-1zM213,348h1v1h-1zM198,347h17v1h-17z" fill="#306080" shape-rendering="crispEdges"/>
<path d="M1288,72.5H1345" stroke="#ff0000" stroke-width="1"/>
<path d="M1288,91.5H1345" stroke="#00c000" stroke-width="1"/>
<path d="M1288,110.5H1345" stroke="#0080ff" stroke-width="1"/>
<path d="M1310,123h13v1h-13zM1310,135h13v1h-13zM1310,124h1v1h-1zM1322,124h1v1h-1zM1310,125h1v1h-1zM1322,125h1v1h-1zM1310,126h1v1h-1zM1322,126h1v1h-1zM1310,127h1v1h-1zM1322,127h1v1h-1zM1310,128h1v1h-1zM1322,128h1v1h-1zM1310,129h1v1h-1zM1322,129h1v1h-1zM1310,130h1v1h-1zM1322,130h1v1h-1zM1310,131h1v1h-1zM1322,131h1v1h-1zM1310,132h1v1h-1zM1322,132h1v1h-1zM1310,133h1v1h-1zM1322,133h1v1h-1zM1310,134h1v1h-1zM1322,134h1v1h-1z" fill="#c000ff" shape-rendering="crispEdges"/>
<path d="M1310,142h13v1h-13zM1310,143h13v1h-13zM1310,144h13v1h-13zM1310,145h13v1h-13zM1310,146h13v1h-13zM1310,147h13v1h-13zM1310,148h13v1h-13zM1310,149h13v1h-13zM1310,150h13v1h-13zM1310,151h13v1h-13zM1310,152h13v1h-13zM1310,153h13v1h-13zM1310,154h13v1h-13z" fill="#00eeee" shape-rendering="crispEdges"/>
<path d="M1313,162h7v1h-7zM1312,163h1v1h-1zM1320,163h1v1h-1zM1311,164h1v1h-1zM1321,164h1v1h-1zM1311,165h1v1h-1zM1321,165h1v1h-1zM1311,166h1v1h-1zM1321,166h1v1h-1zM1311,167h1v1h-1zM1321,167h1v1h-1zM1311,168h1v1h-1zM1321,168h1v1h-1zM1311,169h1v1h-1zM1321,169h1v1h-1zM1311,170h1v1h-1zM1321,170h1v1h-1zM1312,171h1v1h-1zM1320,171h1v1h-1zM1313,172h7v1h-7zM1316,161h1v1h-1zM1316,173h1v1h-1zM1310,167h1v1h-1zM1322,167h1v1h-1z" fill="#c04000" shape-rendering="crispEdges"/>
<path d="M1313,181h7v1h-7zM1312,182h9v1h-9zM1311,183h11v1h-11zM1311,184h11v1h-11zM1311,185h11v1h-11zM1311,186h11v1h-11zM1311,187h11v1h-11zM1311,188h11v1h-11zM1311,189h11v1h-11zM1312,190h9v1h-9zM1313,191h7v1h-7zM1316,180h1v1h-1zM1316,192h1v1h-1z" fill="#c8c800" shape-rendering="crispEdges"/>
<path d="M1316,197h1v1h-1zM1315,198h1v1h-1zM1317,198h1v1h-1zM1315,199h1v1h-1zM1317,199h1v1h-1zM1314,200h1v1h-1zM1318,200h1v1h-1zM1313,201h1v1h-1zM1319,201h1v1h-1zM1313,202h1v1h-1zM1319,202h1v1h-1zM1312,203h1v1h-1zM1320,203h1v1h-1zM1311,204h1v1h-1zM1321,204h1v1h-1zM1311,205h1v1h-1zM1321,205h1v1h-1zM1310,206h1v1h-1zM1322,206h1v1h-1zM1309,207h1v1h-1zM1323,207h1v1h-1zM1309,208h1v1h-1zM1323,208h1v1h-1zM1308,209h17v1h-17z" fill="#4169e1" shape-rendering="crispEdges"/>
<path d="M1316,216h1v1h-1zM1315,217h3v1h-3zM1315,218h3v1h-3zM1314,219h5v1h-5zM1313,220h7v1h-7zM1313,221h7v1h-7zM1312,222h9v1h-9zM1311,223h11v1h-11zM1311,224h11v1h-11zM1310,225h13v1h-13zM1309,226h15v1h-15zM1309,227h15v1h-15zM1308,228h17v1h-17z" fill="#ffc020" shape-rendering="crispEdges"/>
<path d="M1310,243h13v1h-13zM1316,237h1v1h-1zM1316,238h1v1h-1zM1316,239h1v1h-1zM1316,240h1v1h-1zM1316,241h1v1h-1zM1316,242h1v1h-1zM1316,244h1v1h-1zM1316,245h1v1h-1zM1316,246h1v1h-1zM1316,247h1v1h-1zM1316,248h1v1h-1zM1316,249h1v1h-1z" fill="#008040" shape-rendering="crispEdges"/>
<path d="M1316,270h1v1h-1zM1315,269h1v1h-1zM1317,269h1v1h-1zM1315,268h1v1h-1zM1317,268h1v1h-1zM1314,267h1v1h-1zM1318,267h1v1h-1zM1313,266h1v1h-1zM1319,266h1v1h-1zM1313,265h1v1h-1zM1319,265h1v1h-1zM1312,264h1v1h-1zM1320,264h1v1h-1zM1311,263h1v1h-1zM1321,263h1v1h-1zM1311,262h1v1h-1zM1321,262h1v1h-1zM1310,261h1v1h-1zM1322,261h1v1h-1zM1309,260h1v1h-1zM1323,260h1v1h-1zM1309,259h1v1h-1zM1323,259h1v1h-1zM1308,258h17v1h-17z" fill="#c080ff" shape-rendering="crispEdges"/>
<path d="M1316,289h1v1h-1zM1315,288h1v1h-1zM1317,288h1v1h-1zM1315,287h1v1h-1zM1317,287h1v1h-1zM1314,286h1v1h-1zM1318,286h1v1h-1zM1313,285h1v1h-1zM1319,285h1v1h-1zM1313,284h1v1h-1zM1319,284h1v1h-1zM1312,283h1v1h-1zM1320,283h1v1h-1zM1311,282h1v1h-1zM1321,282h1v1h-1zM1311,281h1v1h-1zM1321,281h1v1h-1zM1310,280h1v1h-1zM1322,280h1v1h-1zM1309,279h1v1h-1zM1323,279h1v1h-1zM1309,278h1v1h-1zM1323,278h1v1h-1zM1308,277h17v1h-17z" fill="#306080" shape-rendering="crispEdges"/>
<rect x="101.5" y="57.5" width="1265" height="482" fill="none" stroke="#000" stroke-width="1" shape-rendering="crispEdges"/>
</svg></body></html>
